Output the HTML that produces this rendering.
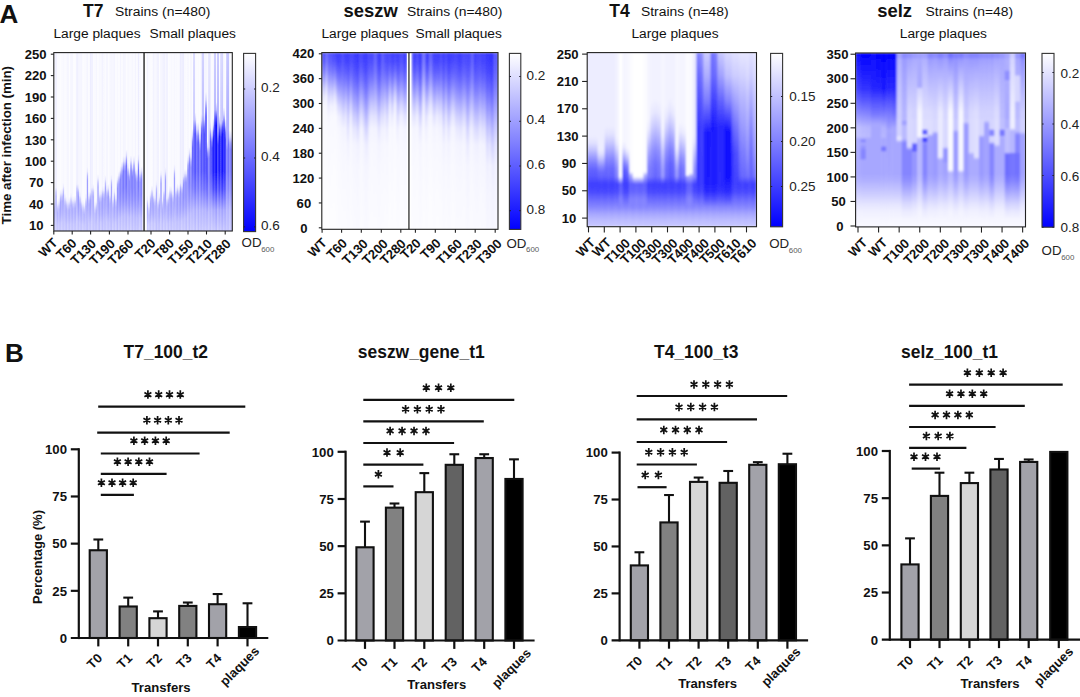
<!DOCTYPE html>
<html><head><meta charset="utf-8"><title>figure</title>
<style>html,body{margin:0;padding:0;background:#fff;}svg{display:block;font-family:"Liberation Sans",sans-serif;}</style></head>
<body>
<svg width="1080" height="697" viewBox="0 0 1080 697">
<rect width="1080" height="697" fill="#fff"/>
<defs>
<linearGradient id="cb" x1="0" y1="0" x2="0" y2="1"><stop offset="0" stop-color="#ffffff"/><stop offset="0.5" stop-color="#8282ff"/><stop offset="1" stop-color="#0000ff"/></linearGradient>
<clipPath id="cpa"><rect x="53.8" y="52.6" width="178.5" height="178.4"/></clipPath>
<filter id="bla" x="-5%" y="-5%" width="110%" height="110%"><feGaussianBlur stdDeviation="0.55"/></filter>
<linearGradient id="g1" x2="0" y2="1"><stop offset="0" stop-color="#f9f9ff"/><stop offset=".814" stop-color="#f9f9ff"/><stop offset=".838" stop-color="#ebebff"/><stop offset=".862" stop-color="#c6c6ff"/><stop offset=".887" stop-color="#b2b2ff"/><stop offset=".902" stop-color="#b2b2ff"/><stop offset=".931" stop-color="#b9b9ff"/><stop offset=".966" stop-color="#c6c6ff"/><stop offset="1" stop-color="#cbcbff"/></linearGradient>
<linearGradient id="g2" x2="0" y2="1"><stop offset="0" stop-color="#ededff"/><stop offset=".733" stop-color="#ededff"/><stop offset=".757" stop-color="#ebebff"/><stop offset=".781" stop-color="#c5c5ff"/><stop offset=".805" stop-color="#b0b0ff"/><stop offset=".852" stop-color="#b0b0ff"/><stop offset=".896" stop-color="#b8b8ff"/><stop offset=".948" stop-color="#c6c6ff"/><stop offset="1" stop-color="#ccccff"/></linearGradient>
<linearGradient id="g3" x2="0" y2="1"><stop offset="0" stop-color="#fbfbff"/><stop offset=".824" stop-color="#fbfbff"/><stop offset=".848" stop-color="#ececff"/><stop offset=".872" stop-color="#c8c8ff"/><stop offset=".896" stop-color="#b4b4ff"/><stop offset=".908" stop-color="#b4b4ff"/><stop offset=".936" stop-color="#babaff"/><stop offset=".968" stop-color="#c6c6ff"/><stop offset="1" stop-color="#cbcbff"/></linearGradient>
<linearGradient id="g4" x2="0" y2="1"><stop offset="0" stop-color="#fbfbff"/><stop offset=".812" stop-color="#fbfbff"/><stop offset=".836" stop-color="#ebebff"/><stop offset=".86" stop-color="#c6c6ff"/><stop offset=".885" stop-color="#b2b2ff"/><stop offset=".901" stop-color="#b2b2ff"/><stop offset=".931" stop-color="#b7b7ff"/><stop offset=".965" stop-color="#c2c2ff"/><stop offset="1" stop-color="#c6c6ff"/></linearGradient>
<linearGradient id="g5" x2="0" y2="1"><stop offset="0" stop-color="#fcfcff"/><stop offset=".767" stop-color="#fcfcff"/><stop offset=".791" stop-color="#e8e8ff"/><stop offset=".815" stop-color="#bebeff"/><stop offset=".839" stop-color="#a7a7ff"/><stop offset=".873" stop-color="#a7a7ff"/><stop offset=".911" stop-color="#b1b1ff"/><stop offset=".955" stop-color="#c4c4ff"/><stop offset="1" stop-color="#cbcbff"/></linearGradient>
<linearGradient id="g6" x2="0" y2="1"><stop offset="0" stop-color="#f9f9ff"/><stop offset=".76" stop-color="#f9f9ff"/><stop offset=".784" stop-color="#e8e8ff"/><stop offset=".809" stop-color="#bdbdff"/><stop offset=".833" stop-color="#a5a5ff"/><stop offset=".869" stop-color="#a5a5ff"/><stop offset=".908" stop-color="#afafff"/><stop offset=".954" stop-color="#c3c3ff"/><stop offset="1" stop-color="#cacaff"/></linearGradient>
<linearGradient id="g7" x2="0" y2="1"><stop offset="0" stop-color="#f8f8ff"/><stop offset=".729" stop-color="#f8f8ff"/><stop offset=".753" stop-color="#eaeaff"/><stop offset=".777" stop-color="#c4c4ff"/><stop offset=".802" stop-color="#afafff"/><stop offset=".849" stop-color="#afafff"/><stop offset=".894" stop-color="#b7b7ff"/><stop offset=".947" stop-color="#c5c5ff"/><stop offset="1" stop-color="#cacaff"/></linearGradient>
<linearGradient id="g8" x2="0" y2="1"><stop offset="0" stop-color="#fafaff"/><stop offset=".787" stop-color="#fafaff"/><stop offset=".811" stop-color="#e9e9ff"/><stop offset=".836" stop-color="#c1c1ff"/><stop offset=".86" stop-color="#acacff"/><stop offset=".885" stop-color="#acacff"/><stop offset=".92" stop-color="#b3b3ff"/><stop offset=".96" stop-color="#c1c1ff"/><stop offset="1" stop-color="#c6c6ff"/></linearGradient>
<linearGradient id="g9" x2="0" y2="1"><stop offset="0" stop-color="#f9f9ff"/><stop offset=".804" stop-color="#f9f9ff"/><stop offset=".829" stop-color="#eaeaff"/><stop offset=".853" stop-color="#c4c4ff"/><stop offset=".877" stop-color="#b0b0ff"/><stop offset=".896" stop-color="#b0b0ff"/><stop offset=".927" stop-color="#b6b6ff"/><stop offset=".964" stop-color="#c2c2ff"/><stop offset="1" stop-color="#c6c6ff"/></linearGradient>
<linearGradient id="g10" x2="0" y2="1"><stop offset="0" stop-color="#f3f3ff"/><stop offset=".812" stop-color="#f3f3ff"/><stop offset=".836" stop-color="#ebebff"/><stop offset=".861" stop-color="#c6c6ff"/><stop offset=".885" stop-color="#b2b2ff"/><stop offset=".901" stop-color="#b2b2ff"/><stop offset=".931" stop-color="#b8b8ff"/><stop offset=".965" stop-color="#c5c5ff"/><stop offset="1" stop-color="#c9c9ff"/></linearGradient>
<linearGradient id="g11" x2="0" y2="1"><stop offset="0" stop-color="#fcfcff"/><stop offset=".808" stop-color="#fcfcff"/><stop offset=".832" stop-color="#ebebff"/><stop offset=".856" stop-color="#c5c5ff"/><stop offset=".881" stop-color="#b1b1ff"/><stop offset=".898" stop-color="#b1b1ff"/><stop offset=".929" stop-color="#b7b7ff"/><stop offset=".964" stop-color="#c3c3ff"/><stop offset="1" stop-color="#c7c7ff"/></linearGradient>
<linearGradient id="g12" x2="0" y2="1"><stop offset="0" stop-color="#f5f5ff"/><stop offset=".784" stop-color="#f5f5ff"/><stop offset=".808" stop-color="#e9e9ff"/><stop offset=".832" stop-color="#c1c1ff"/><stop offset=".857" stop-color="#ababff"/><stop offset=".883" stop-color="#ababff"/><stop offset=".918" stop-color="#b2b2ff"/><stop offset=".959" stop-color="#c1c1ff"/><stop offset="1" stop-color="#c6c6ff"/></linearGradient>
<linearGradient id="g13" x2="0" y2="1"><stop offset="0" stop-color="#f6f6ff"/><stop offset=".803" stop-color="#f6f6ff"/><stop offset=".827" stop-color="#eaeaff"/><stop offset=".851" stop-color="#c4c4ff"/><stop offset=".876" stop-color="#afafff"/><stop offset=".895" stop-color="#afafff"/><stop offset=".927" stop-color="#b6b6ff"/><stop offset=".963" stop-color="#c3c3ff"/><stop offset="1" stop-color="#c7c7ff"/></linearGradient>
<linearGradient id="g14" x2="0" y2="1"><stop offset="0" stop-color="#fcfcff"/><stop offset=".801" stop-color="#fcfcff"/><stop offset=".826" stop-color="#eaeaff"/><stop offset=".85" stop-color="#c4c4ff"/><stop offset=".874" stop-color="#afafff"/><stop offset=".894" stop-color="#afafff"/><stop offset=".926" stop-color="#b5b5ff"/><stop offset=".963" stop-color="#c1c1ff"/><stop offset="1" stop-color="#c5c5ff"/></linearGradient>
<linearGradient id="g15" x2="0" y2="1"><stop offset="0" stop-color="#fbfbff"/><stop offset=".799" stop-color="#fbfbff"/><stop offset=".823" stop-color="#eaeaff"/><stop offset=".847" stop-color="#c3c3ff"/><stop offset=".872" stop-color="#afafff"/><stop offset=".893" stop-color="#afafff"/><stop offset=".925" stop-color="#b6b6ff"/><stop offset=".962" stop-color="#c4c4ff"/><stop offset="1" stop-color="#c9c9ff"/></linearGradient>
<linearGradient id="g16" x2="0" y2="1"><stop offset="0" stop-color="#ededff"/><stop offset=".713" stop-color="#ededff"/><stop offset=".738" stop-color="#eaeaff"/><stop offset=".762" stop-color="#c2c2ff"/><stop offset=".786" stop-color="#acacff"/><stop offset=".84" stop-color="#acacff"/><stop offset=".888" stop-color="#b5b5ff"/><stop offset=".944" stop-color="#c5c5ff"/><stop offset="1" stop-color="#cacaff"/></linearGradient>
<linearGradient id="g17" x2="0" y2="1"><stop offset="0" stop-color="#f5f5ff"/><stop offset=".735" stop-color="#f5f5ff"/><stop offset=".759" stop-color="#e6e6ff"/><stop offset=".783" stop-color="#b8b8ff"/><stop offset=".808" stop-color="#9f9fff"/><stop offset=".853" stop-color="#9f9fff"/><stop offset=".897" stop-color="#aaaaff"/><stop offset=".949" stop-color="#c0c0ff"/><stop offset="1" stop-color="#c8c8ff"/></linearGradient>
<linearGradient id="g18" x2="0" y2="1"><stop offset="0" stop-color="#f5f5ff"/><stop offset=".777" stop-color="#f5f5ff"/><stop offset=".801" stop-color="#e9e9ff"/><stop offset=".825" stop-color="#c0c0ff"/><stop offset=".85" stop-color="#a9a9ff"/><stop offset=".879" stop-color="#a9a9ff"/><stop offset=".915" stop-color="#b1b1ff"/><stop offset=".958" stop-color="#c1c1ff"/><stop offset="1" stop-color="#c6c6ff"/></linearGradient>
<linearGradient id="g19" x2="0" y2="1"><stop offset="0" stop-color="#f5f5ff"/><stop offset=".808" stop-color="#f5f5ff"/><stop offset=".832" stop-color="#ebebff"/><stop offset=".856" stop-color="#c5c5ff"/><stop offset=".88" stop-color="#b1b1ff"/><stop offset=".898" stop-color="#b1b1ff"/><stop offset=".929" stop-color="#b7b7ff"/><stop offset=".964" stop-color="#c4c4ff"/><stop offset="1" stop-color="#c8c8ff"/></linearGradient>
<linearGradient id="g20" x2="0" y2="1"><stop offset="0" stop-color="#fbfbff"/><stop offset=".824" stop-color="#fbfbff"/><stop offset=".848" stop-color="#ececff"/><stop offset=".872" stop-color="#c8c8ff"/><stop offset=".897" stop-color="#b4b4ff"/><stop offset=".908" stop-color="#b4b4ff"/><stop offset=".936" stop-color="#babaff"/><stop offset=".968" stop-color="#c6c6ff"/><stop offset="1" stop-color="#cacaff"/></linearGradient>
<linearGradient id="g21" x2="0" y2="1"><stop offset="0" stop-color="#fafaff"/><stop offset=".834" stop-color="#fafaff"/><stop offset=".858" stop-color="#ececff"/><stop offset=".882" stop-color="#cacaff"/><stop offset=".907" stop-color="#b7b7ff"/><stop offset=".914" stop-color="#b7b7ff"/><stop offset=".94" stop-color="#bdbdff"/><stop offset=".97" stop-color="#c8c8ff"/><stop offset="1" stop-color="#ccccff"/></linearGradient>
<linearGradient id="g22" x2="0" y2="1"><stop offset="0" stop-color="#f8f8ff"/><stop offset=".789" stop-color="#f8f8ff"/><stop offset=".814" stop-color="#eaeaff"/><stop offset=".838" stop-color="#c2c2ff"/><stop offset=".862" stop-color="#acacff"/><stop offset=".887" stop-color="#acacff"/><stop offset=".921" stop-color="#b2b2ff"/><stop offset=".96" stop-color="#bebeff"/><stop offset="1" stop-color="#c2c2ff"/></linearGradient>
<linearGradient id="g23" x2="0" y2="1"><stop offset="0" stop-color="#f5f5ff"/><stop offset=".64" stop-color="#f5f5ff"/><stop offset=".666" stop-color="#e6e6ff"/><stop offset=".692" stop-color="#b7b7ff"/><stop offset=".718" stop-color="#9e9eff"/><stop offset=".794" stop-color="#9e9eff"/><stop offset=".856" stop-color="#a8a8ff"/><stop offset=".928" stop-color="#bdbdff"/><stop offset="1" stop-color="#c4c4ff"/></linearGradient>
<linearGradient id="g24" x2="0" y2="1"><stop offset="0" stop-color="#fcfcff"/><stop offset=".777" stop-color="#fcfcff"/><stop offset=".802" stop-color="#e9e9ff"/><stop offset=".826" stop-color="#c0c0ff"/><stop offset=".85" stop-color="#a9a9ff"/><stop offset=".879" stop-color="#a9a9ff"/><stop offset=".916" stop-color="#b2b2ff"/><stop offset=".958" stop-color="#c2c2ff"/><stop offset="1" stop-color="#c8c8ff"/></linearGradient>
<linearGradient id="g25" x2="0" y2="1"><stop offset="0" stop-color="#ededff"/><stop offset=".757" stop-color="#ededff"/><stop offset=".781" stop-color="#e8e8ff"/><stop offset=".806" stop-color="#bcbcff"/><stop offset=".83" stop-color="#a5a5ff"/><stop offset=".867" stop-color="#a5a5ff"/><stop offset=".907" stop-color="#afafff"/><stop offset=".953" stop-color="#c3c3ff"/><stop offset="1" stop-color="#cacaff"/></linearGradient>
<linearGradient id="g26" x2="0" y2="1"><stop offset="0" stop-color="#ededff"/><stop offset=".731" stop-color="#ededff"/><stop offset=".755" stop-color="#eaeaff"/><stop offset=".779" stop-color="#c4c4ff"/><stop offset=".804" stop-color="#b0b0ff"/><stop offset=".85" stop-color="#b0b0ff"/><stop offset=".895" stop-color="#b7b7ff"/><stop offset=".948" stop-color="#c6c6ff"/><stop offset="1" stop-color="#cbcbff"/></linearGradient>
<linearGradient id="g27" x2="0" y2="1"><stop offset="0" stop-color="#fbfbff"/><stop offset=".736" stop-color="#fbfbff"/><stop offset=".76" stop-color="#ebebff"/><stop offset=".785" stop-color="#c5c5ff"/><stop offset=".809" stop-color="#b1b1ff"/><stop offset=".854" stop-color="#b1b1ff"/><stop offset=".898" stop-color="#b7b7ff"/><stop offset=".949" stop-color="#c4c4ff"/><stop offset="1" stop-color="#c8c8ff"/></linearGradient>
<linearGradient id="g28" x2="0" y2="1"><stop offset="0" stop-color="#fafaff"/><stop offset=".831" stop-color="#fafaff"/><stop offset=".856" stop-color="#ececff"/><stop offset=".88" stop-color="#c9c9ff"/><stop offset=".904" stop-color="#b6b6ff"/><stop offset=".913" stop-color="#b6b6ff"/><stop offset=".939" stop-color="#b9b9ff"/><stop offset=".969" stop-color="#c0c0ff"/><stop offset="1" stop-color="#c2c2ff"/></linearGradient>
<linearGradient id="g29" x2="0" y2="1"><stop offset="0" stop-color="#f6f6ff"/><stop offset=".814" stop-color="#f6f6ff"/><stop offset=".838" stop-color="#ebebff"/><stop offset=".863" stop-color="#c6c6ff"/><stop offset=".887" stop-color="#b2b2ff"/><stop offset=".902" stop-color="#b2b2ff"/><stop offset=".931" stop-color="#b8b8ff"/><stop offset=".966" stop-color="#c5c5ff"/><stop offset="1" stop-color="#c9c9ff"/></linearGradient>
<linearGradient id="g30" x2="0" y2="1"><stop offset="0" stop-color="#fcfcff"/><stop offset=".681" stop-color="#fcfcff"/><stop offset=".706" stop-color="#e8e8ff"/><stop offset=".73" stop-color="#bdbdff"/><stop offset=".754" stop-color="#a6a6ff"/><stop offset=".82" stop-color="#a6a6ff"/><stop offset=".874" stop-color="#afafff"/><stop offset=".937" stop-color="#c0c0ff"/><stop offset="1" stop-color="#c7c7ff"/></linearGradient>
<linearGradient id="g31" x2="0" y2="1"><stop offset="0" stop-color="#f8f8ff"/><stop offset=".771" stop-color="#f8f8ff"/><stop offset=".795" stop-color="#e8e8ff"/><stop offset=".819" stop-color="#bebeff"/><stop offset=".844" stop-color="#a8a8ff"/><stop offset=".875" stop-color="#a8a8ff"/><stop offset=".913" stop-color="#afafff"/><stop offset=".956" stop-color="#bebeff"/><stop offset="1" stop-color="#c3c3ff"/></linearGradient>
<linearGradient id="g32" x2="0" y2="1"><stop offset="0" stop-color="#f7f7ff"/><stop offset=".766" stop-color="#f7f7ff"/><stop offset=".79" stop-color="#e8e8ff"/><stop offset=".814" stop-color="#bebeff"/><stop offset=".839" stop-color="#a7a7ff"/><stop offset=".872" stop-color="#a7a7ff"/><stop offset=".91" stop-color="#b0b0ff"/><stop offset=".955" stop-color="#c3c3ff"/><stop offset="1" stop-color="#cacaff"/></linearGradient>
<linearGradient id="g33" x2="0" y2="1"><stop offset="0" stop-color="#f3f3ff"/><stop offset=".746" stop-color="#f3f3ff"/><stop offset=".77" stop-color="#e7e7ff"/><stop offset=".794" stop-color="#babaff"/><stop offset=".819" stop-color="#a2a2ff"/><stop offset=".86" stop-color="#a2a2ff"/><stop offset=".902" stop-color="#ababff"/><stop offset=".951" stop-color="#bdbdff"/><stop offset="1" stop-color="#c4c4ff"/></linearGradient>
<linearGradient id="g34" x2="0" y2="1"><stop offset="0" stop-color="#f7f7ff"/><stop offset=".748" stop-color="#f7f7ff"/><stop offset=".772" stop-color="#e7e7ff"/><stop offset=".796" stop-color="#babaff"/><stop offset=".821" stop-color="#a2a2ff"/><stop offset=".861" stop-color="#a2a2ff"/><stop offset=".903" stop-color="#ababff"/><stop offset=".951" stop-color="#bdbdff"/><stop offset="1" stop-color="#c4c4ff"/></linearGradient>
<linearGradient id="g35" x2="0" y2="1"><stop offset="0" stop-color="#fbfbff"/><stop offset=".687" stop-color="#fbfbff"/><stop offset=".711" stop-color="#e8e8ff"/><stop offset=".736" stop-color="#bebeff"/><stop offset=".76" stop-color="#a7a7ff"/><stop offset=".823" stop-color="#a7a7ff"/><stop offset=".876" stop-color="#b1b1ff"/><stop offset=".938" stop-color="#c3c3ff"/><stop offset="1" stop-color="#c9c9ff"/></linearGradient>
<linearGradient id="g36" x2="0" y2="1"><stop offset="0" stop-color="#f4f4ff"/><stop offset=".74" stop-color="#f4f4ff"/><stop offset=".764" stop-color="#e7e7ff"/><stop offset=".789" stop-color="#b9b9ff"/><stop offset=".813" stop-color="#a1a1ff"/><stop offset=".856" stop-color="#a1a1ff"/><stop offset=".899" stop-color="#ababff"/><stop offset=".95" stop-color="#c0c0ff"/><stop offset="1" stop-color="#c7c7ff"/></linearGradient>
<linearGradient id="g37" x2="0" y2="1"><stop offset="0" stop-color="#fcfcff"/><stop offset=".735" stop-color="#fcfcff"/><stop offset=".759" stop-color="#e6e6ff"/><stop offset=".783" stop-color="#b8b8ff"/><stop offset=".808" stop-color="#9f9fff"/><stop offset=".853" stop-color="#9f9fff"/><stop offset=".897" stop-color="#ababff"/><stop offset=".949" stop-color="#c2c2ff"/><stop offset="1" stop-color="#cacaff"/></linearGradient>
<linearGradient id="g38" x2="0" y2="1"><stop offset="0" stop-color="#f6f6ff"/><stop offset=".774" stop-color="#f6f6ff"/><stop offset=".799" stop-color="#e9e9ff"/><stop offset=".823" stop-color="#bfbfff"/><stop offset=".847" stop-color="#a9a9ff"/><stop offset=".878" stop-color="#a9a9ff"/><stop offset=".914" stop-color="#b0b0ff"/><stop offset=".957" stop-color="#bebeff"/><stop offset="1" stop-color="#c3c3ff"/></linearGradient>
<linearGradient id="g39" x2="0" y2="1"><stop offset="0" stop-color="#f6f6ff"/><stop offset=".683" stop-color="#f6f6ff"/><stop offset=".707" stop-color="#e8e8ff"/><stop offset=".732" stop-color="#bdbdff"/><stop offset=".756" stop-color="#a7a7ff"/><stop offset=".821" stop-color="#a7a7ff"/><stop offset=".875" stop-color="#aeaeff"/><stop offset=".937" stop-color="#bdbdff"/><stop offset="1" stop-color="#c3c3ff"/></linearGradient>
<linearGradient id="g40" x2="0" y2="1"><stop offset="0" stop-color="#f6f6ff"/><stop offset=".799" stop-color="#f6f6ff"/><stop offset=".823" stop-color="#eaeaff"/><stop offset=".848" stop-color="#c3c3ff"/><stop offset=".872" stop-color="#afafff"/><stop offset=".893" stop-color="#afafff"/><stop offset=".925" stop-color="#b6b6ff"/><stop offset=".962" stop-color="#c5c5ff"/><stop offset="1" stop-color="#cacaff"/></linearGradient>
<linearGradient id="g41" x2="0" y2="1"><stop offset="0" stop-color="#f4f4ff"/><stop offset=".756" stop-color="#f4f4ff"/><stop offset=".78" stop-color="#e7e7ff"/><stop offset=".804" stop-color="#bcbcff"/><stop offset=".828" stop-color="#a4a4ff"/><stop offset=".866" stop-color="#a4a4ff"/><stop offset=".906" stop-color="#aeaeff"/><stop offset=".953" stop-color="#c1c1ff"/><stop offset="1" stop-color="#c8c8ff"/></linearGradient>
<linearGradient id="g42" x2="0" y2="1"><stop offset="0" stop-color="#fcfcff"/><stop offset=".792" stop-color="#fcfcff"/><stop offset=".816" stop-color="#eaeaff"/><stop offset=".84" stop-color="#c2c2ff"/><stop offset=".865" stop-color="#adadff"/><stop offset=".888" stop-color="#adadff"/><stop offset=".922" stop-color="#b5b5ff"/><stop offset=".961" stop-color="#c5c5ff"/><stop offset="1" stop-color="#cbcbff"/></linearGradient>
<linearGradient id="g43" x2="0" y2="1"><stop offset="0" stop-color="#f8f8ff"/><stop offset=".689" stop-color="#f8f8ff"/><stop offset=".713" stop-color="#e3e3ff"/><stop offset=".737" stop-color="#b0b0ff"/><stop offset=".762" stop-color="#9494ff"/><stop offset=".824" stop-color="#9494ff"/><stop offset=".877" stop-color="#a1a1ff"/><stop offset=".939" stop-color="#b9b9ff"/><stop offset="1" stop-color="#c2c2ff"/></linearGradient>
<linearGradient id="g44" x2="0" y2="1"><stop offset="0" stop-color="#fcfcff"/><stop offset=".664" stop-color="#fcfcff"/><stop offset=".689" stop-color="#e2e2ff"/><stop offset=".714" stop-color="#acacff"/><stop offset=".738" stop-color="#8f8fff"/><stop offset=".809" stop-color="#8f8fff"/><stop offset=".866" stop-color="#9f9fff"/><stop offset=".933" stop-color="#bfbfff"/><stop offset="1" stop-color="#cbcbff"/></linearGradient>
<linearGradient id="g45" x2="0" y2="1"><stop offset="0" stop-color="#f5f5ff"/><stop offset=".634" stop-color="#f5f5ff"/><stop offset=".66" stop-color="#e0e0ff"/><stop offset=".686" stop-color="#a6a6ff"/><stop offset=".712" stop-color="#8787ff"/><stop offset=".79" stop-color="#8787ff"/><stop offset=".853" stop-color="#9999ff"/><stop offset=".927" stop-color="#bbbbff"/><stop offset="1" stop-color="#c8c8ff"/></linearGradient>
<linearGradient id="g46" x2="0" y2="1"><stop offset="0" stop-color="#fbfbff"/><stop offset=".609" stop-color="#fbfbff"/><stop offset=".636" stop-color="#dedeff"/><stop offset=".664" stop-color="#a2a2ff"/><stop offset=".691" stop-color="#8282ff"/><stop offset=".775" stop-color="#8282ff"/><stop offset=".842" stop-color="#9595ff"/><stop offset=".921" stop-color="#bcbcff"/><stop offset="1" stop-color="#c9c9ff"/></linearGradient>
<linearGradient id="g47" x2="0" y2="1"><stop offset="0" stop-color="#f5f5ff"/><stop offset=".579" stop-color="#f5f5ff"/><stop offset=".608" stop-color="#ddddff"/><stop offset=".637" stop-color="#9d9dff"/><stop offset=".666" stop-color="#7a7aff"/><stop offset=".756" stop-color="#7a7aff"/><stop offset=".829" stop-color="#9090ff"/><stop offset=".915" stop-color="#bbbbff"/><stop offset="1" stop-color="#cbcbff"/></linearGradient>
<linearGradient id="g48" x2="0" y2="1"><stop offset="0" stop-color="#f5f5ff"/><stop offset=".58" stop-color="#f5f5ff"/><stop offset=".609" stop-color="#ddddff"/><stop offset=".638" stop-color="#9d9dff"/><stop offset=".667" stop-color="#7b7bff"/><stop offset=".757" stop-color="#7b7bff"/><stop offset=".83" stop-color="#8f8fff"/><stop offset=".915" stop-color="#b8b8ff"/><stop offset="1" stop-color="#c6c6ff"/></linearGradient>
<linearGradient id="g49" x2="0" y2="1"><stop offset="0" stop-color="#fcfcff"/><stop offset=".544" stop-color="#fcfcff"/><stop offset=".575" stop-color="#dbdbff"/><stop offset=".606" stop-color="#9797ff"/><stop offset=".637" stop-color="#7272ff"/><stop offset=".735" stop-color="#7272ff"/><stop offset=".814" stop-color="#8989ff"/><stop offset=".907" stop-color="#b6b6ff"/><stop offset="1" stop-color="#c7c7ff"/></linearGradient>
<linearGradient id="g50" x2="0" y2="1"><stop offset="0" stop-color="#f6f6ff"/><stop offset=".616" stop-color="#f6f6ff"/><stop offset=".643" stop-color="#dfdfff"/><stop offset=".67" stop-color="#a3a3ff"/><stop offset=".697" stop-color="#8383ff"/><stop offset=".779" stop-color="#8383ff"/><stop offset=".845" stop-color="#9797ff"/><stop offset=".923" stop-color="#bebeff"/><stop offset="1" stop-color="#ccccff"/></linearGradient>
<linearGradient id="g51" x2="0" y2="1"><stop offset="0" stop-color="#fafaff"/><stop offset=".645" stop-color="#fafaff"/><stop offset=".671" stop-color="#e1e1ff"/><stop offset=".697" stop-color="#a8a8ff"/><stop offset=".722" stop-color="#8a8aff"/><stop offset=".797" stop-color="#8a8aff"/><stop offset=".858" stop-color="#9b9bff"/><stop offset=".929" stop-color="#bdbdff"/><stop offset="1" stop-color="#c9c9ff"/></linearGradient>
<linearGradient id="g52" x2="0" y2="1"><stop offset="0" stop-color="#f9f9ff"/><stop offset=".576" stop-color="#f9f9ff"/><stop offset=".605" stop-color="#dcdcff"/><stop offset=".634" stop-color="#9c9cff"/><stop offset=".664" stop-color="#7a7aff"/><stop offset=".755" stop-color="#7a7aff"/><stop offset=".828" stop-color="#9090ff"/><stop offset=".914" stop-color="#bbbbff"/><stop offset="1" stop-color="#cbcbff"/></linearGradient>
<linearGradient id="g53" x2="0" y2="1"><stop offset="0" stop-color="#f7f7ff"/><stop offset=".617" stop-color="#f7f7ff"/><stop offset=".644" stop-color="#dfdfff"/><stop offset=".671" stop-color="#a4a4ff"/><stop offset=".698" stop-color="#8484ff"/><stop offset=".78" stop-color="#8484ff"/><stop offset=".846" stop-color="#9696ff"/><stop offset=".923" stop-color="#b9b9ff"/><stop offset="1" stop-color="#c6c6ff"/></linearGradient>
<linearGradient id="g54" x2="0" y2="1"><stop offset="0" stop-color="#fafaff"/><stop offset=".578" stop-color="#fafaff"/><stop offset=".607" stop-color="#ddddff"/><stop offset=".636" stop-color="#9d9dff"/><stop offset=".665" stop-color="#7a7aff"/><stop offset=".756" stop-color="#7a7aff"/><stop offset=".829" stop-color="#8f8fff"/><stop offset=".914" stop-color="#b7b7ff"/><stop offset="1" stop-color="#c6c6ff"/></linearGradient>
<linearGradient id="g55" x2="0" y2="1"><stop offset="0" stop-color="#f4f4ff"/><stop offset=".636" stop-color="#f4f4ff"/><stop offset=".662" stop-color="#e0e0ff"/><stop offset=".688" stop-color="#a7a7ff"/><stop offset=".715" stop-color="#8888ff"/><stop offset=".792" stop-color="#8888ff"/><stop offset=".854" stop-color="#9999ff"/><stop offset=".927" stop-color="#bbbbff"/><stop offset="1" stop-color="#c7c7ff"/></linearGradient>
<linearGradient id="g56" x2="0" y2="1"><stop offset="0" stop-color="#fbfbff"/><stop offset=".652" stop-color="#fbfbff"/><stop offset=".677" stop-color="#e1e1ff"/><stop offset=".703" stop-color="#aaaaff"/><stop offset=".728" stop-color="#8c8cff"/><stop offset=".802" stop-color="#8c8cff"/><stop offset=".861" stop-color="#9b9bff"/><stop offset=".931" stop-color="#b8b8ff"/><stop offset="1" stop-color="#c2c2ff"/></linearGradient>
<linearGradient id="g57" x2="0" y2="1"><stop offset="0" stop-color="#ededff"/><stop offset=".569" stop-color="#ededff"/><stop offset=".598" stop-color="#dcdcff"/><stop offset=".628" stop-color="#9b9bff"/><stop offset=".657" stop-color="#7878ff"/><stop offset=".75" stop-color="#7878ff"/><stop offset=".825" stop-color="#8f8fff"/><stop offset=".913" stop-color="#bbbbff"/><stop offset="1" stop-color="#cbcbff"/></linearGradient>
<linearGradient id="g58" x2="0" y2="1"><stop offset="0" stop-color="#f8f8ff"/><stop offset=".652" stop-color="#f8f8ff"/><stop offset=".678" stop-color="#e1e1ff"/><stop offset=".703" stop-color="#aaaaff"/><stop offset=".728" stop-color="#8c8cff"/><stop offset=".802" stop-color="#8c8cff"/><stop offset=".861" stop-color="#9d9dff"/><stop offset=".931" stop-color="#bfbfff"/><stop offset="1" stop-color="#cbcbff"/></linearGradient>
<linearGradient id="g59" x2="0" y2="1"><stop offset="0" stop-color="#fcfcff"/><stop offset=".637" stop-color="#fcfcff"/><stop offset=".663" stop-color="#e0e0ff"/><stop offset=".689" stop-color="#a7a7ff"/><stop offset=".715" stop-color="#8888ff"/><stop offset=".792" stop-color="#8888ff"/><stop offset=".855" stop-color="#9999ff"/><stop offset=".927" stop-color="#babaff"/><stop offset="1" stop-color="#c5c5ff"/></linearGradient>
<linearGradient id="g60" x2="0" y2="1"><stop offset="0" stop-color="#f4f4ff"/><stop offset=".8" stop-color="#f4f4ff"/><stop offset=".824" stop-color="#eaeaff"/><stop offset=".848" stop-color="#c4c4ff"/><stop offset=".872" stop-color="#afafff"/><stop offset=".893" stop-color="#afafff"/><stop offset=".925" stop-color="#b6b6ff"/><stop offset=".963" stop-color="#c5c5ff"/><stop offset="1" stop-color="#cacaff"/></linearGradient>
<linearGradient id="g61" x2="0" y2="1"><stop offset="0" stop-color="#fafaff"/><stop offset=".837" stop-color="#fafaff"/><stop offset=".861" stop-color="#ececff"/><stop offset=".886" stop-color="#cacaff"/><stop offset=".91" stop-color="#b8b8ff"/><stop offset=".916" stop-color="#b8b8ff"/><stop offset=".941" stop-color="#bdbdff"/><stop offset=".971" stop-color="#c7c7ff"/><stop offset="1" stop-color="#cacaff"/></linearGradient>
<linearGradient id="g62" x2="0" y2="1"><stop offset="0" stop-color="#fbfbff"/><stop offset=".773" stop-color="#fbfbff"/><stop offset=".797" stop-color="#e9e9ff"/><stop offset=".821" stop-color="#bfbfff"/><stop offset=".845" stop-color="#a8a8ff"/><stop offset=".876" stop-color="#a8a8ff"/><stop offset=".913" stop-color="#b1b1ff"/><stop offset=".957" stop-color="#c4c4ff"/><stop offset="1" stop-color="#cacaff"/></linearGradient>
<linearGradient id="g63" x2="0" y2="1"><stop offset="0" stop-color="#fbfbff"/><stop offset=".744" stop-color="#fbfbff"/><stop offset=".768" stop-color="#e7e7ff"/><stop offset=".792" stop-color="#babaff"/><stop offset=".816" stop-color="#a1a1ff"/><stop offset=".858" stop-color="#a1a1ff"/><stop offset=".901" stop-color="#adadff"/><stop offset=".95" stop-color="#c4c4ff"/><stop offset="1" stop-color="#ccccff"/></linearGradient>
<linearGradient id="g64" x2="0" y2="1"><stop offset="0" stop-color="#f3f3ff"/><stop offset=".775" stop-color="#f3f3ff"/><stop offset=".8" stop-color="#e9e9ff"/><stop offset=".824" stop-color="#bfbfff"/><stop offset=".848" stop-color="#a9a9ff"/><stop offset=".878" stop-color="#a9a9ff"/><stop offset=".915" stop-color="#b2b2ff"/><stop offset=".957" stop-color="#c5c5ff"/><stop offset="1" stop-color="#cbcbff"/></linearGradient>
<linearGradient id="g65" x2="0" y2="1"><stop offset="0" stop-color="#f7f7ff"/><stop offset=".788" stop-color="#f7f7ff"/><stop offset=".812" stop-color="#e9e9ff"/><stop offset=".837" stop-color="#c1c1ff"/><stop offset=".861" stop-color="#acacff"/><stop offset=".886" stop-color="#acacff"/><stop offset=".92" stop-color="#b5b5ff"/><stop offset=".96" stop-color="#c6c6ff"/><stop offset="1" stop-color="#ccccff"/></linearGradient>
<linearGradient id="g66" x2="0" y2="1"><stop offset="0" stop-color="#f6f6ff"/><stop offset=".715" stop-color="#f6f6ff"/><stop offset=".739" stop-color="#eaeaff"/><stop offset=".763" stop-color="#c2c2ff"/><stop offset=".787" stop-color="#adadff"/><stop offset=".84" stop-color="#adadff"/><stop offset=".888" stop-color="#b3b3ff"/><stop offset=".944" stop-color="#bebeff"/><stop offset="1" stop-color="#c3c3ff"/></linearGradient>
<linearGradient id="g67" x2="0" y2="1"><stop offset="0" stop-color="#ededff"/><stop offset=".806" stop-color="#ededff"/><stop offset=".83" stop-color="#ebebff"/><stop offset=".854" stop-color="#c5c5ff"/><stop offset=".878" stop-color="#b0b0ff"/><stop offset=".897" stop-color="#b0b0ff"/><stop offset=".928" stop-color="#b6b6ff"/><stop offset=".964" stop-color="#c1c1ff"/><stop offset="1" stop-color="#c5c5ff"/></linearGradient>
<linearGradient id="g68" x2="0" y2="1"><stop offset="0" stop-color="#fcfcff"/><stop offset=".784" stop-color="#fcfcff"/><stop offset=".809" stop-color="#e9e9ff"/><stop offset=".833" stop-color="#c1c1ff"/><stop offset=".857" stop-color="#ababff"/><stop offset=".884" stop-color="#ababff"/><stop offset=".919" stop-color="#b3b3ff"/><stop offset=".959" stop-color="#c2c2ff"/><stop offset="1" stop-color="#c8c8ff"/></linearGradient>
<linearGradient id="g69" x2="0" y2="1"><stop offset="0" stop-color="#f5f5ff"/><stop offset=".658" stop-color="#f5f5ff"/><stop offset=".683" stop-color="#e7e7ff"/><stop offset=".708" stop-color="#babaff"/><stop offset=".733" stop-color="#a2a2ff"/><stop offset=".805" stop-color="#a2a2ff"/><stop offset=".864" stop-color="#adadff"/><stop offset=".932" stop-color="#c3c3ff"/><stop offset="1" stop-color="#cbcbff"/></linearGradient>
<linearGradient id="g70" x2="0" y2="1"><stop offset="0" stop-color="#f4f4ff"/><stop offset=".805" stop-color="#f4f4ff"/><stop offset=".829" stop-color="#ebebff"/><stop offset=".854" stop-color="#c4c4ff"/><stop offset=".878" stop-color="#b0b0ff"/><stop offset=".896" stop-color="#b0b0ff"/><stop offset=".927" stop-color="#b6b6ff"/><stop offset=".964" stop-color="#c2c2ff"/><stop offset="1" stop-color="#c6c6ff"/></linearGradient>
<linearGradient id="g71" x2="0" y2="1"><stop offset="0" stop-color="#ededff"/><stop offset=".751" stop-color="#ededff"/><stop offset=".775" stop-color="#e7e7ff"/><stop offset=".799" stop-color="#bbbbff"/><stop offset=".823" stop-color="#a3a3ff"/><stop offset=".863" stop-color="#a3a3ff"/><stop offset=".904" stop-color="#aeaeff"/><stop offset=".952" stop-color="#c3c3ff"/><stop offset="1" stop-color="#cbcbff"/></linearGradient>
<linearGradient id="g72" x2="0" y2="1"><stop offset="0" stop-color="#f7f7ff"/><stop offset=".642" stop-color="#f7f7ff"/><stop offset=".668" stop-color="#e6e6ff"/><stop offset=".694" stop-color="#b8b8ff"/><stop offset=".719" stop-color="#9f9fff"/><stop offset=".795" stop-color="#9f9fff"/><stop offset=".857" stop-color="#aaaaff"/><stop offset=".928" stop-color="#c1c1ff"/><stop offset="1" stop-color="#c9c9ff"/></linearGradient>
<linearGradient id="g73" x2="0" y2="1"><stop offset="0" stop-color="#ededff"/><stop offset=".792" stop-color="#ededff"/><stop offset=".816" stop-color="#eaeaff"/><stop offset=".84" stop-color="#c2c2ff"/><stop offset=".865" stop-color="#adadff"/><stop offset=".888" stop-color="#adadff"/><stop offset=".922" stop-color="#b5b5ff"/><stop offset=".961" stop-color="#c6c6ff"/><stop offset="1" stop-color="#ccccff"/></linearGradient>
<linearGradient id="g74" x2="0" y2="1"><stop offset="0" stop-color="#fcfcff"/><stop offset=".779" stop-color="#fcfcff"/><stop offset=".804" stop-color="#e9e9ff"/><stop offset=".828" stop-color="#c0c0ff"/><stop offset=".852" stop-color="#aaaaff"/><stop offset=".881" stop-color="#aaaaff"/><stop offset=".916" stop-color="#b2b2ff"/><stop offset=".958" stop-color="#c1c1ff"/><stop offset="1" stop-color="#c6c6ff"/></linearGradient>
<linearGradient id="g75" x2="0" y2="1"><stop offset="0" stop-color="#fafaff"/><stop offset=".745" stop-color="#fafaff"/><stop offset=".769" stop-color="#e7e7ff"/><stop offset=".793" stop-color="#babaff"/><stop offset=".818" stop-color="#a2a2ff"/><stop offset=".859" stop-color="#a2a2ff"/><stop offset=".901" stop-color="#acacff"/><stop offset=".951" stop-color="#c0c0ff"/><stop offset="1" stop-color="#c8c8ff"/></linearGradient>
<linearGradient id="g76" x2="0" y2="1"><stop offset="0" stop-color="#f8f8ff"/><stop offset=".748" stop-color="#f8f8ff"/><stop offset=".772" stop-color="#e7e7ff"/><stop offset=".796" stop-color="#babaff"/><stop offset=".821" stop-color="#a2a2ff"/><stop offset=".861" stop-color="#a2a2ff"/><stop offset=".903" stop-color="#acacff"/><stop offset=".951" stop-color="#c0c0ff"/><stop offset="1" stop-color="#c7c7ff"/></linearGradient>
<linearGradient id="g77" x2="0" y2="1"><stop offset="0" stop-color="#fafaff"/><stop offset=".768" stop-color="#fafaff"/><stop offset=".793" stop-color="#e8e8ff"/><stop offset=".817" stop-color="#bebeff"/><stop offset=".841" stop-color="#a7a7ff"/><stop offset=".874" stop-color="#a7a7ff"/><stop offset=".912" stop-color="#afafff"/><stop offset=".956" stop-color="#c0c0ff"/><stop offset="1" stop-color="#c6c6ff"/></linearGradient>
<linearGradient id="g78" x2="0" y2="1"><stop offset="0" stop-color="#f7f7ff"/><stop offset=".626" stop-color="#f7f7ff"/><stop offset=".653" stop-color="#e5e5ff"/><stop offset=".679" stop-color="#b5b5ff"/><stop offset=".706" stop-color="#9c9cff"/><stop offset=".786" stop-color="#9c9cff"/><stop offset=".85" stop-color="#a8a8ff"/><stop offset=".925" stop-color="#c2c2ff"/><stop offset="1" stop-color="#cbcbff"/></linearGradient>
<linearGradient id="g79" x2="0" y2="1"><stop offset="0" stop-color="#f8f8ff"/><stop offset=".748" stop-color="#f8f8ff"/><stop offset=".772" stop-color="#e7e7ff"/><stop offset=".796" stop-color="#babaff"/><stop offset=".821" stop-color="#a2a2ff"/><stop offset=".861" stop-color="#a2a2ff"/><stop offset=".903" stop-color="#ababff"/><stop offset=".951" stop-color="#bdbdff"/><stop offset="1" stop-color="#c3c3ff"/></linearGradient>
<linearGradient id="g80" x2="0" y2="1"><stop offset="0" stop-color="#fafaff"/><stop offset=".732" stop-color="#fafaff"/><stop offset=".756" stop-color="#e6e6ff"/><stop offset=".78" stop-color="#b8b8ff"/><stop offset=".805" stop-color="#9f9fff"/><stop offset=".851" stop-color="#9f9fff"/><stop offset=".896" stop-color="#aaaaff"/><stop offset=".948" stop-color="#c1c1ff"/><stop offset="1" stop-color="#c9c9ff"/></linearGradient>
<linearGradient id="g81" x2="0" y2="1"><stop offset="0" stop-color="#f9f9ff"/><stop offset=".743" stop-color="#f9f9ff"/><stop offset=".767" stop-color="#e7e7ff"/><stop offset=".792" stop-color="#babaff"/><stop offset=".816" stop-color="#a1a1ff"/><stop offset=".858" stop-color="#a1a1ff"/><stop offset=".901" stop-color="#aaaaff"/><stop offset=".95" stop-color="#bcbcff"/><stop offset="1" stop-color="#c2c2ff"/></linearGradient>
<linearGradient id="g82" x2="0" y2="1"><stop offset="0" stop-color="#ededff"/><stop offset=".708" stop-color="#ededff"/><stop offset=".732" stop-color="#e5e5ff"/><stop offset=".757" stop-color="#b3b3ff"/><stop offset=".781" stop-color="#9999ff"/><stop offset=".836" stop-color="#9999ff"/><stop offset=".885" stop-color="#a6a6ff"/><stop offset=".943" stop-color="#c0c0ff"/><stop offset="1" stop-color="#c9c9ff"/></linearGradient>
<linearGradient id="g83" x2="0" y2="1"><stop offset="0" stop-color="#ededff"/><stop offset=".722" stop-color="#ededff"/><stop offset=".746" stop-color="#e5e5ff"/><stop offset=".77" stop-color="#b6b6ff"/><stop offset=".794" stop-color="#9c9cff"/><stop offset=".845" stop-color="#9c9cff"/><stop offset=".891" stop-color="#a9a9ff"/><stop offset=".946" stop-color="#c1c1ff"/><stop offset="1" stop-color="#cacaff"/></linearGradient>
<linearGradient id="g84" x2="0" y2="1"><stop offset="0" stop-color="#ededff"/><stop offset=".669" stop-color="#ededff"/><stop offset=".693" stop-color="#e2e2ff"/><stop offset=".718" stop-color="#adadff"/><stop offset=".742" stop-color="#9090ff"/><stop offset=".812" stop-color="#9090ff"/><stop offset=".868" stop-color="#a0a0ff"/><stop offset=".934" stop-color="#c0c0ff"/><stop offset="1" stop-color="#cbcbff"/></linearGradient>
<linearGradient id="g85" x2="0" y2="1"><stop offset="0" stop-color="#f9f9ff"/><stop offset=".653" stop-color="#f9f9ff"/><stop offset=".678" stop-color="#e1e1ff"/><stop offset=".703" stop-color="#aaaaff"/><stop offset=".729" stop-color="#8c8cff"/><stop offset=".802" stop-color="#8c8cff"/><stop offset=".861" stop-color="#9c9cff"/><stop offset=".931" stop-color="#bbbbff"/><stop offset="1" stop-color="#c6c6ff"/></linearGradient>
<linearGradient id="g86" x2="0" y2="1"><stop offset="0" stop-color="#fbfbff"/><stop offset=".654" stop-color="#fbfbff"/><stop offset=".679" stop-color="#e4e4ff"/><stop offset=".704" stop-color="#b2b2ff"/><stop offset=".73" stop-color="#9898ff"/><stop offset=".803" stop-color="#9898ff"/><stop offset=".862" stop-color="#a3a3ff"/><stop offset=".931" stop-color="#bbbbff"/><stop offset="1" stop-color="#c3c3ff"/></linearGradient>
<linearGradient id="g87" x2="0" y2="1"><stop offset="0" stop-color="#f6f6ff"/><stop offset=".573" stop-color="#f6f6ff"/><stop offset=".602" stop-color="#e0e0ff"/><stop offset=".632" stop-color="#a6a6ff"/><stop offset=".661" stop-color="#8787ff"/><stop offset=".753" stop-color="#8787ff"/><stop offset=".827" stop-color="#9999ff"/><stop offset=".913" stop-color="#bebeff"/><stop offset="1" stop-color="#ccccff"/></linearGradient>
<linearGradient id="g88" x2="0" y2="1"><stop offset="0" stop-color="#fcfcff"/><stop offset=".531" stop-color="#fcfcff"/><stop offset=".563" stop-color="#ddddff"/><stop offset=".594" stop-color="#9f9fff"/><stop offset=".625" stop-color="#7e7eff"/><stop offset=".727" stop-color="#7e7eff"/><stop offset=".809" stop-color="#9191ff"/><stop offset=".904" stop-color="#b6b6ff"/><stop offset="1" stop-color="#c4c4ff"/></linearGradient>
<linearGradient id="g89" x2="0" y2="1"><stop offset="0" stop-color="#f5f5ff"/><stop offset=".553" stop-color="#f5f5ff"/><stop offset=".584" stop-color="#dfdfff"/><stop offset=".614" stop-color="#a3a3ff"/><stop offset=".644" stop-color="#8282ff"/><stop offset=".741" stop-color="#8282ff"/><stop offset=".818" stop-color="#9595ff"/><stop offset=".909" stop-color="#b9b9ff"/><stop offset="1" stop-color="#c6c6ff"/></linearGradient>
<linearGradient id="g90" x2="0" y2="1"><stop offset="0" stop-color="#fcfcff"/><stop offset=".426" stop-color="#fcfcff"/><stop offset=".462" stop-color="#d8d8ff"/><stop offset=".499" stop-color="#8e8eff"/><stop offset=".536" stop-color="#6767ff"/><stop offset=".664" stop-color="#6767ff"/><stop offset=".765" stop-color="#8282ff"/><stop offset=".882" stop-color="#b8b8ff"/><stop offset="1" stop-color="#ccccff"/></linearGradient>
<linearGradient id="g91" x2="0" y2="1"><stop offset="0" stop-color="#d1d1ff"/><stop offset=".166" stop-color="#c6c6ff"/><stop offset=".266" stop-color="#bfbfff"/><stop offset=".333" stop-color="#bbbbff"/><stop offset=".374" stop-color="#b8b8ff"/><stop offset=".416" stop-color="#8080ff"/><stop offset=".457" stop-color="#5353ff"/><stop offset=".664" stop-color="#5353ff"/><stop offset=".765" stop-color="#7272ff"/><stop offset=".882" stop-color="#b0b0ff"/><stop offset="1" stop-color="#c6c6ff"/></linearGradient>
<linearGradient id="g92" x2="0" y2="1"><stop offset="0" stop-color="#fafaff"/><stop offset=".335" stop-color="#fafaff"/><stop offset=".376" stop-color="#d3d3ff"/><stop offset=".417" stop-color="#8080ff"/><stop offset=".458" stop-color="#5454ff"/><stop offset=".664" stop-color="#5454ff"/><stop offset=".765" stop-color="#7272ff"/><stop offset=".882" stop-color="#afafff"/><stop offset="1" stop-color="#c4c4ff"/></linearGradient>
<linearGradient id="g93" x2="0" y2="1"><stop offset="0" stop-color="#fbfbff"/><stop offset=".392" stop-color="#fbfbff"/><stop offset=".431" stop-color="#d6d6ff"/><stop offset=".469" stop-color="#8989ff"/><stop offset=".507" stop-color="#6060ff"/><stop offset=".664" stop-color="#6060ff"/><stop offset=".765" stop-color="#7d7dff"/><stop offset=".882" stop-color="#b7b7ff"/><stop offset="1" stop-color="#cbcbff"/></linearGradient>
<linearGradient id="g94" x2="0" y2="1"><stop offset="0" stop-color="#fafaff"/><stop offset=".389" stop-color="#fafaff"/><stop offset=".427" stop-color="#d6d6ff"/><stop offset=".466" stop-color="#8989ff"/><stop offset=".504" stop-color="#5f5fff"/><stop offset=".664" stop-color="#5f5fff"/><stop offset=".765" stop-color="#7a7aff"/><stop offset=".882" stop-color="#afafff"/><stop offset="1" stop-color="#c2c2ff"/></linearGradient>
<linearGradient id="g95" x2="0" y2="1"><stop offset="0" stop-color="#fcfcff"/><stop offset=".445" stop-color="#fcfcff"/><stop offset=".481" stop-color="#d9d9ff"/><stop offset=".516" stop-color="#9292ff"/><stop offset=".552" stop-color="#6b6bff"/><stop offset=".673" stop-color="#6b6bff"/><stop offset=".771" stop-color="#8484ff"/><stop offset=".886" stop-color="#b4b4ff"/><stop offset="1" stop-color="#c5c5ff"/></linearGradient>
<linearGradient id="g96" x2="0" y2="1"><stop offset="0" stop-color="#ededff"/><stop offset=".342" stop-color="#ededff"/><stop offset=".382" stop-color="#d3d3ff"/><stop offset=".423" stop-color="#8181ff"/><stop offset=".464" stop-color="#5555ff"/><stop offset=".664" stop-color="#5555ff"/><stop offset=".765" stop-color="#7575ff"/><stop offset=".882" stop-color="#b3b3ff"/><stop offset="1" stop-color="#c9c9ff"/></linearGradient>
<linearGradient id="g97" x2="0" y2="1"><stop offset="0" stop-color="#c5c5ff"/><stop offset=".154" stop-color="#b7b7ff"/><stop offset=".241" stop-color="#afafff"/><stop offset=".309" stop-color="#a9a9ff"/><stop offset=".351" stop-color="#a6a6ff"/><stop offset=".394" stop-color="#7c7cff"/><stop offset=".436" stop-color="#4e4eff"/><stop offset=".664" stop-color="#4e4eff"/><stop offset=".765" stop-color="#6e6eff"/><stop offset=".882" stop-color="#aeaeff"/><stop offset="1" stop-color="#c5c5ff"/></linearGradient>
<linearGradient id="g98" x2="0" y2="1"><stop offset="0" stop-color="#f5f5ff"/><stop offset=".333" stop-color="#f5f5ff"/><stop offset=".375" stop-color="#d3d3ff"/><stop offset=".416" stop-color="#8080ff"/><stop offset=".457" stop-color="#5353ff"/><stop offset=".664" stop-color="#5353ff"/><stop offset=".765" stop-color="#7474ff"/><stop offset=".882" stop-color="#b4b4ff"/><stop offset="1" stop-color="#cbcbff"/></linearGradient>
<linearGradient id="g99" x2="0" y2="1"><stop offset="0" stop-color="#f4f4ff"/><stop offset=".22" stop-color="#f4f4ff"/><stop offset=".267" stop-color="#ccccff"/><stop offset=".314" stop-color="#6e6eff"/><stop offset=".361" stop-color="#3b3bff"/><stop offset=".664" stop-color="#3b3bff"/><stop offset=".765" stop-color="#6060ff"/><stop offset=".882" stop-color="#a9a9ff"/><stop offset="1" stop-color="#c4c4ff"/></linearGradient>
<linearGradient id="g100" x2="0" y2="1"><stop offset="0" stop-color="#f9f9ff"/><stop offset=".498" stop-color="#f9f9ff"/><stop offset=".531" stop-color="#d4d4ff"/><stop offset=".564" stop-color="#8686ff"/><stop offset=".597" stop-color="#5b5bff"/><stop offset=".706" stop-color="#5b5bff"/><stop offset=".794" stop-color="#7979ff"/><stop offset=".897" stop-color="#b4b4ff"/><stop offset="1" stop-color="#cacaff"/></linearGradient>
<linearGradient id="g101" x2="0" y2="1"><stop offset="0" stop-color="#e0e0ff"/><stop offset=".246" stop-color="#d8d8ff"/><stop offset=".425" stop-color="#d2d2ff"/><stop offset=".492" stop-color="#cfcfff"/><stop offset=".526" stop-color="#ceceff"/><stop offset=".559" stop-color="#9999ff"/><stop offset=".592" stop-color="#7575ff"/><stop offset=".703" stop-color="#7575ff"/><stop offset=".792" stop-color="#8b8bff"/><stop offset=".896" stop-color="#b7b7ff"/><stop offset="1" stop-color="#c7c7ff"/></linearGradient>
<linearGradient id="g102" x2="0" y2="1"><stop offset="0" stop-color="#ededff"/><stop offset=".384" stop-color="#ededff"/><stop offset=".423" stop-color="#d5d5ff"/><stop offset=".462" stop-color="#8888ff"/><stop offset=".5" stop-color="#5e5eff"/><stop offset=".664" stop-color="#5e5eff"/><stop offset=".765" stop-color="#7b7bff"/><stop offset=".882" stop-color="#b3b3ff"/><stop offset="1" stop-color="#c7c7ff"/></linearGradient>
<linearGradient id="g103" x2="0" y2="1"><stop offset="0" stop-color="#fbfbff"/><stop offset=".429" stop-color="#fbfbff"/><stop offset=".466" stop-color="#c9c9ff"/><stop offset=".502" stop-color="#6464ff"/><stop offset=".539" stop-color="#2e2eff"/><stop offset=".664" stop-color="#2e2eff"/><stop offset=".765" stop-color="#5959ff"/><stop offset=".882" stop-color="#acacff"/><stop offset="1" stop-color="#cbcbff"/></linearGradient>
<linearGradient id="g104" x2="0" y2="1"><stop offset="0" stop-color="#f7f7ff"/><stop offset=".367" stop-color="#f7f7ff"/><stop offset=".406" stop-color="#c5c5ff"/><stop offset=".446" stop-color="#5959ff"/><stop offset=".486" stop-color="#2020ff"/><stop offset=".664" stop-color="#2020ff"/><stop offset=".765" stop-color="#4e4eff"/><stop offset=".882" stop-color="#ababff"/><stop offset="1" stop-color="#ccccff"/></linearGradient>
<linearGradient id="g105" x2="0" y2="1"><stop offset="0" stop-color="#bfbfff"/><stop offset=".138" stop-color="#b0b0ff"/><stop offset=".209" stop-color="#a9a9ff"/><stop offset=".276" stop-color="#a2a2ff"/><stop offset=".32" stop-color="#9d9dff"/><stop offset=".364" stop-color="#4c4cff"/><stop offset=".408" stop-color="#0d0dff"/><stop offset=".664" stop-color="#0d0dff"/><stop offset=".765" stop-color="#3e3eff"/><stop offset=".882" stop-color="#a0a0ff"/><stop offset="1" stop-color="#c3c3ff"/></linearGradient>
<linearGradient id="g106" x2="0" y2="1"><stop offset="0" stop-color="#f9f9ff"/><stop offset=".278" stop-color="#f9f9ff"/><stop offset=".322" stop-color="#c0c0ff"/><stop offset=".366" stop-color="#4c4cff"/><stop offset=".41" stop-color="#0d0dff"/><stop offset=".664" stop-color="#0d0dff"/><stop offset=".765" stop-color="#3e3eff"/><stop offset=".882" stop-color="#9f9fff"/><stop offset="1" stop-color="#c2c2ff"/></linearGradient>
<linearGradient id="g107" x2="0" y2="1"><stop offset="0" stop-color="#babaff"/><stop offset=".201" stop-color="#a8a8ff"/><stop offset=".335" stop-color="#9c9cff"/><stop offset=".402" stop-color="#9696ff"/><stop offset=".44" stop-color="#9393ff"/><stop offset=".478" stop-color="#6060ff"/><stop offset=".516" stop-color="#2828ff"/><stop offset=".664" stop-color="#2828ff"/><stop offset=".765" stop-color="#5454ff"/><stop offset=".882" stop-color="#acacff"/><stop offset="1" stop-color="#cbcbff"/></linearGradient>
<linearGradient id="g108" x2="0" y2="1"><stop offset="0" stop-color="#fbfbff"/><stop offset=".35" stop-color="#fbfbff"/><stop offset=".39" stop-color="#c4c4ff"/><stop offset=".431" stop-color="#5757ff"/><stop offset=".471" stop-color="#1c1cff"/><stop offset=".664" stop-color="#1c1cff"/><stop offset=".765" stop-color="#4b4bff"/><stop offset=".882" stop-color="#a8a8ff"/><stop offset="1" stop-color="#c9c9ff"/></linearGradient>
<linearGradient id="g109" x2="0" y2="1"><stop offset="0" stop-color="#d9d9ff"/><stop offset=".178" stop-color="#cfcfff"/><stop offset=".289" stop-color="#c9c9ff"/><stop offset=".356" stop-color="#c6c6ff"/><stop offset=".396" stop-color="#c4c4ff"/><stop offset=".437" stop-color="#5858ff"/><stop offset=".477" stop-color="#1d1dff"/><stop offset=".664" stop-color="#1d1dff"/><stop offset=".765" stop-color="#4a4aff"/><stop offset=".882" stop-color="#a3a3ff"/><stop offset="1" stop-color="#c3c3ff"/></linearGradient>
<linearGradient id="g110" x2="0" y2="1"><stop offset="0" stop-color="#d9d9ff"/><stop offset=".167" stop-color="#cfcfff"/><stop offset=".267" stop-color="#cacaff"/><stop offset=".334" stop-color="#c6c6ff"/><stop offset=".375" stop-color="#c3c3ff"/><stop offset=".417" stop-color="#5454ff"/><stop offset=".458" stop-color="#1818ff"/><stop offset=".664" stop-color="#1818ff"/><stop offset=".765" stop-color="#4646ff"/><stop offset=".882" stop-color="#a2a2ff"/><stop offset="1" stop-color="#c2c2ff"/></linearGradient>
<linearGradient id="g111" x2="0" y2="1"><stop offset="0" stop-color="#f8f8ff"/><stop offset=".307" stop-color="#f8f8ff"/><stop offset=".35" stop-color="#c1c1ff"/><stop offset=".392" stop-color="#4f4fff"/><stop offset=".435" stop-color="#1111ff"/><stop offset=".664" stop-color="#1111ff"/><stop offset=".765" stop-color="#4242ff"/><stop offset=".882" stop-color="#a2a2ff"/><stop offset="1" stop-color="#c4c4ff"/></linearGradient>
<linearGradient id="g112" x2="0" y2="1"><stop offset="0" stop-color="#fcfcff"/><stop offset=".369" stop-color="#fcfcff"/><stop offset=".409" stop-color="#d0d0ff"/><stop offset=".448" stop-color="#7878ff"/><stop offset=".488" stop-color="#4949ff"/><stop offset=".664" stop-color="#4949ff"/><stop offset=".765" stop-color="#6a6aff"/><stop offset=".882" stop-color="#ababff"/><stop offset="1" stop-color="#c3c3ff"/></linearGradient>
<linearGradient id="g113" x2="0" y2="1"><stop offset="0" stop-color="#c2c2ff"/><stop offset=".219" stop-color="#b1b1ff"/><stop offset=".371" stop-color="#a6a6ff"/><stop offset=".438" stop-color="#a1a1ff"/><stop offset=".474" stop-color="#9e9eff"/><stop offset=".51" stop-color="#9c9cff"/><stop offset=".546" stop-color="#7a7aff"/><stop offset=".669" stop-color="#7a7aff"/><stop offset=".768" stop-color="#8e8eff"/><stop offset=".884" stop-color="#b4b4ff"/><stop offset="1" stop-color="#c2c2ff"/></linearGradient>
<linearGradient id="g114" x2="0" y2="1"><stop offset="0" stop-color="#c8c8ff"/><stop offset=".2" stop-color="#babaff"/><stop offset=".333" stop-color="#b0b0ff"/><stop offset=".4" stop-color="#ababff"/><stop offset=".438" stop-color="#a9a9ff"/><stop offset=".476" stop-color="#9797ff"/><stop offset=".514" stop-color="#7373ff"/><stop offset=".664" stop-color="#7373ff"/><stop offset=".765" stop-color="#8a8aff"/><stop offset=".882" stop-color="#b6b6ff"/><stop offset="1" stop-color="#c6c6ff"/></linearGradient>
<linearGradient id="g115" x2="0" y2="1"><stop offset="0" stop-color="#fcfcff"/><stop offset=".433" stop-color="#fcfcff"/><stop offset=".47" stop-color="#dcdcff"/><stop offset=".506" stop-color="#9c9cff"/><stop offset=".542" stop-color="#7979ff"/><stop offset=".666" stop-color="#7979ff"/><stop offset=".766" stop-color="#8e8eff"/><stop offset=".883" stop-color="#b8b8ff"/><stop offset="1" stop-color="#c7c7ff"/></linearGradient>
<linearGradient id="g116" x2="0" y2="1"><stop offset="0" stop-color="#fcfcff"/><stop offset=".439" stop-color="#fcfcff"/><stop offset=".475" stop-color="#ddddff"/><stop offset=".511" stop-color="#9d9dff"/><stop offset=".547" stop-color="#7b7bff"/><stop offset=".67" stop-color="#7b7bff"/><stop offset=".769" stop-color="#8f8fff"/><stop offset=".884" stop-color="#b9b9ff"/><stop offset="1" stop-color="#c7c7ff"/></linearGradient>
<clipPath id="cpb"><rect x="321.8" y="52.6" width="176.2" height="176.7"/></clipPath>
<filter id="blb" x="-5%" y="-5%" width="110%" height="110%"><feGaussianBlur stdDeviation="0.8"/></filter>
<linearGradient id="g117" x2="0" y2="1"><stop offset="0" stop-color="#3434ff"/><stop offset=".05" stop-color="#4646ff"/><stop offset=".1" stop-color="#6e6eff"/><stop offset=".15" stop-color="#a0a0ff"/><stop offset=".2" stop-color="#d0d0ff"/><stop offset=".25" stop-color="#f1f1ff"/><stop offset=".3" stop-color="#f9f9ff"/><stop offset=".36" stop-color="#fafaff"/><stop offset=".43" stop-color="#fafaff"/><stop offset=".52" stop-color="#fbfbff"/><stop offset=".64" stop-color="#fcfcff"/><stop offset=".8" stop-color="#fdfdff"/><stop offset="1" stop-color="#fdfdff"/></linearGradient>
<linearGradient id="g118" x2="0" y2="1"><stop offset="0" stop-color="#3a3aff"/><stop offset=".05" stop-color="#4747ff"/><stop offset=".1" stop-color="#6565ff"/><stop offset=".15" stop-color="#8d8dff"/><stop offset=".2" stop-color="#b7b7ff"/><stop offset=".25" stop-color="#dbdbff"/><stop offset=".3" stop-color="#f2f2ff"/><stop offset=".36" stop-color="#f8f8ff"/><stop offset=".43" stop-color="#f9f9ff"/><stop offset=".52" stop-color="#fafaff"/><stop offset=".64" stop-color="#fbfbff"/><stop offset=".8" stop-color="#fcfcff"/><stop offset="1" stop-color="#fdfdff"/></linearGradient>
<linearGradient id="g119" x2="0" y2="1"><stop offset="0" stop-color="#4949ff"/><stop offset=".05" stop-color="#5959ff"/><stop offset=".1" stop-color="#7c7cff"/><stop offset=".15" stop-color="#a7a7ff"/><stop offset=".2" stop-color="#d2d2ff"/><stop offset=".25" stop-color="#f0f0ff"/><stop offset=".3" stop-color="#f8f8ff"/><stop offset=".36" stop-color="#f9f9ff"/><stop offset=".43" stop-color="#fafaff"/><stop offset=".52" stop-color="#fbfbff"/><stop offset=".64" stop-color="#fcfcff"/><stop offset=".8" stop-color="#fdfdff"/><stop offset="1" stop-color="#fdfdff"/></linearGradient>
<linearGradient id="g120" x2="0" y2="1"><stop offset="0" stop-color="#7070ff"/><stop offset=".05" stop-color="#7f7fff"/><stop offset=".1" stop-color="#9f9fff"/><stop offset=".15" stop-color="#c6c6ff"/><stop offset=".2" stop-color="#e7e7ff"/><stop offset=".25" stop-color="#f8f8ff"/><stop offset=".3" stop-color="#f9f9ff"/><stop offset=".36" stop-color="#fafaff"/><stop offset=".43" stop-color="#fbfbff"/><stop offset=".52" stop-color="#fcfcff"/><stop offset=".64" stop-color="#fcfcff"/><stop offset=".8" stop-color="#fdfdff"/><stop offset="1" stop-color="#fdfdff"/></linearGradient>
<linearGradient id="g121" x2="0" y2="1"><stop offset="0" stop-color="#3434ff"/><stop offset=".05" stop-color="#3f3fff"/><stop offset=".1" stop-color="#5555ff"/><stop offset=".15" stop-color="#7474ff"/><stop offset=".2" stop-color="#9696ff"/><stop offset=".25" stop-color="#b9b9ff"/><stop offset=".3" stop-color="#d7d7ff"/><stop offset=".36" stop-color="#f0f0ff"/><stop offset=".43" stop-color="#f7f7ff"/><stop offset=".52" stop-color="#f8f8ff"/><stop offset=".64" stop-color="#f9f9ff"/><stop offset=".8" stop-color="#fbfbff"/><stop offset="1" stop-color="#fcfcff"/></linearGradient>
<linearGradient id="g122" x2="0" y2="1"><stop offset="0" stop-color="#4949ff"/><stop offset=".05" stop-color="#5656ff"/><stop offset=".1" stop-color="#7474ff"/><stop offset=".15" stop-color="#9a9aff"/><stop offset=".2" stop-color="#c1c1ff"/><stop offset=".25" stop-color="#e2e2ff"/><stop offset=".3" stop-color="#f5f5ff"/><stop offset=".36" stop-color="#f8f8ff"/><stop offset=".43" stop-color="#f9f9ff"/><stop offset=".52" stop-color="#fafaff"/><stop offset=".64" stop-color="#fbfbff"/><stop offset=".8" stop-color="#fcfcff"/><stop offset="1" stop-color="#fdfdff"/></linearGradient>
<linearGradient id="g123" x2="0" y2="1"><stop offset="0" stop-color="#4848ff"/><stop offset=".05" stop-color="#5454ff"/><stop offset=".1" stop-color="#6f6fff"/><stop offset=".15" stop-color="#9292ff"/><stop offset=".2" stop-color="#b8b8ff"/><stop offset=".25" stop-color="#d9d9ff"/><stop offset=".3" stop-color="#f0f0ff"/><stop offset=".36" stop-color="#f8f8ff"/><stop offset=".43" stop-color="#f9f9ff"/><stop offset=".52" stop-color="#fafaff"/><stop offset=".64" stop-color="#fbfbff"/><stop offset=".8" stop-color="#fcfcff"/><stop offset="1" stop-color="#fdfdff"/></linearGradient>
<linearGradient id="g124" x2="0" y2="1"><stop offset="0" stop-color="#3232ff"/><stop offset=".05" stop-color="#3f3fff"/><stop offset=".1" stop-color="#5b5bff"/><stop offset=".15" stop-color="#8080ff"/><stop offset=".2" stop-color="#a9a9ff"/><stop offset=".25" stop-color="#ceceff"/><stop offset=".3" stop-color="#eaeaff"/><stop offset=".36" stop-color="#f7f7ff"/><stop offset=".43" stop-color="#f8f8ff"/><stop offset=".52" stop-color="#f9f9ff"/><stop offset=".64" stop-color="#fbfbff"/><stop offset=".8" stop-color="#fcfcff"/><stop offset="1" stop-color="#fdfdff"/></linearGradient>
<linearGradient id="g125" x2="0" y2="1"><stop offset="0" stop-color="#3f3fff"/><stop offset=".05" stop-color="#4f4fff"/><stop offset=".1" stop-color="#7474ff"/><stop offset=".15" stop-color="#a1a1ff"/><stop offset=".2" stop-color="#cdcdff"/><stop offset=".25" stop-color="#eeeeff"/><stop offset=".3" stop-color="#f8f8ff"/><stop offset=".36" stop-color="#f9f9ff"/><stop offset=".43" stop-color="#fafaff"/><stop offset=".52" stop-color="#fbfbff"/><stop offset=".64" stop-color="#fcfcff"/><stop offset=".8" stop-color="#fdfdff"/><stop offset="1" stop-color="#fdfdff"/></linearGradient>
<linearGradient id="g126" x2="0" y2="1"><stop offset="0" stop-color="#2f2fff"/><stop offset=".05" stop-color="#3d3dff"/><stop offset=".1" stop-color="#5c5cff"/><stop offset=".15" stop-color="#8484ff"/><stop offset=".2" stop-color="#afafff"/><stop offset=".25" stop-color="#d6d6ff"/><stop offset=".3" stop-color="#f0f0ff"/><stop offset=".36" stop-color="#f8f8ff"/><stop offset=".43" stop-color="#f9f9ff"/><stop offset=".52" stop-color="#fafaff"/><stop offset=".64" stop-color="#fbfbff"/><stop offset=".8" stop-color="#fcfcff"/><stop offset="1" stop-color="#fdfdff"/></linearGradient>
<linearGradient id="g127" x2="0" y2="1"><stop offset="0" stop-color="#2727ff"/><stop offset=".05" stop-color="#3333ff"/><stop offset=".1" stop-color="#4d4dff"/><stop offset=".15" stop-color="#7070ff"/><stop offset=".2" stop-color="#9797ff"/><stop offset=".25" stop-color="#bdbdff"/><stop offset=".3" stop-color="#ddddff"/><stop offset=".36" stop-color="#f4f4ff"/><stop offset=".43" stop-color="#f7f7ff"/><stop offset=".52" stop-color="#f9f9ff"/><stop offset=".64" stop-color="#fafaff"/><stop offset=".8" stop-color="#fbfbff"/><stop offset="1" stop-color="#fcfcff"/></linearGradient>
<linearGradient id="g128" x2="0" y2="1"><stop offset="0" stop-color="#3030ff"/><stop offset=".05" stop-color="#3939ff"/><stop offset=".1" stop-color="#4e4eff"/><stop offset=".15" stop-color="#6a6aff"/><stop offset=".2" stop-color="#8a8aff"/><stop offset=".25" stop-color="#ababff"/><stop offset=".3" stop-color="#cacaff"/><stop offset=".36" stop-color="#e6e6ff"/><stop offset=".43" stop-color="#f5f5ff"/><stop offset=".52" stop-color="#f7f7ff"/><stop offset=".64" stop-color="#f9f9ff"/><stop offset=".8" stop-color="#fafaff"/><stop offset="1" stop-color="#fbfbff"/></linearGradient>
<linearGradient id="g129" x2="0" y2="1"><stop offset="0" stop-color="#2727ff"/><stop offset=".05" stop-color="#3232ff"/><stop offset=".1" stop-color="#4b4bff"/><stop offset=".15" stop-color="#6e6eff"/><stop offset=".2" stop-color="#9494ff"/><stop offset=".25" stop-color="#b9b9ff"/><stop offset=".3" stop-color="#dadaff"/><stop offset=".36" stop-color="#f2f2ff"/><stop offset=".43" stop-color="#f7f7ff"/><stop offset=".52" stop-color="#f8f8ff"/><stop offset=".64" stop-color="#fafaff"/><stop offset=".8" stop-color="#fbfbff"/><stop offset="1" stop-color="#fcfcff"/></linearGradient>
<linearGradient id="g130" x2="0" y2="1"><stop offset="0" stop-color="#3c3cff"/><stop offset=".05" stop-color="#4444ff"/><stop offset=".1" stop-color="#5454ff"/><stop offset=".15" stop-color="#6b6bff"/><stop offset=".2" stop-color="#8585ff"/><stop offset=".25" stop-color="#a2a2ff"/><stop offset=".3" stop-color="#bdbdff"/><stop offset=".36" stop-color="#dadaff"/><stop offset=".43" stop-color="#f0f0ff"/><stop offset=".52" stop-color="#f6f6ff"/><stop offset=".64" stop-color="#f7f7ff"/><stop offset=".8" stop-color="#f9f9ff"/><stop offset="1" stop-color="#fbfbff"/></linearGradient>
<linearGradient id="g131" x2="0" y2="1"><stop offset="0" stop-color="#4040ff"/><stop offset=".05" stop-color="#4949ff"/><stop offset=".1" stop-color="#5a5aff"/><stop offset=".15" stop-color="#7272ff"/><stop offset=".2" stop-color="#8d8dff"/><stop offset=".25" stop-color="#aaaaff"/><stop offset=".3" stop-color="#c6c6ff"/><stop offset=".36" stop-color="#e1e1ff"/><stop offset=".43" stop-color="#f3f3ff"/><stop offset=".52" stop-color="#f6f6ff"/><stop offset=".64" stop-color="#f8f8ff"/><stop offset=".8" stop-color="#fafaff"/><stop offset="1" stop-color="#fbfbff"/></linearGradient>
<linearGradient id="g132" x2="0" y2="1"><stop offset="0" stop-color="#2222ff"/><stop offset=".05" stop-color="#2b2bff"/><stop offset=".1" stop-color="#3e3eff"/><stop offset=".15" stop-color="#5757ff"/><stop offset=".2" stop-color="#7575ff"/><stop offset=".25" stop-color="#9595ff"/><stop offset=".3" stop-color="#b5b5ff"/><stop offset=".36" stop-color="#d5d5ff"/><stop offset=".43" stop-color="#efefff"/><stop offset=".52" stop-color="#f5f5ff"/><stop offset=".64" stop-color="#f7f7ff"/><stop offset=".8" stop-color="#f9f9ff"/><stop offset="1" stop-color="#fbfbff"/></linearGradient>
<linearGradient id="g133" x2="0" y2="1"><stop offset="0" stop-color="#3333ff"/><stop offset=".05" stop-color="#3f3fff"/><stop offset=".1" stop-color="#5858ff"/><stop offset=".15" stop-color="#7b7bff"/><stop offset=".2" stop-color="#a1a1ff"/><stop offset=".25" stop-color="#c5c5ff"/><stop offset=".3" stop-color="#e3e3ff"/><stop offset=".36" stop-color="#f6f6ff"/><stop offset=".43" stop-color="#f8f8ff"/><stop offset=".52" stop-color="#f9f9ff"/><stop offset=".64" stop-color="#fafaff"/><stop offset=".8" stop-color="#fbfbff"/><stop offset="1" stop-color="#fcfcff"/></linearGradient>
<linearGradient id="g134" x2="0" y2="1"><stop offset="0" stop-color="#1d1dff"/><stop offset=".05" stop-color="#2323ff"/><stop offset=".1" stop-color="#3131ff"/><stop offset=".15" stop-color="#4444ff"/><stop offset=".2" stop-color="#5a5aff"/><stop offset=".25" stop-color="#7474ff"/><stop offset=".3" stop-color="#8e8eff"/><stop offset=".36" stop-color="#adadff"/><stop offset=".43" stop-color="#cdcdff"/><stop offset=".52" stop-color="#ebebff"/><stop offset=".64" stop-color="#f4f4ff"/><stop offset=".8" stop-color="#f6f6ff"/><stop offset="1" stop-color="#f8f8ff"/></linearGradient>
<linearGradient id="g135" x2="0" y2="1"><stop offset="0" stop-color="#3535ff"/><stop offset=".05" stop-color="#3e3eff"/><stop offset=".1" stop-color="#5252ff"/><stop offset=".15" stop-color="#6d6dff"/><stop offset=".2" stop-color="#8c8cff"/><stop offset=".25" stop-color="#acacff"/><stop offset=".3" stop-color="#cacaff"/><stop offset=".36" stop-color="#e6e6ff"/><stop offset=".43" stop-color="#f5f5ff"/><stop offset=".52" stop-color="#f7f7ff"/><stop offset=".64" stop-color="#f9f9ff"/><stop offset=".8" stop-color="#fafaff"/><stop offset="1" stop-color="#fbfbff"/></linearGradient>
<linearGradient id="g136" x2="0" y2="1"><stop offset="0" stop-color="#3232ff"/><stop offset=".05" stop-color="#3c3cff"/><stop offset=".1" stop-color="#5353ff"/><stop offset=".15" stop-color="#7171ff"/><stop offset=".2" stop-color="#9494ff"/><stop offset=".25" stop-color="#b6b6ff"/><stop offset=".3" stop-color="#d5d5ff"/><stop offset=".36" stop-color="#eeeeff"/><stop offset=".43" stop-color="#f6f6ff"/><stop offset=".52" stop-color="#f8f8ff"/><stop offset=".64" stop-color="#f9f9ff"/><stop offset=".8" stop-color="#fbfbff"/><stop offset="1" stop-color="#fcfcff"/></linearGradient>
<linearGradient id="g137" x2="0" y2="1"><stop offset="0" stop-color="#3a3aff"/><stop offset=".05" stop-color="#4141ff"/><stop offset=".1" stop-color="#5050ff"/><stop offset=".15" stop-color="#6464ff"/><stop offset=".2" stop-color="#7c7cff"/><stop offset=".25" stop-color="#9696ff"/><stop offset=".3" stop-color="#b0b0ff"/><stop offset=".36" stop-color="#cdcdff"/><stop offset=".43" stop-color="#e7e7ff"/><stop offset=".52" stop-color="#f4f4ff"/><stop offset=".64" stop-color="#f6f6ff"/><stop offset=".8" stop-color="#f8f8ff"/><stop offset="1" stop-color="#fafaff"/></linearGradient>
<linearGradient id="g138" x2="0" y2="1"><stop offset="0" stop-color="#2a2aff"/><stop offset=".05" stop-color="#3131ff"/><stop offset=".1" stop-color="#4040ff"/><stop offset=".15" stop-color="#5555ff"/><stop offset=".2" stop-color="#6e6eff"/><stop offset=".25" stop-color="#8989ff"/><stop offset=".3" stop-color="#a4a4ff"/><stop offset=".36" stop-color="#c3c3ff"/><stop offset=".43" stop-color="#e0e0ff"/><stop offset=".52" stop-color="#f3f3ff"/><stop offset=".64" stop-color="#f6f6ff"/><stop offset=".8" stop-color="#f8f8ff"/><stop offset="1" stop-color="#fafaff"/></linearGradient>
<linearGradient id="g139" x2="0" y2="1"><stop offset="0" stop-color="#2929ff"/><stop offset=".05" stop-color="#3131ff"/><stop offset=".1" stop-color="#4141ff"/><stop offset=".15" stop-color="#5757ff"/><stop offset=".2" stop-color="#7171ff"/><stop offset=".25" stop-color="#8e8eff"/><stop offset=".3" stop-color="#aaaaff"/><stop offset=".36" stop-color="#cacaff"/><stop offset=".43" stop-color="#e6e6ff"/><stop offset=".52" stop-color="#f4f4ff"/><stop offset=".64" stop-color="#f6f6ff"/><stop offset=".8" stop-color="#f8f8ff"/><stop offset="1" stop-color="#fafaff"/></linearGradient>
<linearGradient id="g140" x2="0" y2="1"><stop offset="0" stop-color="#2424ff"/><stop offset=".05" stop-color="#2b2bff"/><stop offset=".1" stop-color="#3a3aff"/><stop offset=".15" stop-color="#4e4eff"/><stop offset=".2" stop-color="#6767ff"/><stop offset=".25" stop-color="#8282ff"/><stop offset=".3" stop-color="#9d9dff"/><stop offset=".36" stop-color="#bdbdff"/><stop offset=".43" stop-color="#dbdbff"/><stop offset=".52" stop-color="#f2f2ff"/><stop offset=".64" stop-color="#f5f5ff"/><stop offset=".8" stop-color="#f7f7ff"/><stop offset="1" stop-color="#f9f9ff"/></linearGradient>
<linearGradient id="g141" x2="0" y2="1"><stop offset="0" stop-color="#1d1dff"/><stop offset=".05" stop-color="#2323ff"/><stop offset=".1" stop-color="#3131ff"/><stop offset=".15" stop-color="#4444ff"/><stop offset=".2" stop-color="#5b5bff"/><stop offset=".25" stop-color="#7474ff"/><stop offset=".3" stop-color="#8f8fff"/><stop offset=".36" stop-color="#aeaeff"/><stop offset=".43" stop-color="#ceceff"/><stop offset=".52" stop-color="#ebebff"/><stop offset=".64" stop-color="#f4f4ff"/><stop offset=".8" stop-color="#f6f6ff"/><stop offset="1" stop-color="#f8f8ff"/></linearGradient>
<linearGradient id="g142" x2="0" y2="1"><stop offset="0" stop-color="#3f3fff"/><stop offset=".05" stop-color="#4747ff"/><stop offset=".1" stop-color="#5858ff"/><stop offset=".15" stop-color="#6f6fff"/><stop offset=".2" stop-color="#8a8aff"/><stop offset=".25" stop-color="#a7a7ff"/><stop offset=".3" stop-color="#c2c2ff"/><stop offset=".36" stop-color="#dedeff"/><stop offset=".43" stop-color="#f2f2ff"/><stop offset=".52" stop-color="#f6f6ff"/><stop offset=".64" stop-color="#f8f8ff"/><stop offset=".8" stop-color="#f9f9ff"/><stop offset="1" stop-color="#fbfbff"/></linearGradient>
<linearGradient id="g143" x2="0" y2="1"><stop offset="0" stop-color="#3636ff"/><stop offset=".05" stop-color="#3e3eff"/><stop offset=".1" stop-color="#4f4fff"/><stop offset=".15" stop-color="#6767ff"/><stop offset=".2" stop-color="#8383ff"/><stop offset=".25" stop-color="#a1a1ff"/><stop offset=".3" stop-color="#bdbdff"/><stop offset=".36" stop-color="#dadaff"/><stop offset=".43" stop-color="#f1f1ff"/><stop offset=".52" stop-color="#f6f6ff"/><stop offset=".64" stop-color="#f8f8ff"/><stop offset=".8" stop-color="#f9f9ff"/><stop offset="1" stop-color="#fbfbff"/></linearGradient>
<linearGradient id="g144" x2="0" y2="1"><stop offset="0" stop-color="#3232ff"/><stop offset=".05" stop-color="#3a3aff"/><stop offset=".1" stop-color="#4b4bff"/><stop offset=".15" stop-color="#6363ff"/><stop offset=".2" stop-color="#7e7eff"/><stop offset=".25" stop-color="#9c9cff"/><stop offset=".3" stop-color="#b8b8ff"/><stop offset=".36" stop-color="#d6d6ff"/><stop offset=".43" stop-color="#eeeeff"/><stop offset=".52" stop-color="#f5f5ff"/><stop offset=".64" stop-color="#f7f7ff"/><stop offset=".8" stop-color="#f9f9ff"/><stop offset="1" stop-color="#fbfbff"/></linearGradient>
<linearGradient id="g145" x2="0" y2="1"><stop offset="0" stop-color="#2828ff"/><stop offset=".05" stop-color="#2e2eff"/><stop offset=".1" stop-color="#3c3cff"/><stop offset=".15" stop-color="#4f4fff"/><stop offset=".2" stop-color="#6666ff"/><stop offset=".25" stop-color="#7f7fff"/><stop offset=".3" stop-color="#9a9aff"/><stop offset=".36" stop-color="#b8b8ff"/><stop offset=".43" stop-color="#d6d6ff"/><stop offset=".52" stop-color="#efefff"/><stop offset=".64" stop-color="#f4f4ff"/><stop offset=".8" stop-color="#f7f7ff"/><stop offset="1" stop-color="#f9f9ff"/></linearGradient>
<linearGradient id="g146" x2="0" y2="1"><stop offset="0" stop-color="#2828ff"/><stop offset=".05" stop-color="#2f2fff"/><stop offset=".1" stop-color="#3b3bff"/><stop offset=".15" stop-color="#4d4dff"/><stop offset=".2" stop-color="#6262ff"/><stop offset=".25" stop-color="#7a7aff"/><stop offset=".3" stop-color="#9393ff"/><stop offset=".36" stop-color="#b0b0ff"/><stop offset=".43" stop-color="#ceceff"/><stop offset=".52" stop-color="#eaeaff"/><stop offset=".64" stop-color="#f4f4ff"/><stop offset=".8" stop-color="#f6f6ff"/><stop offset="1" stop-color="#f8f8ff"/></linearGradient>
<linearGradient id="g147" x2="0" y2="1"><stop offset="0" stop-color="#2b2bff"/><stop offset=".05" stop-color="#3131ff"/><stop offset=".1" stop-color="#3e3eff"/><stop offset=".15" stop-color="#4f4fff"/><stop offset=".2" stop-color="#6363ff"/><stop offset=".25" stop-color="#7a7aff"/><stop offset=".3" stop-color="#9292ff"/><stop offset=".36" stop-color="#aeaeff"/><stop offset=".43" stop-color="#ccccff"/><stop offset=".52" stop-color="#e8e8ff"/><stop offset=".64" stop-color="#f3f3ff"/><stop offset=".8" stop-color="#f6f6ff"/><stop offset="1" stop-color="#f8f8ff"/></linearGradient>
<linearGradient id="g148" x2="0" y2="1"><stop offset="0" stop-color="#4040ff"/><stop offset=".05" stop-color="#4848ff"/><stop offset=".1" stop-color="#5757ff"/><stop offset=".15" stop-color="#6d6dff"/><stop offset=".2" stop-color="#8787ff"/><stop offset=".25" stop-color="#a2a2ff"/><stop offset=".3" stop-color="#bdbdff"/><stop offset=".36" stop-color="#d9d9ff"/><stop offset=".43" stop-color="#efefff"/><stop offset=".52" stop-color="#f5f5ff"/><stop offset=".64" stop-color="#f7f7ff"/><stop offset=".8" stop-color="#f9f9ff"/><stop offset="1" stop-color="#fbfbff"/></linearGradient>
<linearGradient id="g149" x2="0" y2="1"><stop offset="0" stop-color="#2d2dff"/><stop offset=".05" stop-color="#3535ff"/><stop offset=".1" stop-color="#4848ff"/><stop offset=".15" stop-color="#6161ff"/><stop offset=".2" stop-color="#7f7fff"/><stop offset=".25" stop-color="#9e9eff"/><stop offset=".3" stop-color="#bcbcff"/><stop offset=".36" stop-color="#dbdbff"/><stop offset=".43" stop-color="#f1f1ff"/><stop offset=".52" stop-color="#f6f6ff"/><stop offset=".64" stop-color="#f8f8ff"/><stop offset=".8" stop-color="#f9f9ff"/><stop offset="1" stop-color="#fbfbff"/></linearGradient>
<linearGradient id="g150" x2="0" y2="1"><stop offset="0" stop-color="#3f3fff"/><stop offset=".05" stop-color="#4848ff"/><stop offset=".1" stop-color="#5a5aff"/><stop offset=".15" stop-color="#7474ff"/><stop offset=".2" stop-color="#9292ff"/><stop offset=".25" stop-color="#b0b0ff"/><stop offset=".3" stop-color="#cdcdff"/><stop offset=".36" stop-color="#e7e7ff"/><stop offset=".43" stop-color="#f5f5ff"/><stop offset=".52" stop-color="#f7f7ff"/><stop offset=".64" stop-color="#f9f9ff"/><stop offset=".8" stop-color="#fafaff"/><stop offset="1" stop-color="#fbfbff"/></linearGradient>
<linearGradient id="g151" x2="0" y2="1"><stop offset="0" stop-color="#2c2cff"/><stop offset=".05" stop-color="#3434ff"/><stop offset=".1" stop-color="#4646ff"/><stop offset=".15" stop-color="#5f5fff"/><stop offset=".2" stop-color="#7c7cff"/><stop offset=".25" stop-color="#9b9bff"/><stop offset=".3" stop-color="#b9b9ff"/><stop offset=".36" stop-color="#d8d8ff"/><stop offset=".43" stop-color="#f0f0ff"/><stop offset=".52" stop-color="#f6f6ff"/><stop offset=".64" stop-color="#f7f7ff"/><stop offset=".8" stop-color="#f9f9ff"/><stop offset="1" stop-color="#fbfbff"/></linearGradient>
<linearGradient id="g152" x2="0" y2="1"><stop offset="0" stop-color="#6565ff"/><stop offset=".05" stop-color="#6c6cff"/><stop offset=".1" stop-color="#7979ff"/><stop offset=".15" stop-color="#8c8cff"/><stop offset=".2" stop-color="#a1a1ff"/><stop offset=".25" stop-color="#b7b7ff"/><stop offset=".3" stop-color="#ccccff"/><stop offset=".36" stop-color="#e2e2ff"/><stop offset=".43" stop-color="#f2f2ff"/><stop offset=".52" stop-color="#f6f6ff"/><stop offset=".64" stop-color="#f8f8ff"/><stop offset=".8" stop-color="#f9f9ff"/><stop offset="1" stop-color="#fbfbff"/></linearGradient>
<linearGradient id="g153" x2="0" y2="1"><stop offset="0" stop-color="#4040ff"/><stop offset=".05" stop-color="#4949ff"/><stop offset=".1" stop-color="#5959ff"/><stop offset=".15" stop-color="#7171ff"/><stop offset=".2" stop-color="#8c8cff"/><stop offset=".25" stop-color="#a9a9ff"/><stop offset=".3" stop-color="#c4c4ff"/><stop offset=".36" stop-color="#dfdfff"/><stop offset=".43" stop-color="#f3f3ff"/><stop offset=".52" stop-color="#f6f6ff"/><stop offset=".64" stop-color="#f8f8ff"/><stop offset=".8" stop-color="#fafaff"/><stop offset="1" stop-color="#fbfbff"/></linearGradient>
<linearGradient id="g154" x2="0" y2="1"><stop offset="0" stop-color="#3131ff"/><stop offset=".05" stop-color="#3838ff"/><stop offset=".1" stop-color="#4848ff"/><stop offset=".15" stop-color="#5d5dff"/><stop offset=".2" stop-color="#7777ff"/><stop offset=".25" stop-color="#9292ff"/><stop offset=".3" stop-color="#aeaeff"/><stop offset=".36" stop-color="#ccccff"/><stop offset=".43" stop-color="#e7e7ff"/><stop offset=".52" stop-color="#f4f4ff"/><stop offset=".64" stop-color="#f6f6ff"/><stop offset=".8" stop-color="#f8f8ff"/><stop offset="1" stop-color="#fafaff"/></linearGradient>
<linearGradient id="g155" x2="0" y2="1"><stop offset="0" stop-color="#2c2cff"/><stop offset=".05" stop-color="#3333ff"/><stop offset=".1" stop-color="#4141ff"/><stop offset=".15" stop-color="#5454ff"/><stop offset=".2" stop-color="#6b6bff"/><stop offset=".25" stop-color="#8484ff"/><stop offset=".3" stop-color="#9e9eff"/><stop offset=".36" stop-color="#bcbcff"/><stop offset=".43" stop-color="#d9d9ff"/><stop offset=".52" stop-color="#f0f0ff"/><stop offset=".64" stop-color="#f5f5ff"/><stop offset=".8" stop-color="#f7f7ff"/><stop offset="1" stop-color="#f9f9ff"/></linearGradient>
<linearGradient id="g156" x2="0" y2="1"><stop offset="0" stop-color="#2424ff"/><stop offset=".05" stop-color="#2d2dff"/><stop offset=".1" stop-color="#4141ff"/><stop offset=".15" stop-color="#5e5eff"/><stop offset=".2" stop-color="#7e7eff"/><stop offset=".25" stop-color="#a0a0ff"/><stop offset=".3" stop-color="#c0c0ff"/><stop offset=".36" stop-color="#e0e0ff"/><stop offset=".43" stop-color="#f4f4ff"/><stop offset=".52" stop-color="#f6f6ff"/><stop offset=".64" stop-color="#f8f8ff"/><stop offset=".8" stop-color="#fafaff"/><stop offset="1" stop-color="#fbfbff"/></linearGradient>
<linearGradient id="g157" x2="0" y2="1"><stop offset="0" stop-color="#6363ff"/><stop offset=".05" stop-color="#6a6aff"/><stop offset=".1" stop-color="#7676ff"/><stop offset=".15" stop-color="#8686ff"/><stop offset=".2" stop-color="#9a9aff"/><stop offset=".25" stop-color="#aeaeff"/><stop offset=".3" stop-color="#c3c3ff"/><stop offset=".36" stop-color="#d9d9ff"/><stop offset=".43" stop-color="#ececff"/><stop offset=".52" stop-color="#f5f5ff"/><stop offset=".64" stop-color="#f7f7ff"/><stop offset=".8" stop-color="#f9f9ff"/><stop offset="1" stop-color="#fafaff"/></linearGradient>
<linearGradient id="g158" x2="0" y2="1"><stop offset="0" stop-color="#3131ff"/><stop offset=".05" stop-color="#3939ff"/><stop offset=".1" stop-color="#4a4aff"/><stop offset=".15" stop-color="#6262ff"/><stop offset=".2" stop-color="#7f7fff"/><stop offset=".25" stop-color="#9d9dff"/><stop offset=".3" stop-color="#babaff"/><stop offset=".36" stop-color="#d8d8ff"/><stop offset=".43" stop-color="#efefff"/><stop offset=".52" stop-color="#f6f6ff"/><stop offset=".64" stop-color="#f7f7ff"/><stop offset=".8" stop-color="#f9f9ff"/><stop offset="1" stop-color="#fbfbff"/></linearGradient>
<linearGradient id="g159" x2="0" y2="1"><stop offset="0" stop-color="#4444ff"/><stop offset=".05" stop-color="#4e4eff"/><stop offset=".1" stop-color="#6565ff"/><stop offset=".15" stop-color="#8383ff"/><stop offset=".2" stop-color="#a4a4ff"/><stop offset=".25" stop-color="#c5c5ff"/><stop offset=".3" stop-color="#e0e0ff"/><stop offset=".36" stop-color="#f4f4ff"/><stop offset=".43" stop-color="#f7f7ff"/><stop offset=".52" stop-color="#f9f9ff"/><stop offset=".64" stop-color="#fafaff"/><stop offset=".8" stop-color="#fbfbff"/><stop offset="1" stop-color="#fcfcff"/></linearGradient>
<linearGradient id="g160" x2="0" y2="1"><stop offset="0" stop-color="#2727ff"/><stop offset=".05" stop-color="#2e2eff"/><stop offset=".1" stop-color="#3d3dff"/><stop offset=".15" stop-color="#5252ff"/><stop offset=".2" stop-color="#6b6bff"/><stop offset=".25" stop-color="#8686ff"/><stop offset=".3" stop-color="#a2a2ff"/><stop offset=".36" stop-color="#c1c1ff"/><stop offset=".43" stop-color="#dfdfff"/><stop offset=".52" stop-color="#f3f3ff"/><stop offset=".64" stop-color="#f5f5ff"/><stop offset=".8" stop-color="#f8f8ff"/><stop offset="1" stop-color="#fafaff"/></linearGradient>
<linearGradient id="g161" x2="0" y2="1"><stop offset="0" stop-color="#3b3bff"/><stop offset=".05" stop-color="#4444ff"/><stop offset=".1" stop-color="#5757ff"/><stop offset=".15" stop-color="#7272ff"/><stop offset=".2" stop-color="#9191ff"/><stop offset=".25" stop-color="#b0b0ff"/><stop offset=".3" stop-color="#cdcdff"/><stop offset=".36" stop-color="#e8e8ff"/><stop offset=".43" stop-color="#f6f6ff"/><stop offset=".52" stop-color="#f7f7ff"/><stop offset=".64" stop-color="#f9f9ff"/><stop offset=".8" stop-color="#fafaff"/><stop offset="1" stop-color="#fcfcff"/></linearGradient>
<linearGradient id="g162" x2="0" y2="1"><stop offset="0" stop-color="#3333ff"/><stop offset=".05" stop-color="#4141ff"/><stop offset=".1" stop-color="#6060ff"/><stop offset=".15" stop-color="#8a8aff"/><stop offset=".2" stop-color="#b5b5ff"/><stop offset=".25" stop-color="#dbdbff"/><stop offset=".3" stop-color="#f3f3ff"/><stop offset=".36" stop-color="#f8f8ff"/><stop offset=".43" stop-color="#f9f9ff"/><stop offset=".52" stop-color="#fafaff"/><stop offset=".64" stop-color="#fbfbff"/><stop offset=".8" stop-color="#fcfcff"/><stop offset="1" stop-color="#fdfdff"/></linearGradient>
<linearGradient id="g163" x2="0" y2="1"><stop offset="0" stop-color="#3333ff"/><stop offset=".05" stop-color="#3c3cff"/><stop offset=".1" stop-color="#5050ff"/><stop offset=".15" stop-color="#6b6bff"/><stop offset=".2" stop-color="#8a8aff"/><stop offset=".25" stop-color="#aaaaff"/><stop offset=".3" stop-color="#c8c8ff"/><stop offset=".36" stop-color="#e4e4ff"/><stop offset=".43" stop-color="#f5f5ff"/><stop offset=".52" stop-color="#f7f7ff"/><stop offset=".64" stop-color="#f8f8ff"/><stop offset=".8" stop-color="#fafaff"/><stop offset="1" stop-color="#fbfbff"/></linearGradient>
<linearGradient id="g164" x2="0" y2="1"><stop offset="0" stop-color="#2525ff"/><stop offset=".05" stop-color="#2f2fff"/><stop offset=".1" stop-color="#4545ff"/><stop offset=".15" stop-color="#6363ff"/><stop offset=".2" stop-color="#8686ff"/><stop offset=".25" stop-color="#a9a9ff"/><stop offset=".3" stop-color="#c9c9ff"/><stop offset=".36" stop-color="#e7e7ff"/><stop offset=".43" stop-color="#f6f6ff"/><stop offset=".52" stop-color="#f7f7ff"/><stop offset=".64" stop-color="#f9f9ff"/><stop offset=".8" stop-color="#fafaff"/><stop offset="1" stop-color="#fcfcff"/></linearGradient>
<linearGradient id="g165" x2="0" y2="1"><stop offset="0" stop-color="#3232ff"/><stop offset=".05" stop-color="#4040ff"/><stop offset=".1" stop-color="#5f5fff"/><stop offset=".15" stop-color="#8888ff"/><stop offset=".2" stop-color="#b3b3ff"/><stop offset=".25" stop-color="#d9d9ff"/><stop offset=".3" stop-color="#f1f1ff"/><stop offset=".36" stop-color="#f8f8ff"/><stop offset=".43" stop-color="#f9f9ff"/><stop offset=".52" stop-color="#fafaff"/><stop offset=".64" stop-color="#fbfbff"/><stop offset=".8" stop-color="#fcfcff"/><stop offset="1" stop-color="#fdfdff"/></linearGradient>
<linearGradient id="g166" x2="0" y2="1"><stop offset="0" stop-color="#3636ff"/><stop offset=".05" stop-color="#4444ff"/><stop offset=".1" stop-color="#6363ff"/><stop offset=".15" stop-color="#8c8cff"/><stop offset=".2" stop-color="#b7b7ff"/><stop offset=".25" stop-color="#dcdcff"/><stop offset=".3" stop-color="#f3f3ff"/><stop offset=".36" stop-color="#f8f8ff"/><stop offset=".43" stop-color="#f9f9ff"/><stop offset=".52" stop-color="#fafaff"/><stop offset=".64" stop-color="#fbfbff"/><stop offset=".8" stop-color="#fcfcff"/><stop offset="1" stop-color="#fdfdff"/></linearGradient>
<linearGradient id="g167" x2="0" y2="1"><stop offset="0" stop-color="#2020ff"/><stop offset=".05" stop-color="#2828ff"/><stop offset=".1" stop-color="#3838ff"/><stop offset=".15" stop-color="#4f4fff"/><stop offset=".2" stop-color="#6a6aff"/><stop offset=".25" stop-color="#8787ff"/><stop offset=".3" stop-color="#a5a5ff"/><stop offset=".36" stop-color="#c5c5ff"/><stop offset=".43" stop-color="#e3e3ff"/><stop offset=".52" stop-color="#f4f4ff"/><stop offset=".64" stop-color="#f6f6ff"/><stop offset=".8" stop-color="#f8f8ff"/><stop offset="1" stop-color="#fafaff"/></linearGradient>
<linearGradient id="g168" x2="0" y2="1"><stop offset="0" stop-color="#3434ff"/><stop offset=".05" stop-color="#3e3eff"/><stop offset=".1" stop-color="#5252ff"/><stop offset=".15" stop-color="#6e6eff"/><stop offset=".2" stop-color="#8e8eff"/><stop offset=".25" stop-color="#afafff"/><stop offset=".3" stop-color="#cdcdff"/><stop offset=".36" stop-color="#e8e8ff"/><stop offset=".43" stop-color="#f6f6ff"/><stop offset=".52" stop-color="#f7f7ff"/><stop offset=".64" stop-color="#f9f9ff"/><stop offset=".8" stop-color="#fafaff"/><stop offset="1" stop-color="#fcfcff"/></linearGradient>
<linearGradient id="g169" x2="0" y2="1"><stop offset="0" stop-color="#3434ff"/><stop offset=".05" stop-color="#3d3dff"/><stop offset=".1" stop-color="#5252ff"/><stop offset=".15" stop-color="#6e6eff"/><stop offset=".2" stop-color="#8e8eff"/><stop offset=".25" stop-color="#afafff"/><stop offset=".3" stop-color="#cdcdff"/><stop offset=".36" stop-color="#e8e8ff"/><stop offset=".43" stop-color="#f6f6ff"/><stop offset=".52" stop-color="#f7f7ff"/><stop offset=".64" stop-color="#f9f9ff"/><stop offset=".8" stop-color="#fafaff"/><stop offset="1" stop-color="#fcfcff"/></linearGradient>
<linearGradient id="g170" x2="0" y2="1"><stop offset="0" stop-color="#4545ff"/><stop offset=".05" stop-color="#4f4fff"/><stop offset=".1" stop-color="#6464ff"/><stop offset=".15" stop-color="#8080ff"/><stop offset=".2" stop-color="#a0a0ff"/><stop offset=".25" stop-color="#c0c0ff"/><stop offset=".3" stop-color="#dbdbff"/><stop offset=".36" stop-color="#f1f1ff"/><stop offset=".43" stop-color="#f7f7ff"/><stop offset=".52" stop-color="#f8f8ff"/><stop offset=".64" stop-color="#fafaff"/><stop offset=".8" stop-color="#fbfbff"/><stop offset="1" stop-color="#fcfcff"/></linearGradient>
<linearGradient id="g171" x2="0" y2="1"><stop offset="0" stop-color="#2b2bff"/><stop offset=".05" stop-color="#3434ff"/><stop offset=".1" stop-color="#4848ff"/><stop offset=".15" stop-color="#6363ff"/><stop offset=".2" stop-color="#8282ff"/><stop offset=".25" stop-color="#a3a3ff"/><stop offset=".3" stop-color="#c2c2ff"/><stop offset=".36" stop-color="#e0e0ff"/><stop offset=".43" stop-color="#f4f4ff"/><stop offset=".52" stop-color="#f6f6ff"/><stop offset=".64" stop-color="#f8f8ff"/><stop offset=".8" stop-color="#fafaff"/><stop offset="1" stop-color="#fbfbff"/></linearGradient>
<linearGradient id="g172" x2="0" y2="1"><stop offset="0" stop-color="#2b2bff"/><stop offset=".05" stop-color="#3434ff"/><stop offset=".1" stop-color="#4646ff"/><stop offset=".15" stop-color="#6060ff"/><stop offset=".2" stop-color="#7e7eff"/><stop offset=".25" stop-color="#9d9dff"/><stop offset=".3" stop-color="#bcbcff"/><stop offset=".36" stop-color="#dbdbff"/><stop offset=".43" stop-color="#f1f1ff"/><stop offset=".52" stop-color="#f6f6ff"/><stop offset=".64" stop-color="#f8f8ff"/><stop offset=".8" stop-color="#f9f9ff"/><stop offset="1" stop-color="#fbfbff"/></linearGradient>
<linearGradient id="g173" x2="0" y2="1"><stop offset="0" stop-color="#2e2eff"/><stop offset=".05" stop-color="#3636ff"/><stop offset=".1" stop-color="#4949ff"/><stop offset=".15" stop-color="#6363ff"/><stop offset=".2" stop-color="#8282ff"/><stop offset=".25" stop-color="#a2a2ff"/><stop offset=".3" stop-color="#c0c0ff"/><stop offset=".36" stop-color="#dedeff"/><stop offset=".43" stop-color="#f3f3ff"/><stop offset=".52" stop-color="#f6f6ff"/><stop offset=".64" stop-color="#f8f8ff"/><stop offset=".8" stop-color="#fafaff"/><stop offset="1" stop-color="#fbfbff"/></linearGradient>
<linearGradient id="g174" x2="0" y2="1"><stop offset="0" stop-color="#3838ff"/><stop offset=".05" stop-color="#4141ff"/><stop offset=".1" stop-color="#5252ff"/><stop offset=".15" stop-color="#6b6bff"/><stop offset=".2" stop-color="#8787ff"/><stop offset=".25" stop-color="#a5a5ff"/><stop offset=".3" stop-color="#c2c2ff"/><stop offset=".36" stop-color="#dfdfff"/><stop offset=".43" stop-color="#f3f3ff"/><stop offset=".52" stop-color="#f6f6ff"/><stop offset=".64" stop-color="#f8f8ff"/><stop offset=".8" stop-color="#fafaff"/><stop offset="1" stop-color="#fbfbff"/></linearGradient>
<linearGradient id="g175" x2="0" y2="1"><stop offset="0" stop-color="#2d2dff"/><stop offset=".05" stop-color="#3636ff"/><stop offset=".1" stop-color="#4949ff"/><stop offset=".15" stop-color="#6464ff"/><stop offset=".2" stop-color="#8383ff"/><stop offset=".25" stop-color="#a4a4ff"/><stop offset=".3" stop-color="#c2c2ff"/><stop offset=".36" stop-color="#e0e0ff"/><stop offset=".43" stop-color="#f4f4ff"/><stop offset=".52" stop-color="#f6f6ff"/><stop offset=".64" stop-color="#f8f8ff"/><stop offset=".8" stop-color="#fafaff"/><stop offset="1" stop-color="#fbfbff"/></linearGradient>
<linearGradient id="g176" x2="0" y2="1"><stop offset="0" stop-color="#2a2aff"/><stop offset=".05" stop-color="#3333ff"/><stop offset=".1" stop-color="#4646ff"/><stop offset=".15" stop-color="#6161ff"/><stop offset=".2" stop-color="#8080ff"/><stop offset=".25" stop-color="#a0a0ff"/><stop offset=".3" stop-color="#bfbfff"/><stop offset=".36" stop-color="#dedeff"/><stop offset=".43" stop-color="#f3f3ff"/><stop offset=".52" stop-color="#f6f6ff"/><stop offset=".64" stop-color="#f8f8ff"/><stop offset=".8" stop-color="#fafaff"/><stop offset="1" stop-color="#fbfbff"/></linearGradient>
<linearGradient id="g177" x2="0" y2="1"><stop offset="0" stop-color="#4040ff"/><stop offset=".05" stop-color="#4a4aff"/><stop offset=".1" stop-color="#6060ff"/><stop offset=".15" stop-color="#7e7eff"/><stop offset=".2" stop-color="#a0a0ff"/><stop offset=".25" stop-color="#c0c0ff"/><stop offset=".3" stop-color="#ddddff"/><stop offset=".36" stop-color="#f2f2ff"/><stop offset=".43" stop-color="#f7f7ff"/><stop offset=".52" stop-color="#f8f8ff"/><stop offset=".64" stop-color="#fafaff"/><stop offset=".8" stop-color="#fbfbff"/><stop offset="1" stop-color="#fcfcff"/></linearGradient>
<linearGradient id="g178" x2="0" y2="1"><stop offset="0" stop-color="#3737ff"/><stop offset=".05" stop-color="#4040ff"/><stop offset=".1" stop-color="#5454ff"/><stop offset=".15" stop-color="#6f6fff"/><stop offset=".2" stop-color="#8e8eff"/><stop offset=".25" stop-color="#aeaeff"/><stop offset=".3" stop-color="#ccccff"/><stop offset=".36" stop-color="#e7e7ff"/><stop offset=".43" stop-color="#f5f5ff"/><stop offset=".52" stop-color="#f7f7ff"/><stop offset=".64" stop-color="#f9f9ff"/><stop offset=".8" stop-color="#fafaff"/><stop offset="1" stop-color="#fbfbff"/></linearGradient>
<linearGradient id="g179" x2="0" y2="1"><stop offset="0" stop-color="#1f1fff"/><stop offset=".05" stop-color="#2727ff"/><stop offset=".1" stop-color="#3636ff"/><stop offset=".15" stop-color="#4c4cff"/><stop offset=".2" stop-color="#6666ff"/><stop offset=".25" stop-color="#8282ff"/><stop offset=".3" stop-color="#9f9fff"/><stop offset=".36" stop-color="#c0c0ff"/><stop offset=".43" stop-color="#dedeff"/><stop offset=".52" stop-color="#f3f3ff"/><stop offset=".64" stop-color="#f5f5ff"/><stop offset=".8" stop-color="#f8f8ff"/><stop offset="1" stop-color="#fafaff"/></linearGradient>
<linearGradient id="g180" x2="0" y2="1"><stop offset="0" stop-color="#2222ff"/><stop offset=".05" stop-color="#2b2bff"/><stop offset=".1" stop-color="#3d3dff"/><stop offset=".15" stop-color="#5656ff"/><stop offset=".2" stop-color="#7474ff"/><stop offset=".25" stop-color="#9494ff"/><stop offset=".3" stop-color="#b3b3ff"/><stop offset=".36" stop-color="#d3d3ff"/><stop offset=".43" stop-color="#eeeeff"/><stop offset=".52" stop-color="#f5f5ff"/><stop offset=".64" stop-color="#f7f7ff"/><stop offset=".8" stop-color="#f9f9ff"/><stop offset="1" stop-color="#fbfbff"/></linearGradient>
<linearGradient id="g181" x2="0" y2="1"><stop offset="0" stop-color="#6a6aff"/><stop offset=".05" stop-color="#7373ff"/><stop offset=".1" stop-color="#8686ff"/><stop offset=".15" stop-color="#9f9fff"/><stop offset=".2" stop-color="#bbbbff"/><stop offset=".25" stop-color="#d5d5ff"/><stop offset=".3" stop-color="#e9e9ff"/><stop offset=".36" stop-color="#f6f6ff"/><stop offset=".43" stop-color="#f8f8ff"/><stop offset=".52" stop-color="#f9f9ff"/><stop offset=".64" stop-color="#fafaff"/><stop offset=".8" stop-color="#fbfbff"/><stop offset="1" stop-color="#fcfcff"/></linearGradient>
<linearGradient id="g182" x2="0" y2="1"><stop offset="0" stop-color="#6c6cff"/><stop offset=".05" stop-color="#7676ff"/><stop offset=".1" stop-color="#8c8cff"/><stop offset=".15" stop-color="#a8a8ff"/><stop offset=".2" stop-color="#c5c5ff"/><stop offset=".25" stop-color="#e0e0ff"/><stop offset=".3" stop-color="#f2f2ff"/><stop offset=".36" stop-color="#f8f8ff"/><stop offset=".43" stop-color="#f9f9ff"/><stop offset=".52" stop-color="#fafaff"/><stop offset=".64" stop-color="#fbfbff"/><stop offset=".8" stop-color="#fcfcff"/><stop offset="1" stop-color="#fdfdff"/></linearGradient>
<linearGradient id="g183" x2="0" y2="1"><stop offset="0" stop-color="#2121ff"/><stop offset=".05" stop-color="#2929ff"/><stop offset=".1" stop-color="#3a3aff"/><stop offset=".15" stop-color="#5252ff"/><stop offset=".2" stop-color="#6e6eff"/><stop offset=".25" stop-color="#8c8cff"/><stop offset=".3" stop-color="#aaaaff"/><stop offset=".36" stop-color="#cbcbff"/><stop offset=".43" stop-color="#e7e7ff"/><stop offset=".52" stop-color="#f4f4ff"/><stop offset=".64" stop-color="#f6f6ff"/><stop offset=".8" stop-color="#f8f8ff"/><stop offset="1" stop-color="#fafaff"/></linearGradient>
<linearGradient id="g184" x2="0" y2="1"><stop offset="0" stop-color="#3535ff"/><stop offset=".05" stop-color="#3e3eff"/><stop offset=".1" stop-color="#5454ff"/><stop offset=".15" stop-color="#7272ff"/><stop offset=".2" stop-color="#9494ff"/><stop offset=".25" stop-color="#b6b6ff"/><stop offset=".3" stop-color="#d4d4ff"/><stop offset=".36" stop-color="#eeeeff"/><stop offset=".43" stop-color="#f6f6ff"/><stop offset=".52" stop-color="#f8f8ff"/><stop offset=".64" stop-color="#f9f9ff"/><stop offset=".8" stop-color="#fbfbff"/><stop offset="1" stop-color="#fcfcff"/></linearGradient>
<linearGradient id="g185" x2="0" y2="1"><stop offset="0" stop-color="#2c2cff"/><stop offset=".05" stop-color="#3636ff"/><stop offset=".1" stop-color="#4d4dff"/><stop offset=".15" stop-color="#6c6cff"/><stop offset=".2" stop-color="#8f8fff"/><stop offset=".25" stop-color="#b2b2ff"/><stop offset=".3" stop-color="#d1d1ff"/><stop offset=".36" stop-color="#ededff"/><stop offset=".43" stop-color="#f6f6ff"/><stop offset=".52" stop-color="#f8f8ff"/><stop offset=".64" stop-color="#f9f9ff"/><stop offset=".8" stop-color="#fbfbff"/><stop offset="1" stop-color="#fcfcff"/></linearGradient>
<linearGradient id="g186" x2="0" y2="1"><stop offset="0" stop-color="#6b6bff"/><stop offset=".05" stop-color="#7575ff"/><stop offset=".1" stop-color="#8989ff"/><stop offset=".15" stop-color="#a3a3ff"/><stop offset=".2" stop-color="#c0c0ff"/><stop offset=".25" stop-color="#dadaff"/><stop offset=".3" stop-color="#eeeeff"/><stop offset=".36" stop-color="#f7f7ff"/><stop offset=".43" stop-color="#f8f8ff"/><stop offset=".52" stop-color="#f9f9ff"/><stop offset=".64" stop-color="#fbfbff"/><stop offset=".8" stop-color="#fcfcff"/><stop offset="1" stop-color="#fdfdff"/></linearGradient>
<linearGradient id="g187" x2="0" y2="1"><stop offset="0" stop-color="#4141ff"/><stop offset=".05" stop-color="#4b4bff"/><stop offset=".1" stop-color="#6161ff"/><stop offset=".15" stop-color="#7f7fff"/><stop offset=".2" stop-color="#a0a0ff"/><stop offset=".25" stop-color="#c1c1ff"/><stop offset=".3" stop-color="#ddddff"/><stop offset=".36" stop-color="#f2f2ff"/><stop offset=".43" stop-color="#f7f7ff"/><stop offset=".52" stop-color="#f8f8ff"/><stop offset=".64" stop-color="#fafaff"/><stop offset=".8" stop-color="#fbfbff"/><stop offset="1" stop-color="#fcfcff"/></linearGradient>
<linearGradient id="g188" x2="0" y2="1"><stop offset="0" stop-color="#3030ff"/><stop offset=".05" stop-color="#3838ff"/><stop offset=".1" stop-color="#4a4aff"/><stop offset=".15" stop-color="#6363ff"/><stop offset=".2" stop-color="#8080ff"/><stop offset=".25" stop-color="#9e9eff"/><stop offset=".3" stop-color="#bcbcff"/><stop offset=".36" stop-color="#dadaff"/><stop offset=".43" stop-color="#f1f1ff"/><stop offset=".52" stop-color="#f6f6ff"/><stop offset=".64" stop-color="#f8f8ff"/><stop offset=".8" stop-color="#f9f9ff"/><stop offset="1" stop-color="#fbfbff"/></linearGradient>
<linearGradient id="g189" x2="0" y2="1"><stop offset="0" stop-color="#2e2eff"/><stop offset=".05" stop-color="#3636ff"/><stop offset=".1" stop-color="#4949ff"/><stop offset=".15" stop-color="#6363ff"/><stop offset=".2" stop-color="#8181ff"/><stop offset=".25" stop-color="#a0a0ff"/><stop offset=".3" stop-color="#bebeff"/><stop offset=".36" stop-color="#ddddff"/><stop offset=".43" stop-color="#f2f2ff"/><stop offset=".52" stop-color="#f6f6ff"/><stop offset=".64" stop-color="#f8f8ff"/><stop offset=".8" stop-color="#fafaff"/><stop offset="1" stop-color="#fbfbff"/></linearGradient>
<linearGradient id="g190" x2="0" y2="1"><stop offset="0" stop-color="#2c2cff"/><stop offset=".05" stop-color="#3636ff"/><stop offset=".1" stop-color="#4c4cff"/><stop offset=".15" stop-color="#6a6aff"/><stop offset=".2" stop-color="#8d8dff"/><stop offset=".25" stop-color="#afafff"/><stop offset=".3" stop-color="#cfcfff"/><stop offset=".36" stop-color="#ebebff"/><stop offset=".43" stop-color="#f6f6ff"/><stop offset=".52" stop-color="#f7f7ff"/><stop offset=".64" stop-color="#f9f9ff"/><stop offset=".8" stop-color="#fbfbff"/><stop offset="1" stop-color="#fcfcff"/></linearGradient>
<linearGradient id="g191" x2="0" y2="1"><stop offset="0" stop-color="#2e2eff"/><stop offset=".05" stop-color="#3838ff"/><stop offset=".1" stop-color="#4f4fff"/><stop offset=".15" stop-color="#6e6eff"/><stop offset=".2" stop-color="#9292ff"/><stop offset=".25" stop-color="#b5b5ff"/><stop offset=".3" stop-color="#d5d5ff"/><stop offset=".36" stop-color="#efefff"/><stop offset=".43" stop-color="#f6f6ff"/><stop offset=".52" stop-color="#f8f8ff"/><stop offset=".64" stop-color="#f9f9ff"/><stop offset=".8" stop-color="#fbfbff"/><stop offset="1" stop-color="#fcfcff"/></linearGradient>
<linearGradient id="g192" x2="0" y2="1"><stop offset="0" stop-color="#2a2aff"/><stop offset=".05" stop-color="#3333ff"/><stop offset=".1" stop-color="#4444ff"/><stop offset=".15" stop-color="#5d5dff"/><stop offset=".2" stop-color="#7a7aff"/><stop offset=".25" stop-color="#9898ff"/><stop offset=".3" stop-color="#b6b6ff"/><stop offset=".36" stop-color="#d5d5ff"/><stop offset=".43" stop-color="#eeeeff"/><stop offset=".52" stop-color="#f5f5ff"/><stop offset=".64" stop-color="#f7f7ff"/><stop offset=".8" stop-color="#f9f9ff"/><stop offset="1" stop-color="#fbfbff"/></linearGradient>
<linearGradient id="g193" x2="0" y2="1"><stop offset="0" stop-color="#4040ff"/><stop offset=".05" stop-color="#4949ff"/><stop offset=".1" stop-color="#5e5eff"/><stop offset=".15" stop-color="#7b7bff"/><stop offset=".2" stop-color="#9b9bff"/><stop offset=".25" stop-color="#bcbcff"/><stop offset=".3" stop-color="#d8d8ff"/><stop offset=".36" stop-color="#f0f0ff"/><stop offset=".43" stop-color="#f6f6ff"/><stop offset=".52" stop-color="#f8f8ff"/><stop offset=".64" stop-color="#f9f9ff"/><stop offset=".8" stop-color="#fbfbff"/><stop offset="1" stop-color="#fcfcff"/></linearGradient>
<linearGradient id="g194" x2="0" y2="1"><stop offset="0" stop-color="#3131ff"/><stop offset=".05" stop-color="#3939ff"/><stop offset=".1" stop-color="#4a4aff"/><stop offset=".15" stop-color="#6262ff"/><stop offset=".2" stop-color="#7d7dff"/><stop offset=".25" stop-color="#9b9bff"/><stop offset=".3" stop-color="#b8b8ff"/><stop offset=".36" stop-color="#d6d6ff"/><stop offset=".43" stop-color="#eeeeff"/><stop offset=".52" stop-color="#f5f5ff"/><stop offset=".64" stop-color="#f7f7ff"/><stop offset=".8" stop-color="#f9f9ff"/><stop offset="1" stop-color="#fbfbff"/></linearGradient>
<linearGradient id="g195" x2="0" y2="1"><stop offset="0" stop-color="#2323ff"/><stop offset=".05" stop-color="#2929ff"/><stop offset=".1" stop-color="#3737ff"/><stop offset=".15" stop-color="#4949ff"/><stop offset=".2" stop-color="#6060ff"/><stop offset=".25" stop-color="#7979ff"/><stop offset=".3" stop-color="#9393ff"/><stop offset=".36" stop-color="#b1b1ff"/><stop offset=".43" stop-color="#d0d0ff"/><stop offset=".52" stop-color="#ececff"/><stop offset=".64" stop-color="#f4f4ff"/><stop offset=".8" stop-color="#f6f6ff"/><stop offset="1" stop-color="#f8f8ff"/></linearGradient>
<linearGradient id="g196" x2="0" y2="1"><stop offset="0" stop-color="#3c3cff"/><stop offset=".05" stop-color="#4646ff"/><stop offset=".1" stop-color="#5b5bff"/><stop offset=".15" stop-color="#7777ff"/><stop offset=".2" stop-color="#9898ff"/><stop offset=".25" stop-color="#b8b8ff"/><stop offset=".3" stop-color="#d5d5ff"/><stop offset=".36" stop-color="#eeeeff"/><stop offset=".43" stop-color="#f6f6ff"/><stop offset=".52" stop-color="#f8f8ff"/><stop offset=".64" stop-color="#f9f9ff"/><stop offset=".8" stop-color="#fbfbff"/><stop offset="1" stop-color="#fcfcff"/></linearGradient>
<linearGradient id="g197" x2="0" y2="1"><stop offset="0" stop-color="#3636ff"/><stop offset=".05" stop-color="#3e3eff"/><stop offset=".1" stop-color="#4f4fff"/><stop offset=".15" stop-color="#6767ff"/><stop offset=".2" stop-color="#8282ff"/><stop offset=".25" stop-color="#a0a0ff"/><stop offset=".3" stop-color="#bcbcff"/><stop offset=".36" stop-color="#dadaff"/><stop offset=".43" stop-color="#f0f0ff"/><stop offset=".52" stop-color="#f6f6ff"/><stop offset=".64" stop-color="#f7f7ff"/><stop offset=".8" stop-color="#f9f9ff"/><stop offset="1" stop-color="#fbfbff"/></linearGradient>
<linearGradient id="g198" x2="0" y2="1"><stop offset="0" stop-color="#1d1dff"/><stop offset=".05" stop-color="#2424ff"/><stop offset=".1" stop-color="#3232ff"/><stop offset=".15" stop-color="#4646ff"/><stop offset=".2" stop-color="#5d5dff"/><stop offset=".25" stop-color="#7777ff"/><stop offset=".3" stop-color="#9292ff"/><stop offset=".36" stop-color="#b2b2ff"/><stop offset=".43" stop-color="#d2d2ff"/><stop offset=".52" stop-color="#ededff"/><stop offset=".64" stop-color="#f4f4ff"/><stop offset=".8" stop-color="#f7f7ff"/><stop offset="1" stop-color="#f9f9ff"/></linearGradient>
<linearGradient id="g199" x2="0" y2="1"><stop offset="0" stop-color="#2c2cff"/><stop offset=".05" stop-color="#3434ff"/><stop offset=".1" stop-color="#4545ff"/><stop offset=".15" stop-color="#5c5cff"/><stop offset=".2" stop-color="#7878ff"/><stop offset=".25" stop-color="#9696ff"/><stop offset=".3" stop-color="#b3b3ff"/><stop offset=".36" stop-color="#d2d2ff"/><stop offset=".43" stop-color="#ececff"/><stop offset=".52" stop-color="#f5f5ff"/><stop offset=".64" stop-color="#f7f7ff"/><stop offset=".8" stop-color="#f9f9ff"/><stop offset="1" stop-color="#fafaff"/></linearGradient>
<linearGradient id="g200" x2="0" y2="1"><stop offset="0" stop-color="#2d2dff"/><stop offset=".05" stop-color="#3636ff"/><stop offset=".1" stop-color="#4848ff"/><stop offset=".15" stop-color="#6161ff"/><stop offset=".2" stop-color="#7e7eff"/><stop offset=".25" stop-color="#9d9dff"/><stop offset=".3" stop-color="#babaff"/><stop offset=".36" stop-color="#d9d9ff"/><stop offset=".43" stop-color="#f0f0ff"/><stop offset=".52" stop-color="#f6f6ff"/><stop offset=".64" stop-color="#f8f8ff"/><stop offset=".8" stop-color="#f9f9ff"/><stop offset="1" stop-color="#fbfbff"/></linearGradient>
<linearGradient id="g201" x2="0" y2="1"><stop offset="0" stop-color="#2f2fff"/><stop offset=".05" stop-color="#3939ff"/><stop offset=".1" stop-color="#4f4fff"/><stop offset=".15" stop-color="#6d6dff"/><stop offset=".2" stop-color="#8f8fff"/><stop offset=".25" stop-color="#b1b1ff"/><stop offset=".3" stop-color="#d1d1ff"/><stop offset=".36" stop-color="#ececff"/><stop offset=".43" stop-color="#f6f6ff"/><stop offset=".52" stop-color="#f8f8ff"/><stop offset=".64" stop-color="#f9f9ff"/><stop offset=".8" stop-color="#fbfbff"/><stop offset="1" stop-color="#fcfcff"/></linearGradient>
<linearGradient id="g202" x2="0" y2="1"><stop offset="0" stop-color="#3434ff"/><stop offset=".05" stop-color="#3c3cff"/><stop offset=".1" stop-color="#4d4dff"/><stop offset=".15" stop-color="#6565ff"/><stop offset=".2" stop-color="#8080ff"/><stop offset=".25" stop-color="#9d9dff"/><stop offset=".3" stop-color="#b9b9ff"/><stop offset=".36" stop-color="#d7d7ff"/><stop offset=".43" stop-color="#efefff"/><stop offset=".52" stop-color="#f5f5ff"/><stop offset=".64" stop-color="#f7f7ff"/><stop offset=".8" stop-color="#f9f9ff"/><stop offset="1" stop-color="#fbfbff"/></linearGradient>
<linearGradient id="g203" x2="0" y2="1"><stop offset="0" stop-color="#3939ff"/><stop offset=".05" stop-color="#4040ff"/><stop offset=".1" stop-color="#5050ff"/><stop offset=".15" stop-color="#6565ff"/><stop offset=".2" stop-color="#7f7fff"/><stop offset=".25" stop-color="#9a9aff"/><stop offset=".3" stop-color="#b5b5ff"/><stop offset=".36" stop-color="#d2d2ff"/><stop offset=".43" stop-color="#ebebff"/><stop offset=".52" stop-color="#f5f5ff"/><stop offset=".64" stop-color="#f7f7ff"/><stop offset=".8" stop-color="#f9f9ff"/><stop offset="1" stop-color="#fafaff"/></linearGradient>
<linearGradient id="g204" x2="0" y2="1"><stop offset="0" stop-color="#3030ff"/><stop offset=".05" stop-color="#3737ff"/><stop offset=".1" stop-color="#4545ff"/><stop offset=".15" stop-color="#5959ff"/><stop offset=".2" stop-color="#7070ff"/><stop offset=".25" stop-color="#8a8aff"/><stop offset=".3" stop-color="#a4a4ff"/><stop offset=".36" stop-color="#c2c2ff"/><stop offset=".43" stop-color="#dedeff"/><stop offset=".52" stop-color="#f2f2ff"/><stop offset=".64" stop-color="#f5f5ff"/><stop offset=".8" stop-color="#f7f7ff"/><stop offset="1" stop-color="#f9f9ff"/></linearGradient>
<linearGradient id="g205" x2="0" y2="1"><stop offset="0" stop-color="#2b2bff"/><stop offset=".05" stop-color="#3333ff"/><stop offset=".1" stop-color="#4545ff"/><stop offset=".15" stop-color="#5d5dff"/><stop offset=".2" stop-color="#7979ff"/><stop offset=".25" stop-color="#9797ff"/><stop offset=".3" stop-color="#b5b5ff"/><stop offset=".36" stop-color="#d4d4ff"/><stop offset=".43" stop-color="#ededff"/><stop offset=".52" stop-color="#f5f5ff"/><stop offset=".64" stop-color="#f7f7ff"/><stop offset=".8" stop-color="#f9f9ff"/><stop offset="1" stop-color="#fbfbff"/></linearGradient>
<linearGradient id="g206" x2="0" y2="1"><stop offset="0" stop-color="#2727ff"/><stop offset=".05" stop-color="#2d2dff"/><stop offset=".1" stop-color="#3b3bff"/><stop offset=".15" stop-color="#4e4eff"/><stop offset=".2" stop-color="#6565ff"/><stop offset=".25" stop-color="#7f7fff"/><stop offset=".3" stop-color="#9999ff"/><stop offset=".36" stop-color="#b7b7ff"/><stop offset=".43" stop-color="#d6d6ff"/><stop offset=".52" stop-color="#efefff"/><stop offset=".64" stop-color="#f4f4ff"/><stop offset=".8" stop-color="#f7f7ff"/><stop offset="1" stop-color="#f9f9ff"/></linearGradient>
<linearGradient id="g207" x2="0" y2="1"><stop offset="0" stop-color="#3232ff"/><stop offset=".05" stop-color="#3a3aff"/><stop offset=".1" stop-color="#4a4aff"/><stop offset=".15" stop-color="#6060ff"/><stop offset=".2" stop-color="#7b7bff"/><stop offset=".25" stop-color="#9797ff"/><stop offset=".3" stop-color="#b3b3ff"/><stop offset=".36" stop-color="#d1d1ff"/><stop offset=".43" stop-color="#eaeaff"/><stop offset=".52" stop-color="#f5f5ff"/><stop offset=".64" stop-color="#f7f7ff"/><stop offset=".8" stop-color="#f9f9ff"/><stop offset="1" stop-color="#fafaff"/></linearGradient>
<linearGradient id="g208" x2="0" y2="1"><stop offset="0" stop-color="#3e3eff"/><stop offset=".05" stop-color="#4545ff"/><stop offset=".1" stop-color="#5454ff"/><stop offset=".15" stop-color="#6868ff"/><stop offset=".2" stop-color="#7f7fff"/><stop offset=".25" stop-color="#9898ff"/><stop offset=".3" stop-color="#b2b2ff"/><stop offset=".36" stop-color="#ceceff"/><stop offset=".43" stop-color="#e7e7ff"/><stop offset=".52" stop-color="#f4f4ff"/><stop offset=".64" stop-color="#f6f6ff"/><stop offset=".8" stop-color="#f8f8ff"/><stop offset="1" stop-color="#fafaff"/></linearGradient>
<linearGradient id="g209" x2="0" y2="1"><stop offset="0" stop-color="#3434ff"/><stop offset=".05" stop-color="#3c3cff"/><stop offset=".1" stop-color="#4e4eff"/><stop offset=".15" stop-color="#6767ff"/><stop offset=".2" stop-color="#8484ff"/><stop offset=".25" stop-color="#a3a3ff"/><stop offset=".3" stop-color="#c0c0ff"/><stop offset=".36" stop-color="#ddddff"/><stop offset=".43" stop-color="#f2f2ff"/><stop offset=".52" stop-color="#f6f6ff"/><stop offset=".64" stop-color="#f8f8ff"/><stop offset=".8" stop-color="#fafaff"/><stop offset="1" stop-color="#fbfbff"/></linearGradient>
<linearGradient id="g210" x2="0" y2="1"><stop offset="0" stop-color="#3a3aff"/><stop offset=".05" stop-color="#4040ff"/><stop offset=".1" stop-color="#4c4cff"/><stop offset=".15" stop-color="#5c5cff"/><stop offset=".2" stop-color="#7070ff"/><stop offset=".25" stop-color="#8686ff"/><stop offset=".3" stop-color="#9d9dff"/><stop offset=".36" stop-color="#b8b8ff"/><stop offset=".43" stop-color="#d4d4ff"/><stop offset=".52" stop-color="#ececff"/><stop offset=".64" stop-color="#f4f4ff"/><stop offset=".8" stop-color="#f6f6ff"/><stop offset="1" stop-color="#f8f8ff"/></linearGradient>
<linearGradient id="g211" x2="0" y2="1"><stop offset="0" stop-color="#3232ff"/><stop offset=".05" stop-color="#3737ff"/><stop offset=".1" stop-color="#4242ff"/><stop offset=".15" stop-color="#5151ff"/><stop offset=".2" stop-color="#6363ff"/><stop offset=".25" stop-color="#7777ff"/><stop offset=".3" stop-color="#8c8cff"/><stop offset=".36" stop-color="#a6a6ff"/><stop offset=".43" stop-color="#c2c2ff"/><stop offset=".52" stop-color="#e0e0ff"/><stop offset=".64" stop-color="#f2f2ff"/><stop offset=".8" stop-color="#f4f4ff"/><stop offset="1" stop-color="#f7f7ff"/></linearGradient>
<linearGradient id="g212" x2="0" y2="1"><stop offset="0" stop-color="#3434ff"/><stop offset=".05" stop-color="#3c3cff"/><stop offset=".1" stop-color="#4b4bff"/><stop offset=".15" stop-color="#6060ff"/><stop offset=".2" stop-color="#7979ff"/><stop offset=".25" stop-color="#9595ff"/><stop offset=".3" stop-color="#b0b0ff"/><stop offset=".36" stop-color="#cdcdff"/><stop offset=".43" stop-color="#e8e8ff"/><stop offset=".52" stop-color="#f4f4ff"/><stop offset=".64" stop-color="#f6f6ff"/><stop offset=".8" stop-color="#f8f8ff"/><stop offset="1" stop-color="#fafaff"/></linearGradient>
<linearGradient id="g213" x2="0" y2="1"><stop offset="0" stop-color="#3b3bff"/><stop offset=".05" stop-color="#4242ff"/><stop offset=".1" stop-color="#5252ff"/><stop offset=".15" stop-color="#6767ff"/><stop offset=".2" stop-color="#8080ff"/><stop offset=".25" stop-color="#9b9bff"/><stop offset=".3" stop-color="#b5b5ff"/><stop offset=".36" stop-color="#d2d2ff"/><stop offset=".43" stop-color="#ebebff"/><stop offset=".52" stop-color="#f5f5ff"/><stop offset=".64" stop-color="#f7f7ff"/><stop offset=".8" stop-color="#f9f9ff"/><stop offset="1" stop-color="#fafaff"/></linearGradient>
<linearGradient id="g214" x2="0" y2="1"><stop offset="0" stop-color="#6464ff"/><stop offset=".05" stop-color="#6a6aff"/><stop offset=".1" stop-color="#7777ff"/><stop offset=".15" stop-color="#8787ff"/><stop offset=".2" stop-color="#9b9bff"/><stop offset=".25" stop-color="#b0b0ff"/><stop offset=".3" stop-color="#c5c5ff"/><stop offset=".36" stop-color="#dbdbff"/><stop offset=".43" stop-color="#ededff"/><stop offset=".52" stop-color="#f5f5ff"/><stop offset=".64" stop-color="#f7f7ff"/><stop offset=".8" stop-color="#f9f9ff"/><stop offset="1" stop-color="#fafaff"/></linearGradient>
<linearGradient id="g215" x2="0" y2="1"><stop offset="0" stop-color="#2b2bff"/><stop offset=".05" stop-color="#3232ff"/><stop offset=".1" stop-color="#4040ff"/><stop offset=".15" stop-color="#5353ff"/><stop offset=".2" stop-color="#6a6aff"/><stop offset=".25" stop-color="#8383ff"/><stop offset=".3" stop-color="#9d9dff"/><stop offset=".36" stop-color="#bbbbff"/><stop offset=".43" stop-color="#d9d9ff"/><stop offset=".52" stop-color="#f0f0ff"/><stop offset=".64" stop-color="#f5f5ff"/><stop offset=".8" stop-color="#f7f7ff"/><stop offset="1" stop-color="#f9f9ff"/></linearGradient>
<linearGradient id="g216" x2="0" y2="1"><stop offset="0" stop-color="#2d2dff"/><stop offset=".05" stop-color="#3333ff"/><stop offset=".1" stop-color="#4141ff"/><stop offset=".15" stop-color="#5353ff"/><stop offset=".2" stop-color="#6969ff"/><stop offset=".25" stop-color="#8282ff"/><stop offset=".3" stop-color="#9b9bff"/><stop offset=".36" stop-color="#b9b9ff"/><stop offset=".43" stop-color="#d6d6ff"/><stop offset=".52" stop-color="#efefff"/><stop offset=".64" stop-color="#f4f4ff"/><stop offset=".8" stop-color="#f7f7ff"/><stop offset="1" stop-color="#f9f9ff"/></linearGradient>
<linearGradient id="g217" x2="0" y2="1"><stop offset="0" stop-color="#3535ff"/><stop offset=".05" stop-color="#3c3cff"/><stop offset=".1" stop-color="#4848ff"/><stop offset=".15" stop-color="#5959ff"/><stop offset=".2" stop-color="#6e6eff"/><stop offset=".25" stop-color="#8585ff"/><stop offset=".3" stop-color="#9c9cff"/><stop offset=".36" stop-color="#b8b8ff"/><stop offset=".43" stop-color="#d4d4ff"/><stop offset=".52" stop-color="#ededff"/><stop offset=".64" stop-color="#f4f4ff"/><stop offset=".8" stop-color="#f6f6ff"/><stop offset="1" stop-color="#f9f9ff"/></linearGradient>
<linearGradient id="g218" x2="0" y2="1"><stop offset="0" stop-color="#3131ff"/><stop offset=".05" stop-color="#3737ff"/><stop offset=".1" stop-color="#4444ff"/><stop offset=".15" stop-color="#5555ff"/><stop offset=".2" stop-color="#6a6aff"/><stop offset=".25" stop-color="#8181ff"/><stop offset=".3" stop-color="#9a9aff"/><stop offset=".36" stop-color="#b6b6ff"/><stop offset=".43" stop-color="#d3d3ff"/><stop offset=".52" stop-color="#ededff"/><stop offset=".64" stop-color="#f4f4ff"/><stop offset=".8" stop-color="#f6f6ff"/><stop offset="1" stop-color="#f9f9ff"/></linearGradient>
<linearGradient id="g219" x2="0" y2="1"><stop offset="0" stop-color="#3a3aff"/><stop offset=".05" stop-color="#4141ff"/><stop offset=".1" stop-color="#5050ff"/><stop offset=".15" stop-color="#6464ff"/><stop offset=".2" stop-color="#7c7cff"/><stop offset=".25" stop-color="#9696ff"/><stop offset=".3" stop-color="#b0b0ff"/><stop offset=".36" stop-color="#cdcdff"/><stop offset=".43" stop-color="#e7e7ff"/><stop offset=".52" stop-color="#f4f4ff"/><stop offset=".64" stop-color="#f6f6ff"/><stop offset=".8" stop-color="#f8f8ff"/><stop offset="1" stop-color="#fafaff"/></linearGradient>
<linearGradient id="g220" x2="0" y2="1"><stop offset="0" stop-color="#3030ff"/><stop offset=".05" stop-color="#3737ff"/><stop offset=".1" stop-color="#4545ff"/><stop offset=".15" stop-color="#5959ff"/><stop offset=".2" stop-color="#7171ff"/><stop offset=".25" stop-color="#8b8bff"/><stop offset=".3" stop-color="#a5a5ff"/><stop offset=".36" stop-color="#c3c3ff"/><stop offset=".43" stop-color="#dfdfff"/><stop offset=".52" stop-color="#f3f3ff"/><stop offset=".64" stop-color="#f5f5ff"/><stop offset=".8" stop-color="#f8f8ff"/><stop offset="1" stop-color="#f9f9ff"/></linearGradient>
<linearGradient id="g221" x2="0" y2="1"><stop offset="0" stop-color="#2929ff"/><stop offset=".05" stop-color="#3030ff"/><stop offset=".1" stop-color="#3d3dff"/><stop offset=".15" stop-color="#5050ff"/><stop offset=".2" stop-color="#6767ff"/><stop offset=".25" stop-color="#8080ff"/><stop offset=".3" stop-color="#9999ff"/><stop offset=".36" stop-color="#b7b7ff"/><stop offset=".43" stop-color="#d5d5ff"/><stop offset=".52" stop-color="#efefff"/><stop offset=".64" stop-color="#f4f4ff"/><stop offset=".8" stop-color="#f7f7ff"/><stop offset="1" stop-color="#f9f9ff"/></linearGradient>
<linearGradient id="g222" x2="0" y2="1"><stop offset="0" stop-color="#3737ff"/><stop offset=".05" stop-color="#3e3eff"/><stop offset=".1" stop-color="#4c4cff"/><stop offset=".15" stop-color="#6161ff"/><stop offset=".2" stop-color="#7979ff"/><stop offset=".25" stop-color="#9393ff"/><stop offset=".3" stop-color="#adadff"/><stop offset=".36" stop-color="#cacaff"/><stop offset=".43" stop-color="#e5e5ff"/><stop offset=".52" stop-color="#f4f4ff"/><stop offset=".64" stop-color="#f6f6ff"/><stop offset=".8" stop-color="#f8f8ff"/><stop offset="1" stop-color="#fafaff"/></linearGradient>
<linearGradient id="g223" x2="0" y2="1"><stop offset="0" stop-color="#2525ff"/><stop offset=".05" stop-color="#2b2bff"/><stop offset=".1" stop-color="#3838ff"/><stop offset=".15" stop-color="#4a4aff"/><stop offset=".2" stop-color="#6060ff"/><stop offset=".25" stop-color="#7979ff"/><stop offset=".3" stop-color="#9292ff"/><stop offset=".36" stop-color="#b0b0ff"/><stop offset=".43" stop-color="#cfcfff"/><stop offset=".52" stop-color="#ebebff"/><stop offset=".64" stop-color="#f4f4ff"/><stop offset=".8" stop-color="#f6f6ff"/><stop offset="1" stop-color="#f8f8ff"/></linearGradient>
<linearGradient id="g224" x2="0" y2="1"><stop offset="0" stop-color="#2121ff"/><stop offset=".05" stop-color="#2626ff"/><stop offset=".1" stop-color="#3030ff"/><stop offset=".15" stop-color="#3d3dff"/><stop offset=".2" stop-color="#4d4dff"/><stop offset=".25" stop-color="#5f5fff"/><stop offset=".3" stop-color="#7272ff"/><stop offset=".36" stop-color="#8b8bff"/><stop offset=".43" stop-color="#a7a7ff"/><stop offset=".52" stop-color="#c8c8ff"/><stop offset=".64" stop-color="#e7e7ff"/><stop offset=".8" stop-color="#f1f1ff"/><stop offset="1" stop-color="#f4f4ff"/></linearGradient>
<linearGradient id="g225" x2="0" y2="1"><stop offset="0" stop-color="#2727ff"/><stop offset=".05" stop-color="#2e2eff"/><stop offset=".1" stop-color="#3b3bff"/><stop offset=".15" stop-color="#4d4dff"/><stop offset=".2" stop-color="#6363ff"/><stop offset=".25" stop-color="#7b7bff"/><stop offset=".3" stop-color="#9494ff"/><stop offset=".36" stop-color="#b1b1ff"/><stop offset=".43" stop-color="#d0d0ff"/><stop offset=".52" stop-color="#ebebff"/><stop offset=".64" stop-color="#f4f4ff"/><stop offset=".8" stop-color="#f6f6ff"/><stop offset="1" stop-color="#f8f8ff"/></linearGradient>
<linearGradient id="g226" x2="0" y2="1"><stop offset="0" stop-color="#1818ff"/><stop offset=".05" stop-color="#1e1eff"/><stop offset=".1" stop-color="#2929ff"/><stop offset=".15" stop-color="#3939ff"/><stop offset=".2" stop-color="#4c4cff"/><stop offset=".25" stop-color="#6262ff"/><stop offset=".3" stop-color="#7979ff"/><stop offset=".36" stop-color="#9595ff"/><stop offset=".43" stop-color="#b4b4ff"/><stop offset=".52" stop-color="#d7d7ff"/><stop offset=".64" stop-color="#f0f0ff"/><stop offset=".8" stop-color="#f4f4ff"/><stop offset="1" stop-color="#f6f6ff"/></linearGradient>
<linearGradient id="g227" x2="0" y2="1"><stop offset="0" stop-color="#1f1fff"/><stop offset=".05" stop-color="#2424ff"/><stop offset=".1" stop-color="#2f2fff"/><stop offset=".15" stop-color="#3d3dff"/><stop offset=".2" stop-color="#4f4fff"/><stop offset=".25" stop-color="#6363ff"/><stop offset=".3" stop-color="#7878ff"/><stop offset=".36" stop-color="#9393ff"/><stop offset=".43" stop-color="#b1b1ff"/><stop offset=".52" stop-color="#d2d2ff"/><stop offset=".64" stop-color="#eeeeff"/><stop offset=".8" stop-color="#f3f3ff"/><stop offset="1" stop-color="#f6f6ff"/></linearGradient>
<linearGradient id="g228" x2="0" y2="1"><stop offset="0" stop-color="#2626ff"/><stop offset=".05" stop-color="#2a2aff"/><stop offset=".1" stop-color="#3333ff"/><stop offset=".15" stop-color="#3f3fff"/><stop offset=".2" stop-color="#4e4eff"/><stop offset=".25" stop-color="#5f5fff"/><stop offset=".3" stop-color="#7171ff"/><stop offset=".36" stop-color="#8888ff"/><stop offset=".43" stop-color="#a3a3ff"/><stop offset=".52" stop-color="#c2c2ff"/><stop offset=".64" stop-color="#e3e3ff"/><stop offset=".8" stop-color="#f0f0ff"/><stop offset="1" stop-color="#f4f4ff"/></linearGradient>
<linearGradient id="g229" x2="0" y2="1"><stop offset="0" stop-color="#5f5fff"/><stop offset=".05" stop-color="#6464ff"/><stop offset=".1" stop-color="#6d6dff"/><stop offset=".15" stop-color="#7a7aff"/><stop offset=".2" stop-color="#8a8aff"/><stop offset=".25" stop-color="#9b9bff"/><stop offset=".3" stop-color="#adadff"/><stop offset=".36" stop-color="#c1c1ff"/><stop offset=".43" stop-color="#d7d7ff"/><stop offset=".52" stop-color="#ececff"/><stop offset=".64" stop-color="#f3f3ff"/><stop offset=".8" stop-color="#f6f6ff"/><stop offset="1" stop-color="#f8f8ff"/></linearGradient>
<linearGradient id="g230" x2="0" y2="1"><stop offset="0" stop-color="#2a2aff"/><stop offset=".05" stop-color="#3030ff"/><stop offset=".1" stop-color="#3b3bff"/><stop offset=".15" stop-color="#4a4aff"/><stop offset=".2" stop-color="#5c5cff"/><stop offset=".25" stop-color="#7171ff"/><stop offset=".3" stop-color="#8686ff"/><stop offset=".36" stop-color="#a1a1ff"/><stop offset=".43" stop-color="#bebeff"/><stop offset=".52" stop-color="#ddddff"/><stop offset=".64" stop-color="#f1f1ff"/><stop offset=".8" stop-color="#f4f4ff"/><stop offset="1" stop-color="#f7f7ff"/></linearGradient>
<linearGradient id="g231" x2="0" y2="1"><stop offset="0" stop-color="#2f2fff"/><stop offset=".05" stop-color="#3434ff"/><stop offset=".1" stop-color="#3e3eff"/><stop offset=".15" stop-color="#4a4aff"/><stop offset=".2" stop-color="#5959ff"/><stop offset=".25" stop-color="#6b6bff"/><stop offset=".3" stop-color="#7d7dff"/><stop offset=".36" stop-color="#9494ff"/><stop offset=".43" stop-color="#afafff"/><stop offset=".52" stop-color="#ceceff"/><stop offset=".64" stop-color="#eaeaff"/><stop offset=".8" stop-color="#f2f2ff"/><stop offset="1" stop-color="#f5f5ff"/></linearGradient>
<clipPath id="cpc"><rect x="587.2" y="52.6" width="169.3" height="174.1"/></clipPath>
<filter id="blc" x="-5%" y="-5%" width="110%" height="110%"><feGaussianBlur stdDeviation="0.8"/></filter>
<linearGradient id="g232" x2="0" y2="1"><stop offset="0" stop-color="#ededff"/><stop offset=".481" stop-color="#ededff"/><stop offset=".52" stop-color="#e0e0ff"/><stop offset=".558" stop-color="#c3c3ff"/><stop offset=".596" stop-color="#9f9fff"/><stop offset=".635" stop-color="#7c7cff"/><stop offset=".673" stop-color="#6161ff"/><stop offset=".711" stop-color="#5757ff"/><stop offset=".756" stop-color="#3d3dff"/><stop offset=".797" stop-color="#4747ff"/><stop offset=".841" stop-color="#6868ff"/><stop offset=".886" stop-color="#8585ff"/><stop offset=".927" stop-color="#a6a6ff"/><stop offset=".966" stop-color="#bdbdff"/><stop offset="1" stop-color="#c7c7ff"/></linearGradient>
<linearGradient id="g233" x2="0" y2="1"><stop offset="0" stop-color="#ededff"/><stop offset=".481" stop-color="#ededff"/><stop offset=".52" stop-color="#e0e0ff"/><stop offset=".558" stop-color="#c3c3ff"/><stop offset=".596" stop-color="#9f9fff"/><stop offset=".635" stop-color="#7c7cff"/><stop offset=".673" stop-color="#6161ff"/><stop offset=".711" stop-color="#5757ff"/><stop offset=".756" stop-color="#3d3dff"/><stop offset=".797" stop-color="#4747ff"/><stop offset=".841" stop-color="#6868ff"/><stop offset=".886" stop-color="#8585ff"/><stop offset=".927" stop-color="#a6a6ff"/><stop offset=".966" stop-color="#bdbdff"/><stop offset="1" stop-color="#c7c7ff"/></linearGradient>
<linearGradient id="g234" x2="0" y2="1"><stop offset="0" stop-color="#ededff"/><stop offset=".481" stop-color="#ededff"/><stop offset=".52" stop-color="#e0e0ff"/><stop offset=".558" stop-color="#c3c3ff"/><stop offset=".596" stop-color="#9f9fff"/><stop offset=".635" stop-color="#7c7cff"/><stop offset=".673" stop-color="#6161ff"/><stop offset=".711" stop-color="#5757ff"/><stop offset=".756" stop-color="#3d3dff"/><stop offset=".797" stop-color="#4747ff"/><stop offset=".841" stop-color="#6868ff"/><stop offset=".886" stop-color="#8585ff"/><stop offset=".927" stop-color="#a6a6ff"/><stop offset=".966" stop-color="#bdbdff"/><stop offset="1" stop-color="#c7c7ff"/></linearGradient>
<linearGradient id="g235" x2="0" y2="1"><stop offset="0" stop-color="#ededff"/><stop offset=".556" stop-color="#ededff"/><stop offset=".581" stop-color="#e1e1ff"/><stop offset=".607" stop-color="#c6c6ff"/><stop offset=".633" stop-color="#a5a5ff"/><stop offset=".659" stop-color="#8484ff"/><stop offset=".685" stop-color="#6b6bff"/><stop offset=".711" stop-color="#6161ff"/><stop offset=".756" stop-color="#3d3dff"/><stop offset=".797" stop-color="#4747ff"/><stop offset=".841" stop-color="#6868ff"/><stop offset=".886" stop-color="#8585ff"/><stop offset=".927" stop-color="#a6a6ff"/><stop offset=".966" stop-color="#bdbdff"/><stop offset="1" stop-color="#c7c7ff"/></linearGradient>
<linearGradient id="g236" x2="0" y2="1"><stop offset="0" stop-color="#ededff"/><stop offset=".556" stop-color="#ededff"/><stop offset=".581" stop-color="#e1e1ff"/><stop offset=".607" stop-color="#c6c6ff"/><stop offset=".633" stop-color="#a5a5ff"/><stop offset=".659" stop-color="#8484ff"/><stop offset=".685" stop-color="#6b6bff"/><stop offset=".711" stop-color="#6161ff"/><stop offset=".756" stop-color="#3d3dff"/><stop offset=".797" stop-color="#4747ff"/><stop offset=".841" stop-color="#6868ff"/><stop offset=".886" stop-color="#8585ff"/><stop offset=".927" stop-color="#a6a6ff"/><stop offset=".966" stop-color="#bdbdff"/><stop offset="1" stop-color="#c7c7ff"/></linearGradient>
<linearGradient id="g237" x2="0" y2="1"><stop offset="0" stop-color="#ededff"/><stop offset=".422" stop-color="#ededff"/><stop offset=".47" stop-color="#e1e1ff"/><stop offset=".519" stop-color="#c6c6ff"/><stop offset=".567" stop-color="#a5a5ff"/><stop offset=".615" stop-color="#8484ff"/><stop offset=".663" stop-color="#6b6bff"/><stop offset=".711" stop-color="#6161ff"/><stop offset=".756" stop-color="#3d3dff"/><stop offset=".797" stop-color="#4747ff"/><stop offset=".841" stop-color="#6868ff"/><stop offset=".886" stop-color="#8585ff"/><stop offset=".927" stop-color="#a6a6ff"/><stop offset=".966" stop-color="#bdbdff"/><stop offset="1" stop-color="#c7c7ff"/></linearGradient>
<linearGradient id="g238" x2="0" y2="1"><stop offset="0" stop-color="#ededff"/><stop offset=".422" stop-color="#ededff"/><stop offset=".47" stop-color="#e1e1ff"/><stop offset=".519" stop-color="#c6c6ff"/><stop offset=".567" stop-color="#a5a5ff"/><stop offset=".615" stop-color="#8484ff"/><stop offset=".663" stop-color="#6b6bff"/><stop offset=".711" stop-color="#6161ff"/><stop offset=".756" stop-color="#3d3dff"/><stop offset=".797" stop-color="#4747ff"/><stop offset=".841" stop-color="#6868ff"/><stop offset=".886" stop-color="#8585ff"/><stop offset=".927" stop-color="#a6a6ff"/><stop offset=".966" stop-color="#bdbdff"/><stop offset="1" stop-color="#c7c7ff"/></linearGradient>
<linearGradient id="g239" x2="0" y2="1"><stop offset="0" stop-color="#ededff"/><stop offset=".422" stop-color="#ededff"/><stop offset=".47" stop-color="#e1e1ff"/><stop offset=".519" stop-color="#c6c6ff"/><stop offset=".567" stop-color="#a5a5ff"/><stop offset=".615" stop-color="#8484ff"/><stop offset=".663" stop-color="#6b6bff"/><stop offset=".711" stop-color="#6161ff"/><stop offset=".756" stop-color="#3d3dff"/><stop offset=".797" stop-color="#4747ff"/><stop offset=".841" stop-color="#6868ff"/><stop offset=".886" stop-color="#8585ff"/><stop offset=".927" stop-color="#a6a6ff"/><stop offset=".966" stop-color="#bdbdff"/><stop offset="1" stop-color="#c7c7ff"/></linearGradient>
<linearGradient id="g240" x2="0" y2="1"><stop offset="0" stop-color="#f2f2ff"/><stop offset=".481" stop-color="#f2f2ff"/><stop offset=".52" stop-color="#e9e9ff"/><stop offset=".558" stop-color="#d2d2ff"/><stop offset=".596" stop-color="#b7b7ff"/><stop offset=".635" stop-color="#9c9cff"/><stop offset=".673" stop-color="#8888ff"/><stop offset=".711" stop-color="#8080ff"/><stop offset=".756" stop-color="#3d3dff"/><stop offset=".797" stop-color="#4747ff"/><stop offset=".841" stop-color="#6868ff"/><stop offset=".886" stop-color="#8585ff"/><stop offset=".927" stop-color="#a6a6ff"/><stop offset=".966" stop-color="#bdbdff"/><stop offset="1" stop-color="#c7c7ff"/></linearGradient>
<linearGradient id="g241" x2="0" y2="1"><stop offset="0" stop-color="#ffffff"/><stop offset=".711" stop-color="#ffffff"/><stop offset=".756" stop-color="#5c5cff"/><stop offset=".797" stop-color="#6464ff"/><stop offset=".841" stop-color="#8080ff"/><stop offset=".886" stop-color="#8585ff"/><stop offset=".927" stop-color="#a6a6ff"/><stop offset=".966" stop-color="#bdbdff"/><stop offset="1" stop-color="#c7c7ff"/></linearGradient>
<linearGradient id="g242" x2="0" y2="1"><stop offset="0" stop-color="#f5f5ff"/><stop offset=".511" stop-color="#f5f5ff"/><stop offset=".544" stop-color="#e7e7ff"/><stop offset=".578" stop-color="#c6c6ff"/><stop offset=".611" stop-color="#9e9eff"/><stop offset=".644" stop-color="#7676ff"/><stop offset=".678" stop-color="#5858ff"/><stop offset=".711" stop-color="#4d4dff"/><stop offset=".756" stop-color="#3d3dff"/><stop offset=".797" stop-color="#4747ff"/><stop offset=".841" stop-color="#6868ff"/><stop offset=".886" stop-color="#8585ff"/><stop offset=".927" stop-color="#a6a6ff"/><stop offset=".966" stop-color="#bdbdff"/><stop offset="1" stop-color="#c7c7ff"/></linearGradient>
<linearGradient id="g243" x2="0" y2="1"><stop offset="0" stop-color="#f7f7ff"/><stop offset=".541" stop-color="#f7f7ff"/><stop offset=".569" stop-color="#eaeaff"/><stop offset=".598" stop-color="#ccccff"/><stop offset=".626" stop-color="#a7a7ff"/><stop offset=".654" stop-color="#8282ff"/><stop offset=".683" stop-color="#6767ff"/><stop offset=".711" stop-color="#5c5cff"/><stop offset=".756" stop-color="#3d3dff"/><stop offset=".797" stop-color="#4747ff"/><stop offset=".841" stop-color="#6868ff"/><stop offset=".886" stop-color="#8585ff"/><stop offset=".927" stop-color="#a6a6ff"/><stop offset=".966" stop-color="#bdbdff"/><stop offset="1" stop-color="#c7c7ff"/></linearGradient>
<linearGradient id="g244" x2="0" y2="1"><stop offset="0" stop-color="#fcfcff"/><stop offset=".681" stop-color="#fcfcff"/><stop offset=".686" stop-color="#f5f5ff"/><stop offset=".691" stop-color="#e4e4ff"/><stop offset=".696" stop-color="#d0d0ff"/><stop offset=".701" stop-color="#bbbbff"/><stop offset=".706" stop-color="#acacff"/><stop offset=".711" stop-color="#a6a6ff"/><stop offset=".756" stop-color="#5c5cff"/><stop offset=".797" stop-color="#6464ff"/><stop offset=".841" stop-color="#8080ff"/><stop offset=".886" stop-color="#8585ff"/><stop offset=".927" stop-color="#a6a6ff"/><stop offset=".966" stop-color="#bdbdff"/><stop offset="1" stop-color="#c7c7ff"/></linearGradient>
<linearGradient id="g245" x2="0" y2="1"><stop offset="0" stop-color="#ffffff"/><stop offset=".711" stop-color="#ffffff"/><stop offset=".756" stop-color="#5c5cff"/><stop offset=".797" stop-color="#6464ff"/><stop offset=".841" stop-color="#8080ff"/><stop offset=".886" stop-color="#8585ff"/><stop offset=".927" stop-color="#a6a6ff"/><stop offset=".966" stop-color="#bdbdff"/><stop offset="1" stop-color="#c7c7ff"/></linearGradient>
<linearGradient id="g246" x2="0" y2="1"><stop offset="0" stop-color="#ffffff"/><stop offset=".711" stop-color="#ffffff"/><stop offset=".756" stop-color="#5c5cff"/><stop offset=".797" stop-color="#6464ff"/><stop offset=".841" stop-color="#8080ff"/><stop offset=".886" stop-color="#8585ff"/><stop offset=".927" stop-color="#a6a6ff"/><stop offset=".966" stop-color="#bdbdff"/><stop offset="1" stop-color="#c7c7ff"/></linearGradient>
<linearGradient id="g247" x2="0" y2="1"><stop offset="0" stop-color="#ffffff"/><stop offset=".711" stop-color="#ffffff"/><stop offset=".756" stop-color="#5c5cff"/><stop offset=".797" stop-color="#6464ff"/><stop offset=".841" stop-color="#8080ff"/><stop offset=".886" stop-color="#8585ff"/><stop offset=".927" stop-color="#a6a6ff"/><stop offset=".966" stop-color="#bdbdff"/><stop offset="1" stop-color="#c7c7ff"/></linearGradient>
<linearGradient id="g248" x2="0" y2="1"><stop offset="0" stop-color="#fcfcff"/><stop offset=".681" stop-color="#fcfcff"/><stop offset=".686" stop-color="#f5f5ff"/><stop offset=".691" stop-color="#e4e4ff"/><stop offset=".696" stop-color="#d0d0ff"/><stop offset=".701" stop-color="#bbbbff"/><stop offset=".706" stop-color="#acacff"/><stop offset=".711" stop-color="#a6a6ff"/><stop offset=".756" stop-color="#5c5cff"/><stop offset=".797" stop-color="#6464ff"/><stop offset=".841" stop-color="#8080ff"/><stop offset=".886" stop-color="#8585ff"/><stop offset=".927" stop-color="#a6a6ff"/><stop offset=".966" stop-color="#bdbdff"/><stop offset="1" stop-color="#c7c7ff"/></linearGradient>
<linearGradient id="g249" x2="0" y2="1"><stop offset="0" stop-color="#f5f5ff"/><stop offset=".385" stop-color="#f5f5ff"/><stop offset=".44" stop-color="#eaeaff"/><stop offset=".494" stop-color="#d3d3ff"/><stop offset=".548" stop-color="#b5b5ff"/><stop offset=".602" stop-color="#9999ff"/><stop offset=".657" stop-color="#8383ff"/><stop offset=".711" stop-color="#7a7aff"/><stop offset=".756" stop-color="#3d3dff"/><stop offset=".797" stop-color="#4747ff"/><stop offset=".841" stop-color="#6868ff"/><stop offset=".886" stop-color="#8585ff"/><stop offset=".927" stop-color="#a6a6ff"/><stop offset=".966" stop-color="#bdbdff"/><stop offset="1" stop-color="#c7c7ff"/></linearGradient>
<linearGradient id="g250" x2="0" y2="1"><stop offset="0" stop-color="#f2f2ff"/><stop offset=".281" stop-color="#f2f2ff"/><stop offset=".353" stop-color="#e7e7ff"/><stop offset=".425" stop-color="#ceceff"/><stop offset=".496" stop-color="#afafff"/><stop offset=".568" stop-color="#9090ff"/><stop offset=".64" stop-color="#7979ff"/><stop offset=".711" stop-color="#7070ff"/><stop offset=".756" stop-color="#3d3dff"/><stop offset=".797" stop-color="#4747ff"/><stop offset=".841" stop-color="#6868ff"/><stop offset=".886" stop-color="#8585ff"/><stop offset=".927" stop-color="#a6a6ff"/><stop offset=".966" stop-color="#bdbdff"/><stop offset="1" stop-color="#c7c7ff"/></linearGradient>
<linearGradient id="g251" x2="0" y2="1"><stop offset="0" stop-color="#f2f2ff"/><stop offset=".267" stop-color="#f2f2ff"/><stop offset=".341" stop-color="#e6e6ff"/><stop offset=".415" stop-color="#cbcbff"/><stop offset=".489" stop-color="#aaaaff"/><stop offset=".563" stop-color="#8989ff"/><stop offset=".637" stop-color="#7070ff"/><stop offset=".711" stop-color="#6666ff"/><stop offset=".756" stop-color="#3d3dff"/><stop offset=".797" stop-color="#4747ff"/><stop offset=".841" stop-color="#6868ff"/><stop offset=".886" stop-color="#8585ff"/><stop offset=".927" stop-color="#a6a6ff"/><stop offset=".966" stop-color="#bdbdff"/><stop offset="1" stop-color="#c7c7ff"/></linearGradient>
<linearGradient id="g252" x2="0" y2="1"><stop offset="0" stop-color="#f2f2ff"/><stop offset=".281" stop-color="#f2f2ff"/><stop offset=".353" stop-color="#e7e7ff"/><stop offset=".425" stop-color="#ceceff"/><stop offset=".496" stop-color="#afafff"/><stop offset=".568" stop-color="#9090ff"/><stop offset=".64" stop-color="#7979ff"/><stop offset=".711" stop-color="#7070ff"/><stop offset=".756" stop-color="#3d3dff"/><stop offset=".797" stop-color="#4747ff"/><stop offset=".841" stop-color="#6868ff"/><stop offset=".886" stop-color="#8585ff"/><stop offset=".927" stop-color="#a6a6ff"/><stop offset=".966" stop-color="#bdbdff"/><stop offset="1" stop-color="#c7c7ff"/></linearGradient>
<linearGradient id="g253" x2="0" y2="1"><stop offset="0" stop-color="#f5f5ff"/><stop offset=".43" stop-color="#f5f5ff"/><stop offset=".477" stop-color="#ededff"/><stop offset=".523" stop-color="#dbdbff"/><stop offset=".57" stop-color="#c5c5ff"/><stop offset=".617" stop-color="#b0b0ff"/><stop offset=".664" stop-color="#9f9fff"/><stop offset=".711" stop-color="#9999ff"/><stop offset=".756" stop-color="#3d3dff"/><stop offset=".797" stop-color="#4747ff"/><stop offset=".841" stop-color="#6868ff"/><stop offset=".886" stop-color="#8585ff"/><stop offset=".927" stop-color="#a6a6ff"/><stop offset=".966" stop-color="#bdbdff"/><stop offset="1" stop-color="#c7c7ff"/></linearGradient>
<linearGradient id="g254" x2="0" y2="1"><stop offset="0" stop-color="#f2f2ff"/><stop offset=".304" stop-color="#f2f2ff"/><stop offset=".372" stop-color="#e6e6ff"/><stop offset=".44" stop-color="#cbcbff"/><stop offset=".507" stop-color="#aaaaff"/><stop offset=".575" stop-color="#8989ff"/><stop offset=".643" stop-color="#7070ff"/><stop offset=".711" stop-color="#6666ff"/><stop offset=".756" stop-color="#3d3dff"/><stop offset=".797" stop-color="#4747ff"/><stop offset=".841" stop-color="#6868ff"/><stop offset=".886" stop-color="#8585ff"/><stop offset=".927" stop-color="#a6a6ff"/><stop offset=".966" stop-color="#bdbdff"/><stop offset="1" stop-color="#c7c7ff"/></linearGradient>
<linearGradient id="g255" x2="0" y2="1"><stop offset="0" stop-color="#f2f2ff"/><stop offset=".259" stop-color="#f2f2ff"/><stop offset=".335" stop-color="#e5e5ff"/><stop offset=".41" stop-color="#c7c7ff"/><stop offset=".485" stop-color="#a2a2ff"/><stop offset=".56" stop-color="#7d7dff"/><stop offset=".636" stop-color="#6262ff"/><stop offset=".711" stop-color="#5757ff"/><stop offset=".756" stop-color="#3d3dff"/><stop offset=".797" stop-color="#4747ff"/><stop offset=".841" stop-color="#6868ff"/><stop offset=".886" stop-color="#8585ff"/><stop offset=".927" stop-color="#a6a6ff"/><stop offset=".966" stop-color="#bdbdff"/><stop offset="1" stop-color="#c7c7ff"/></linearGradient>
<linearGradient id="g256" x2="0" y2="1"><stop offset="0" stop-color="#f2f2ff"/><stop offset=".289" stop-color="#f2f2ff"/><stop offset=".359" stop-color="#e6e6ff"/><stop offset=".43" stop-color="#cacaff"/><stop offset=".5" stop-color="#a7a7ff"/><stop offset=".57" stop-color="#8585ff"/><stop offset=".641" stop-color="#6b6bff"/><stop offset=".711" stop-color="#6161ff"/><stop offset=".756" stop-color="#3d3dff"/><stop offset=".797" stop-color="#4747ff"/><stop offset=".841" stop-color="#6868ff"/><stop offset=".886" stop-color="#8585ff"/><stop offset=".927" stop-color="#a6a6ff"/><stop offset=".966" stop-color="#bdbdff"/><stop offset="1" stop-color="#c7c7ff"/></linearGradient>
<linearGradient id="g257" x2="0" y2="1"><stop offset="0" stop-color="#f7f7ff"/><stop offset=".519" stop-color="#f7f7ff"/><stop offset=".551" stop-color="#efefff"/><stop offset=".583" stop-color="#dcdcff"/><stop offset=".615" stop-color="#c4c4ff"/><stop offset=".647" stop-color="#adadff"/><stop offset=".679" stop-color="#9b9bff"/><stop offset=".711" stop-color="#9494ff"/><stop offset=".756" stop-color="#3d3dff"/><stop offset=".797" stop-color="#4747ff"/><stop offset=".841" stop-color="#6868ff"/><stop offset=".886" stop-color="#8585ff"/><stop offset=".927" stop-color="#a6a6ff"/><stop offset=".966" stop-color="#bdbdff"/><stop offset="1" stop-color="#c7c7ff"/></linearGradient>
<linearGradient id="g258" x2="0" y2="1"><stop offset="0" stop-color="#f5f5ff"/><stop offset=".4" stop-color="#f5f5ff"/><stop offset=".452" stop-color="#e9e9ff"/><stop offset=".504" stop-color="#cdcdff"/><stop offset=".556" stop-color="#ababff"/><stop offset=".607" stop-color="#8989ff"/><stop offset=".659" stop-color="#7070ff"/><stop offset=".711" stop-color="#6666ff"/><stop offset=".756" stop-color="#3d3dff"/><stop offset=".797" stop-color="#4747ff"/><stop offset=".841" stop-color="#6868ff"/><stop offset=".886" stop-color="#8585ff"/><stop offset=".927" stop-color="#a6a6ff"/><stop offset=".966" stop-color="#bdbdff"/><stop offset="1" stop-color="#c7c7ff"/></linearGradient>
<linearGradient id="g259" x2="0" y2="1"><stop offset="0" stop-color="#f5f5ff"/><stop offset=".415" stop-color="#f5f5ff"/><stop offset=".464" stop-color="#eaeaff"/><stop offset=".514" stop-color="#d0d0ff"/><stop offset=".563" stop-color="#b0b0ff"/><stop offset=".612" stop-color="#9191ff"/><stop offset=".662" stop-color="#7a7aff"/><stop offset=".711" stop-color="#7070ff"/><stop offset=".756" stop-color="#3d3dff"/><stop offset=".797" stop-color="#4747ff"/><stop offset=".841" stop-color="#6868ff"/><stop offset=".886" stop-color="#8585ff"/><stop offset=".927" stop-color="#a6a6ff"/><stop offset=".966" stop-color="#bdbdff"/><stop offset="1" stop-color="#c7c7ff"/></linearGradient>
<linearGradient id="g260" x2="0" y2="1"><stop offset="0" stop-color="#fcfcff"/><stop offset=".704" stop-color="#fcfcff"/><stop offset=".705" stop-color="#f5f5ff"/><stop offset=".706" stop-color="#e4e4ff"/><stop offset=".707" stop-color="#d0d0ff"/><stop offset=".709" stop-color="#bbbbff"/><stop offset=".71" stop-color="#acacff"/><stop offset=".711" stop-color="#a6a6ff"/><stop offset=".756" stop-color="#5c5cff"/><stop offset=".797" stop-color="#6464ff"/><stop offset=".841" stop-color="#8080ff"/><stop offset=".886" stop-color="#8585ff"/><stop offset=".927" stop-color="#a6a6ff"/><stop offset=".966" stop-color="#bdbdff"/><stop offset="1" stop-color="#c7c7ff"/></linearGradient>
<linearGradient id="g261" x2="0" y2="1"><stop offset="0" stop-color="#fafaff"/><stop offset=".689" stop-color="#fafaff"/><stop offset=".693" stop-color="#f3f3ff"/><stop offset=".696" stop-color="#e3e3ff"/><stop offset=".7" stop-color="#ceceff"/><stop offset=".704" stop-color="#bbbbff"/><stop offset=".707" stop-color="#acacff"/><stop offset=".711" stop-color="#a6a6ff"/><stop offset=".756" stop-color="#5c5cff"/><stop offset=".797" stop-color="#6464ff"/><stop offset=".841" stop-color="#8080ff"/><stop offset=".886" stop-color="#8585ff"/><stop offset=".927" stop-color="#a6a6ff"/><stop offset=".966" stop-color="#bdbdff"/><stop offset="1" stop-color="#c7c7ff"/></linearGradient>
<linearGradient id="g262" x2="0" y2="1"><stop offset="0" stop-color="#ebebff"/><stop offset=".474" stop-color="#ebebff"/><stop offset=".514" stop-color="#e3e3ff"/><stop offset=".553" stop-color="#d0d0ff"/><stop offset=".593" stop-color="#babaff"/><stop offset=".632" stop-color="#a4a4ff"/><stop offset=".672" stop-color="#9393ff"/><stop offset=".711" stop-color="#8c8cff"/><stop offset=".756" stop-color="#3d3dff"/><stop offset=".797" stop-color="#4747ff"/><stop offset=".841" stop-color="#6868ff"/><stop offset=".886" stop-color="#8585ff"/><stop offset=".927" stop-color="#a6a6ff"/><stop offset=".966" stop-color="#bdbdff"/><stop offset="1" stop-color="#c7c7ff"/></linearGradient>
<linearGradient id="g263" x2="0" y2="1"><stop offset="0" stop-color="#8585ff"/><stop offset=".133" stop-color="#6666ff"/><stop offset=".281" stop-color="#4d4dff"/><stop offset=".43" stop-color="#3333ff"/><stop offset=".756" stop-color="#3333ff"/><stop offset=".797" stop-color="#3d3dff"/><stop offset=".841" stop-color="#6060ff"/><stop offset=".886" stop-color="#8585ff"/><stop offset=".927" stop-color="#a6a6ff"/><stop offset=".966" stop-color="#bdbdff"/><stop offset="1" stop-color="#c7c7ff"/></linearGradient>
<linearGradient id="g264" x2="0" y2="1"><stop offset="0" stop-color="#9494ff"/><stop offset=".133" stop-color="#7373ff"/><stop offset=".281" stop-color="#5757ff"/><stop offset=".43" stop-color="#4040ff"/><stop offset=".711" stop-color="#3d3dff"/><stop offset=".756" stop-color="#3d3dff"/><stop offset=".797" stop-color="#4747ff"/><stop offset=".841" stop-color="#6868ff"/><stop offset=".886" stop-color="#8585ff"/><stop offset=".927" stop-color="#a6a6ff"/><stop offset=".966" stop-color="#bdbdff"/><stop offset="1" stop-color="#c7c7ff"/></linearGradient>
<linearGradient id="g265" x2="0" y2="1"><stop offset="0" stop-color="#ccccff"/><stop offset=".133" stop-color="#adadff"/><stop offset=".281" stop-color="#7a7aff"/><stop offset=".4" stop-color="#3d3dff"/><stop offset=".459" stop-color="#1f1fff"/><stop offset=".756" stop-color="#1f1fff"/><stop offset=".797" stop-color="#2a2aff"/><stop offset=".841" stop-color="#5050ff"/><stop offset=".886" stop-color="#8585ff"/><stop offset=".927" stop-color="#a6a6ff"/><stop offset=".966" stop-color="#bdbdff"/><stop offset="1" stop-color="#c7c7ff"/></linearGradient>
<linearGradient id="g266" x2="0" y2="1"><stop offset="0" stop-color="#ccccff"/><stop offset=".133" stop-color="#adadff"/><stop offset=".281" stop-color="#7a7aff"/><stop offset=".4" stop-color="#3d3dff"/><stop offset=".459" stop-color="#1919ff"/><stop offset=".711" stop-color="#1919ff"/><stop offset=".756" stop-color="#1f1fff"/><stop offset=".797" stop-color="#2a2aff"/><stop offset=".841" stop-color="#5050ff"/><stop offset=".886" stop-color="#8585ff"/><stop offset=".927" stop-color="#a6a6ff"/><stop offset=".966" stop-color="#bdbdff"/><stop offset="1" stop-color="#c7c7ff"/></linearGradient>
<linearGradient id="g267" x2="0" y2="1"><stop offset="0" stop-color="#7373ff"/><stop offset=".133" stop-color="#6666ff"/><stop offset=".281" stop-color="#4040ff"/><stop offset=".43" stop-color="#1919ff"/><stop offset=".711" stop-color="#1f1fff"/><stop offset=".756" stop-color="#1f1fff"/><stop offset=".797" stop-color="#2a2aff"/><stop offset=".841" stop-color="#5050ff"/><stop offset=".886" stop-color="#8585ff"/><stop offset=".927" stop-color="#a6a6ff"/><stop offset=".966" stop-color="#bdbdff"/><stop offset="1" stop-color="#c7c7ff"/></linearGradient>
<linearGradient id="g268" x2="0" y2="1"><stop offset="0" stop-color="#8080ff"/><stop offset=".133" stop-color="#6b6bff"/><stop offset=".281" stop-color="#4242ff"/><stop offset=".43" stop-color="#1f1fff"/><stop offset=".756" stop-color="#1f1fff"/><stop offset=".797" stop-color="#2a2aff"/><stop offset=".841" stop-color="#5050ff"/><stop offset=".886" stop-color="#8585ff"/><stop offset=".927" stop-color="#a6a6ff"/><stop offset=".966" stop-color="#bdbdff"/><stop offset="1" stop-color="#c7c7ff"/></linearGradient>
<linearGradient id="g269" x2="0" y2="1"><stop offset="0" stop-color="#c7c7ff"/><stop offset=".133" stop-color="#9e9eff"/><stop offset=".281" stop-color="#6161ff"/><stop offset=".43" stop-color="#2626ff"/><stop offset=".711" stop-color="#2929ff"/><stop offset=".756" stop-color="#2929ff"/><stop offset=".797" stop-color="#3434ff"/><stop offset=".841" stop-color="#5858ff"/><stop offset=".886" stop-color="#8585ff"/><stop offset=".927" stop-color="#a6a6ff"/><stop offset=".966" stop-color="#bdbdff"/><stop offset="1" stop-color="#c7c7ff"/></linearGradient>
<linearGradient id="g270" x2="0" y2="1"><stop offset="0" stop-color="#ccccff"/><stop offset=".133" stop-color="#a3a3ff"/><stop offset=".281" stop-color="#6161ff"/><stop offset=".43" stop-color="#2626ff"/><stop offset=".756" stop-color="#2626ff"/><stop offset=".797" stop-color="#3131ff"/><stop offset=".841" stop-color="#5656ff"/><stop offset=".886" stop-color="#8585ff"/><stop offset=".927" stop-color="#a6a6ff"/><stop offset=".966" stop-color="#bdbdff"/><stop offset="1" stop-color="#c7c7ff"/></linearGradient>
<linearGradient id="g271" x2="0" y2="1"><stop offset="0" stop-color="#d9d9ff"/><stop offset=".133" stop-color="#bfbfff"/><stop offset=".281" stop-color="#8080ff"/><stop offset=".4" stop-color="#3333ff"/><stop offset=".459" stop-color="#0a0aff"/><stop offset=".696" stop-color="#0808ff"/><stop offset=".711" stop-color="#0d0dff"/><stop offset=".756" stop-color="#1f1fff"/><stop offset=".797" stop-color="#2a2aff"/><stop offset=".841" stop-color="#5050ff"/><stop offset=".886" stop-color="#8585ff"/><stop offset=".927" stop-color="#a6a6ff"/><stop offset=".966" stop-color="#bdbdff"/><stop offset="1" stop-color="#c7c7ff"/></linearGradient>
<linearGradient id="g272" x2="0" y2="1"><stop offset="0" stop-color="#d9d9ff"/><stop offset=".133" stop-color="#bfbfff"/><stop offset=".281" stop-color="#8080ff"/><stop offset=".4" stop-color="#3838ff"/><stop offset=".459" stop-color="#0d0dff"/><stop offset=".696" stop-color="#0808ff"/><stop offset=".711" stop-color="#0d0dff"/><stop offset=".756" stop-color="#1f1fff"/><stop offset=".797" stop-color="#2a2aff"/><stop offset=".841" stop-color="#5050ff"/><stop offset=".886" stop-color="#8585ff"/><stop offset=".927" stop-color="#a6a6ff"/><stop offset=".966" stop-color="#bdbdff"/><stop offset="1" stop-color="#c7c7ff"/></linearGradient>
<linearGradient id="g273" x2="0" y2="1"><stop offset="0" stop-color="#e0e0ff"/><stop offset=".133" stop-color="#ccccff"/><stop offset=".281" stop-color="#9999ff"/><stop offset=".43" stop-color="#6666ff"/><stop offset=".578" stop-color="#4040ff"/><stop offset=".711" stop-color="#3d3dff"/><stop offset=".756" stop-color="#3d3dff"/><stop offset=".797" stop-color="#4747ff"/><stop offset=".841" stop-color="#6868ff"/><stop offset=".886" stop-color="#8585ff"/><stop offset=".927" stop-color="#a6a6ff"/><stop offset=".966" stop-color="#bdbdff"/><stop offset="1" stop-color="#c7c7ff"/></linearGradient>
<linearGradient id="g274" x2="0" y2="1"><stop offset="0" stop-color="#e0e0ff"/><stop offset=".133" stop-color="#ccccff"/><stop offset=".281" stop-color="#a3a3ff"/><stop offset=".43" stop-color="#7373ff"/><stop offset=".578" stop-color="#4d4dff"/><stop offset=".711" stop-color="#4242ff"/><stop offset=".756" stop-color="#3d3dff"/><stop offset=".797" stop-color="#4747ff"/><stop offset=".841" stop-color="#6868ff"/><stop offset=".886" stop-color="#8585ff"/><stop offset=".927" stop-color="#a6a6ff"/><stop offset=".966" stop-color="#bdbdff"/><stop offset="1" stop-color="#c7c7ff"/></linearGradient>
<linearGradient id="g275" x2="0" y2="1"><stop offset="0" stop-color="#e6e6ff"/><stop offset=".133" stop-color="#d1d1ff"/><stop offset=".281" stop-color="#b2b2ff"/><stop offset=".43" stop-color="#9494ff"/><stop offset=".578" stop-color="#7575ff"/><stop offset=".711" stop-color="#6161ff"/><stop offset=".756" stop-color="#3d3dff"/><stop offset=".797" stop-color="#4747ff"/><stop offset=".841" stop-color="#6868ff"/><stop offset=".886" stop-color="#8585ff"/><stop offset=".927" stop-color="#a6a6ff"/><stop offset=".966" stop-color="#bdbdff"/><stop offset="1" stop-color="#c7c7ff"/></linearGradient>
<linearGradient id="g276" x2="0" y2="1"><stop offset="0" stop-color="#e6e6ff"/><stop offset=".133" stop-color="#d1d1ff"/><stop offset=".281" stop-color="#b2b2ff"/><stop offset=".43" stop-color="#9999ff"/><stop offset=".578" stop-color="#7a7aff"/><stop offset=".711" stop-color="#6666ff"/><stop offset=".756" stop-color="#3d3dff"/><stop offset=".797" stop-color="#4747ff"/><stop offset=".841" stop-color="#6868ff"/><stop offset=".886" stop-color="#8585ff"/><stop offset=".927" stop-color="#a6a6ff"/><stop offset=".966" stop-color="#bdbdff"/><stop offset="1" stop-color="#c7c7ff"/></linearGradient>
<linearGradient id="g277" x2="0" y2="1"><stop offset="0" stop-color="#e6e6ff"/><stop offset=".133" stop-color="#d9d9ff"/><stop offset=".281" stop-color="#bfbfff"/><stop offset=".43" stop-color="#a8a8ff"/><stop offset=".578" stop-color="#8f8fff"/><stop offset=".711" stop-color="#7070ff"/><stop offset=".756" stop-color="#3d3dff"/><stop offset=".797" stop-color="#4747ff"/><stop offset=".841" stop-color="#6868ff"/><stop offset=".886" stop-color="#8585ff"/><stop offset=".927" stop-color="#a6a6ff"/><stop offset=".966" stop-color="#bdbdff"/><stop offset="1" stop-color="#c7c7ff"/></linearGradient>
<linearGradient id="g278" x2="0" y2="1"><stop offset="0" stop-color="#e0e0ff"/><stop offset=".133" stop-color="#ccccff"/><stop offset=".281" stop-color="#a8a8ff"/><stop offset=".43" stop-color="#8585ff"/><stop offset=".578" stop-color="#6b6bff"/><stop offset=".711" stop-color="#6161ff"/><stop offset=".756" stop-color="#3d3dff"/><stop offset=".797" stop-color="#4747ff"/><stop offset=".841" stop-color="#6868ff"/><stop offset=".886" stop-color="#8585ff"/><stop offset=".927" stop-color="#a6a6ff"/><stop offset=".966" stop-color="#bdbdff"/><stop offset="1" stop-color="#c7c7ff"/></linearGradient>
<linearGradient id="g279" x2="0" y2="1"><stop offset="0" stop-color="#e6e6ff"/><stop offset=".133" stop-color="#d9d9ff"/><stop offset=".281" stop-color="#c2c2ff"/><stop offset=".43" stop-color="#adadff"/><stop offset=".578" stop-color="#9494ff"/><stop offset=".711" stop-color="#7373ff"/><stop offset=".756" stop-color="#3d3dff"/><stop offset=".797" stop-color="#4747ff"/><stop offset=".841" stop-color="#6868ff"/><stop offset=".886" stop-color="#8585ff"/><stop offset=".927" stop-color="#a6a6ff"/><stop offset=".966" stop-color="#bdbdff"/><stop offset="1" stop-color="#c7c7ff"/></linearGradient>
<clipPath id="cpd"><rect x="855.6" y="53" width="169.9" height="173.9"/></clipPath>
<filter id="bld" x="-5%" y="-5%" width="110%" height="110%"><feGaussianBlur stdDeviation="0.8"/></filter>
<linearGradient id="g280" x2="0" y2="1"><stop offset="0" stop-color="#0d0dff"/><stop offset=".205" stop-color="#4040ff"/><stop offset=".279" stop-color="#6666ff"/><stop offset=".354" stop-color="#8f8fff"/><stop offset=".428" stop-color="#c0c0ff"/><stop offset=".48" stop-color="#c0c0ff"/><stop offset=".495" stop-color="#ababff"/><stop offset=".695" stop-color="#ababff"/><stop offset=".733" stop-color="#b4b4ff"/><stop offset=".777" stop-color="#c3c3ff"/><stop offset=".822" stop-color="#d4d4ff"/><stop offset=".866" stop-color="#e4e4ff"/><stop offset=".911" stop-color="#f1f1ff"/><stop offset=".955" stop-color="#f5f5ff"/><stop offset="1" stop-color="#fafaff"/></linearGradient>
<linearGradient id="g281" x2="0" y2="1"><stop offset="0" stop-color="#0000ff"/><stop offset=".205" stop-color="#3333ff"/><stop offset=".279" stop-color="#5c5cff"/><stop offset=".354" stop-color="#8a8aff"/><stop offset=".428" stop-color="#b8b8ff"/><stop offset=".48" stop-color="#bcbcff"/><stop offset=".495" stop-color="#a7a7ff"/><stop offset=".502" stop-color="#7e7eff"/><stop offset=".52" stop-color="#a7a7ff"/><stop offset=".562" stop-color="#8585ff"/><stop offset=".606" stop-color="#8585ff"/><stop offset=".618" stop-color="#a7a7ff"/><stop offset=".695" stop-color="#a7a7ff"/><stop offset=".733" stop-color="#b0b0ff"/><stop offset=".777" stop-color="#c0c0ff"/><stop offset=".822" stop-color="#d1d1ff"/><stop offset=".866" stop-color="#e3e3ff"/><stop offset=".911" stop-color="#f0f0ff"/><stop offset=".955" stop-color="#f5f5ff"/><stop offset="1" stop-color="#fafaff"/></linearGradient>
<linearGradient id="g282" x2="0" y2="1"><stop offset="0" stop-color="#0000ff"/><stop offset=".205" stop-color="#3333ff"/><stop offset=".279" stop-color="#5c5cff"/><stop offset=".354" stop-color="#8787ff"/><stop offset=".428" stop-color="#b6b6ff"/><stop offset=".48" stop-color="#babaff"/><stop offset=".495" stop-color="#a7a7ff"/><stop offset=".695" stop-color="#a7a7ff"/><stop offset=".733" stop-color="#b0b0ff"/><stop offset=".777" stop-color="#c0c0ff"/><stop offset=".822" stop-color="#d1d1ff"/><stop offset=".866" stop-color="#e3e3ff"/><stop offset=".911" stop-color="#f0f0ff"/><stop offset=".955" stop-color="#f5f5ff"/><stop offset="1" stop-color="#fafaff"/></linearGradient>
<linearGradient id="g283" x2="0" y2="1"><stop offset="0" stop-color="#0d0dff"/><stop offset=".205" stop-color="#2626ff"/><stop offset=".279" stop-color="#5252ff"/><stop offset=".354" stop-color="#7a7aff"/><stop offset=".398" stop-color="#9f9fff"/><stop offset=".413" stop-color="#a7a7ff"/><stop offset=".695" stop-color="#a7a7ff"/><stop offset=".733" stop-color="#b0b0ff"/><stop offset=".777" stop-color="#c0c0ff"/><stop offset=".822" stop-color="#d1d1ff"/><stop offset=".866" stop-color="#e3e3ff"/><stop offset=".911" stop-color="#f0f0ff"/><stop offset=".955" stop-color="#f5f5ff"/><stop offset="1" stop-color="#fafaff"/></linearGradient>
<linearGradient id="g284" x2="0" y2="1"><stop offset="0" stop-color="#0000ff"/><stop offset=".205" stop-color="#2626ff"/><stop offset=".279" stop-color="#5252ff"/><stop offset=".354" stop-color="#7a7aff"/><stop offset=".398" stop-color="#9f9fff"/><stop offset=".413" stop-color="#a7a7ff"/><stop offset=".695" stop-color="#a7a7ff"/><stop offset=".733" stop-color="#b0b0ff"/><stop offset=".777" stop-color="#c0c0ff"/><stop offset=".822" stop-color="#d1d1ff"/><stop offset=".866" stop-color="#e3e3ff"/><stop offset=".911" stop-color="#f0f0ff"/><stop offset=".955" stop-color="#f5f5ff"/><stop offset="1" stop-color="#fafaff"/></linearGradient>
<linearGradient id="g285" x2="0" y2="1"><stop offset="0" stop-color="#0000ff"/><stop offset=".205" stop-color="#1919ff"/><stop offset=".279" stop-color="#4d4dff"/><stop offset=".354" stop-color="#7a7aff"/><stop offset=".428" stop-color="#b0b0ff"/><stop offset=".48" stop-color="#b6b6ff"/><stop offset=".495" stop-color="#a7a7ff"/><stop offset=".535" stop-color="#a7a7ff"/><stop offset=".541" stop-color="#7777ff"/><stop offset=".562" stop-color="#7777ff"/><stop offset=".568" stop-color="#a7a7ff"/><stop offset=".695" stop-color="#a7a7ff"/><stop offset=".733" stop-color="#b0b0ff"/><stop offset=".777" stop-color="#c0c0ff"/><stop offset=".822" stop-color="#d1d1ff"/><stop offset=".866" stop-color="#e3e3ff"/><stop offset=".911" stop-color="#f0f0ff"/><stop offset=".955" stop-color="#f5f5ff"/><stop offset="1" stop-color="#fafaff"/></linearGradient>
<linearGradient id="g286" x2="0" y2="1"><stop offset="0" stop-color="#0000ff"/><stop offset=".205" stop-color="#2626ff"/><stop offset=".279" stop-color="#5252ff"/><stop offset=".354" stop-color="#7a7aff"/><stop offset=".45" stop-color="#a7a7ff"/><stop offset=".465" stop-color="#a3a3ff"/><stop offset=".695" stop-color="#a7a7ff"/><stop offset=".733" stop-color="#b0b0ff"/><stop offset=".777" stop-color="#c0c0ff"/><stop offset=".822" stop-color="#d1d1ff"/><stop offset=".866" stop-color="#e3e3ff"/><stop offset=".911" stop-color="#f0f0ff"/><stop offset=".955" stop-color="#f5f5ff"/><stop offset="1" stop-color="#fafaff"/></linearGradient>
<linearGradient id="g287" x2="0" y2="1"><stop offset="0" stop-color="#0000ff"/><stop offset=".205" stop-color="#2626ff"/><stop offset=".279" stop-color="#4d4dff"/><stop offset=".354" stop-color="#7373ff"/><stop offset=".421" stop-color="#9f9fff"/><stop offset=".435" stop-color="#a7a7ff"/><stop offset=".695" stop-color="#a7a7ff"/><stop offset=".733" stop-color="#b0b0ff"/><stop offset=".777" stop-color="#c0c0ff"/><stop offset=".822" stop-color="#d1d1ff"/><stop offset=".866" stop-color="#e3e3ff"/><stop offset=".911" stop-color="#f0f0ff"/><stop offset=".955" stop-color="#f5f5ff"/><stop offset="1" stop-color="#fafaff"/></linearGradient>
<linearGradient id="g288" x2="0" y2="1"><stop offset="0" stop-color="#a1a1ff"/><stop offset=".009" stop-color="#a3a3ff"/><stop offset=".018" stop-color="#a4a4ff"/><stop offset=".027" stop-color="#a6a6ff"/><stop offset=".036" stop-color="#b1b1ff"/><stop offset=".045" stop-color="#b3b3ff"/><stop offset=".053" stop-color="#b4b4ff"/><stop offset=".062" stop-color="#b5b5ff"/><stop offset=".071" stop-color="#b6b6ff"/><stop offset=".08" stop-color="#b7b7ff"/><stop offset=".089" stop-color="#b7b7ff"/><stop offset=".098" stop-color="#b8b8ff"/><stop offset=".107" stop-color="#b9b9ff"/><stop offset=".116" stop-color="#babaff"/><stop offset=".125" stop-color="#bbbbff"/><stop offset=".134" stop-color="#bcbcff"/><stop offset=".143" stop-color="#bdbdff"/><stop offset=".152" stop-color="#bebeff"/><stop offset=".16" stop-color="#bebeff"/><stop offset=".169" stop-color="#bfbfff"/><stop offset=".178" stop-color="#c0c0ff"/><stop offset=".187" stop-color="#c1c1ff"/><stop offset=".196" stop-color="#c2c2ff"/><stop offset=".205" stop-color="#c2c2ff"/><stop offset=".214" stop-color="#c3c3ff"/><stop offset=".223" stop-color="#c4c4ff"/><stop offset=".232" stop-color="#c5c5ff"/><stop offset=".241" stop-color="#c5c5ff"/><stop offset=".25" stop-color="#c6c6ff"/><stop offset=".259" stop-color="#c7c7ff"/><stop offset=".267" stop-color="#c8c8ff"/><stop offset=".276" stop-color="#c8c8ff"/><stop offset=".285" stop-color="#c9c9ff"/><stop offset=".294" stop-color="#cacaff"/><stop offset=".303" stop-color="#cbcbff"/><stop offset=".312" stop-color="#cbcbff"/><stop offset=".321" stop-color="#ccccff"/><stop offset=".33" stop-color="#cdcdff"/><stop offset=".339" stop-color="#cdcdff"/><stop offset=".348" stop-color="#ceceff"/><stop offset=".374" stop-color="#ceceff"/><stop offset=".383" stop-color="#d1d1ff"/><stop offset=".473" stop-color="#d1d1ff"/><stop offset=".481" stop-color="#e2e2ff"/><stop offset=".499" stop-color="#e2e2ff"/><stop offset=".508" stop-color="#bcbcff"/><stop offset=".517" stop-color="#a7a7ff"/><stop offset=".695" stop-color="#a7a7ff"/><stop offset=".733" stop-color="#b0b0ff"/><stop offset=".777" stop-color="#c0c0ff"/><stop offset=".822" stop-color="#d1d1ff"/><stop offset=".866" stop-color="#e3e3ff"/><stop offset=".911" stop-color="#f0f0ff"/><stop offset=".955" stop-color="#f5f5ff"/><stop offset="1" stop-color="#fafaff"/></linearGradient>
<linearGradient id="g289" x2="0" y2="1"><stop offset="0" stop-color="#8787ff"/><stop offset=".009" stop-color="#8989ff"/><stop offset=".018" stop-color="#8b8bff"/><stop offset=".027" stop-color="#8c8cff"/><stop offset=".036" stop-color="#9b9bff"/><stop offset=".045" stop-color="#9c9cff"/><stop offset=".053" stop-color="#9d9dff"/><stop offset=".062" stop-color="#9e9eff"/><stop offset=".071" stop-color="#9f9fff"/><stop offset=".08" stop-color="#9f9fff"/><stop offset=".089" stop-color="#a0a0ff"/><stop offset=".098" stop-color="#a1a1ff"/><stop offset=".107" stop-color="#a2a2ff"/><stop offset=".116" stop-color="#a3a3ff"/><stop offset=".125" stop-color="#a4a4ff"/><stop offset=".134" stop-color="#a4a4ff"/><stop offset=".143" stop-color="#a5a5ff"/><stop offset=".152" stop-color="#a6a6ff"/><stop offset=".16" stop-color="#a7a7ff"/><stop offset=".169" stop-color="#a7a7ff"/><stop offset=".178" stop-color="#a8a8ff"/><stop offset=".187" stop-color="#a9a9ff"/><stop offset=".196" stop-color="#aaaaff"/><stop offset=".205" stop-color="#aaaaff"/><stop offset=".214" stop-color="#ababff"/><stop offset=".223" stop-color="#acacff"/><stop offset=".232" stop-color="#adadff"/><stop offset=".241" stop-color="#adadff"/><stop offset=".25" stop-color="#aeaeff"/><stop offset=".259" stop-color="#afafff"/><stop offset=".267" stop-color="#afafff"/><stop offset=".276" stop-color="#b0b0ff"/><stop offset=".285" stop-color="#b1b1ff"/><stop offset=".294" stop-color="#b1b1ff"/><stop offset=".303" stop-color="#b2b2ff"/><stop offset=".312" stop-color="#b3b3ff"/><stop offset=".321" stop-color="#b3b3ff"/><stop offset=".33" stop-color="#b4b4ff"/><stop offset=".339" stop-color="#b5b5ff"/><stop offset=".374" stop-color="#b5b5ff"/><stop offset=".383" stop-color="#babaff"/><stop offset=".392" stop-color="#a1a1ff"/><stop offset=".41" stop-color="#a1a1ff"/><stop offset=".419" stop-color="#babaff"/><stop offset=".49" stop-color="#babaff"/><stop offset=".499" stop-color="#aeaeff"/><stop offset=".508" stop-color="#9696ff"/><stop offset=".517" stop-color="#8585ff"/><stop offset=".695" stop-color="#8585ff"/><stop offset=".733" stop-color="#9191ff"/><stop offset=".777" stop-color="#a7a7ff"/><stop offset=".822" stop-color="#c0c0ff"/><stop offset=".866" stop-color="#d8d8ff"/><stop offset=".911" stop-color="#eaeaff"/><stop offset=".955" stop-color="#f5f5ff"/><stop offset="1" stop-color="#fafaff"/></linearGradient>
<linearGradient id="g290" x2="0" y2="1"><stop offset="0" stop-color="#8c8cff"/><stop offset=".009" stop-color="#9090ff"/><stop offset=".018" stop-color="#9393ff"/><stop offset=".027" stop-color="#9595ff"/><stop offset=".036" stop-color="#a4a4ff"/><stop offset=".045" stop-color="#a6a6ff"/><stop offset=".053" stop-color="#a8a8ff"/><stop offset=".062" stop-color="#aaaaff"/><stop offset=".071" stop-color="#ababff"/><stop offset=".08" stop-color="#adadff"/><stop offset=".089" stop-color="#afafff"/><stop offset=".098" stop-color="#b0b0ff"/><stop offset=".107" stop-color="#b2b2ff"/><stop offset=".116" stop-color="#b4b4ff"/><stop offset=".125" stop-color="#b5b5ff"/><stop offset=".134" stop-color="#b7b7ff"/><stop offset=".143" stop-color="#b8b8ff"/><stop offset=".152" stop-color="#babaff"/><stop offset=".16" stop-color="#bbbbff"/><stop offset=".169" stop-color="#bdbdff"/><stop offset=".178" stop-color="#bebeff"/><stop offset=".187" stop-color="#bfbfff"/><stop offset=".196" stop-color="#c1c1ff"/><stop offset=".205" stop-color="#c2c2ff"/><stop offset=".214" stop-color="#c4c4ff"/><stop offset=".223" stop-color="#c5c5ff"/><stop offset=".232" stop-color="#c6c6ff"/><stop offset=".241" stop-color="#c8c8ff"/><stop offset=".25" stop-color="#c9c9ff"/><stop offset=".259" stop-color="#cacaff"/><stop offset=".267" stop-color="#ccccff"/><stop offset=".276" stop-color="#cdcdff"/><stop offset=".285" stop-color="#ceceff"/><stop offset=".294" stop-color="#d0d0ff"/><stop offset=".303" stop-color="#d1d1ff"/><stop offset=".312" stop-color="#d2d2ff"/><stop offset=".321" stop-color="#d4d4ff"/><stop offset=".33" stop-color="#d5d5ff"/><stop offset=".339" stop-color="#d6d6ff"/><stop offset=".348" stop-color="#d7d7ff"/><stop offset=".374" stop-color="#d7d7ff"/><stop offset=".383" stop-color="#d9d9ff"/><stop offset=".535" stop-color="#d9d9ff"/><stop offset=".544" stop-color="#c4c4ff"/><stop offset=".553" stop-color="#9999ff"/><stop offset=".562" stop-color="#8585ff"/><stop offset=".695" stop-color="#8585ff"/><stop offset=".733" stop-color="#9191ff"/><stop offset=".777" stop-color="#a7a7ff"/><stop offset=".822" stop-color="#c0c0ff"/><stop offset=".866" stop-color="#d8d8ff"/><stop offset=".911" stop-color="#eaeaff"/><stop offset=".955" stop-color="#f5f5ff"/><stop offset="1" stop-color="#fafaff"/></linearGradient>
<linearGradient id="g291" x2="0" y2="1"><stop offset="0" stop-color="#9696ff"/><stop offset=".009" stop-color="#9999ff"/><stop offset=".018" stop-color="#9b9bff"/><stop offset=".027" stop-color="#9d9dff"/><stop offset=".036" stop-color="#ababff"/><stop offset=".045" stop-color="#acacff"/><stop offset=".053" stop-color="#aeaeff"/><stop offset=".062" stop-color="#afafff"/><stop offset=".071" stop-color="#b0b0ff"/><stop offset=".08" stop-color="#b2b2ff"/><stop offset=".089" stop-color="#b3b3ff"/><stop offset=".098" stop-color="#b4b4ff"/><stop offset=".107" stop-color="#b6b6ff"/><stop offset=".116" stop-color="#b7b7ff"/><stop offset=".125" stop-color="#b8b8ff"/><stop offset=".134" stop-color="#b9b9ff"/><stop offset=".143" stop-color="#babaff"/><stop offset=".152" stop-color="#bcbcff"/><stop offset=".16" stop-color="#bdbdff"/><stop offset=".169" stop-color="#bebeff"/><stop offset=".178" stop-color="#bfbfff"/><stop offset=".187" stop-color="#c0c0ff"/><stop offset=".196" stop-color="#c1c1ff"/><stop offset=".205" stop-color="#c2c2ff"/><stop offset=".214" stop-color="#c3c3ff"/><stop offset=".223" stop-color="#c4c4ff"/><stop offset=".232" stop-color="#c6c6ff"/><stop offset=".241" stop-color="#c7c7ff"/><stop offset=".25" stop-color="#c8c8ff"/><stop offset=".259" stop-color="#c9c9ff"/><stop offset=".267" stop-color="#cacaff"/><stop offset=".276" stop-color="#cbcbff"/><stop offset=".285" stop-color="#ccccff"/><stop offset=".294" stop-color="#cdcdff"/><stop offset=".303" stop-color="#ceceff"/><stop offset=".312" stop-color="#cfcfff"/><stop offset=".321" stop-color="#d0d0ff"/><stop offset=".33" stop-color="#d1d1ff"/><stop offset=".339" stop-color="#d2d2ff"/><stop offset=".374" stop-color="#d2d2ff"/><stop offset=".383" stop-color="#d5d5ff"/><stop offset=".508" stop-color="#d5d5ff"/><stop offset=".517" stop-color="#c2c2ff"/><stop offset=".526" stop-color="#5f5fff"/><stop offset=".562" stop-color="#5f5fff"/><stop offset=".571" stop-color="#9696ff"/><stop offset=".695" stop-color="#9696ff"/><stop offset=".733" stop-color="#a1a1ff"/><stop offset=".777" stop-color="#b4b4ff"/><stop offset=".822" stop-color="#c9c9ff"/><stop offset=".866" stop-color="#dedeff"/><stop offset=".911" stop-color="#ededff"/><stop offset=".955" stop-color="#f5f5ff"/><stop offset="1" stop-color="#fafaff"/></linearGradient>
<linearGradient id="g292" x2="0" y2="1"><stop offset="0" stop-color="#9e9eff"/><stop offset=".027" stop-color="#9e9eff"/><stop offset=".036" stop-color="#aaaaff"/><stop offset=".196" stop-color="#aaaaff"/><stop offset=".205" stop-color="#d2d2ff"/><stop offset=".214" stop-color="#d4d4ff"/><stop offset=".223" stop-color="#d7d7ff"/><stop offset=".232" stop-color="#d9d9ff"/><stop offset=".241" stop-color="#dbdbff"/><stop offset=".25" stop-color="#ddddff"/><stop offset=".259" stop-color="#e0e0ff"/><stop offset=".267" stop-color="#e2e2ff"/><stop offset=".276" stop-color="#e4e4ff"/><stop offset=".285" stop-color="#e6e6ff"/><stop offset=".294" stop-color="#e8e8ff"/><stop offset=".303" stop-color="#ebebff"/><stop offset=".312" stop-color="#ededff"/><stop offset=".321" stop-color="#efefff"/><stop offset=".33" stop-color="#f1f1ff"/><stop offset=".339" stop-color="#f3f3ff"/><stop offset=".348" stop-color="#f4f4ff"/><stop offset=".374" stop-color="#f4f4ff"/><stop offset=".383" stop-color="#f5f5ff"/><stop offset=".473" stop-color="#f5f5ff"/><stop offset=".481" stop-color="#eeeeff"/><stop offset=".49" stop-color="#cacaff"/><stop offset=".499" stop-color="#b8b8ff"/><stop offset=".695" stop-color="#b8b8ff"/><stop offset=".733" stop-color="#bfbfff"/><stop offset=".777" stop-color="#ccccff"/><stop offset=".822" stop-color="#dadaff"/><stop offset=".866" stop-color="#e8e8ff"/><stop offset=".911" stop-color="#f3f3ff"/><stop offset=".955" stop-color="#f5f5ff"/><stop offset="1" stop-color="#fafaff"/></linearGradient>
<linearGradient id="g293" x2="0" y2="1"><stop offset="0" stop-color="#9c9cff"/><stop offset=".009" stop-color="#9f9fff"/><stop offset=".018" stop-color="#a1a1ff"/><stop offset=".027" stop-color="#a3a3ff"/><stop offset=".036" stop-color="#b0b0ff"/><stop offset=".045" stop-color="#b2b2ff"/><stop offset=".053" stop-color="#b3b3ff"/><stop offset=".062" stop-color="#b5b5ff"/><stop offset=".071" stop-color="#b6b6ff"/><stop offset=".08" stop-color="#b8b8ff"/><stop offset=".089" stop-color="#b9b9ff"/><stop offset=".098" stop-color="#babaff"/><stop offset=".107" stop-color="#bcbcff"/><stop offset=".116" stop-color="#bdbdff"/><stop offset=".125" stop-color="#bfbfff"/><stop offset=".134" stop-color="#c0c0ff"/><stop offset=".143" stop-color="#c1c1ff"/><stop offset=".152" stop-color="#c2c2ff"/><stop offset=".16" stop-color="#c4c4ff"/><stop offset=".169" stop-color="#c5c5ff"/><stop offset=".178" stop-color="#c6c6ff"/><stop offset=".187" stop-color="#c7c7ff"/><stop offset=".196" stop-color="#c9c9ff"/><stop offset=".205" stop-color="#cacaff"/><stop offset=".214" stop-color="#cbcbff"/><stop offset=".223" stop-color="#ccccff"/><stop offset=".232" stop-color="#cdcdff"/><stop offset=".241" stop-color="#ceceff"/><stop offset=".25" stop-color="#d0d0ff"/><stop offset=".259" stop-color="#d1d1ff"/><stop offset=".267" stop-color="#d2d2ff"/><stop offset=".276" stop-color="#d3d3ff"/><stop offset=".285" stop-color="#d4d4ff"/><stop offset=".294" stop-color="#d5d5ff"/><stop offset=".303" stop-color="#d6d6ff"/><stop offset=".312" stop-color="#d7d7ff"/><stop offset=".321" stop-color="#d9d9ff"/><stop offset=".33" stop-color="#dadaff"/><stop offset=".339" stop-color="#dbdbff"/><stop offset=".374" stop-color="#dbdbff"/><stop offset=".383" stop-color="#dedeff"/><stop offset=".437" stop-color="#dedeff"/><stop offset=".446" stop-color="#5b5bff"/><stop offset=".464" stop-color="#5b5bff"/><stop offset=".473" stop-color="#dedeff"/><stop offset=".481" stop-color="#dedeff"/><stop offset=".49" stop-color="#4343ff"/><stop offset=".508" stop-color="#4343ff"/><stop offset=".517" stop-color="#9a9aff"/><stop offset=".526" stop-color="#8585ff"/><stop offset=".695" stop-color="#8585ff"/><stop offset=".733" stop-color="#9191ff"/><stop offset=".777" stop-color="#a7a7ff"/><stop offset=".822" stop-color="#c0c0ff"/><stop offset=".866" stop-color="#d8d8ff"/><stop offset=".911" stop-color="#eaeaff"/><stop offset=".955" stop-color="#f5f5ff"/><stop offset="1" stop-color="#fafaff"/></linearGradient>
<linearGradient id="g294" x2="0" y2="1"><stop offset="0" stop-color="#8080ff"/><stop offset=".009" stop-color="#8484ff"/><stop offset=".018" stop-color="#8888ff"/><stop offset=".027" stop-color="#8b8bff"/><stop offset=".036" stop-color="#9b9bff"/><stop offset=".045" stop-color="#9e9eff"/><stop offset=".053" stop-color="#a0a0ff"/><stop offset=".062" stop-color="#a2a2ff"/><stop offset=".071" stop-color="#a5a5ff"/><stop offset=".08" stop-color="#a7a7ff"/><stop offset=".089" stop-color="#a9a9ff"/><stop offset=".098" stop-color="#ababff"/><stop offset=".107" stop-color="#adadff"/><stop offset=".116" stop-color="#afafff"/><stop offset=".125" stop-color="#b1b1ff"/><stop offset=".134" stop-color="#b3b3ff"/><stop offset=".143" stop-color="#b5b5ff"/><stop offset=".152" stop-color="#b7b7ff"/><stop offset=".16" stop-color="#b8b8ff"/><stop offset=".169" stop-color="#babaff"/><stop offset=".178" stop-color="#bcbcff"/><stop offset=".187" stop-color="#bebeff"/><stop offset=".196" stop-color="#c0c0ff"/><stop offset=".205" stop-color="#c2c2ff"/><stop offset=".214" stop-color="#c3c3ff"/><stop offset=".223" stop-color="#c5c5ff"/><stop offset=".232" stop-color="#c7c7ff"/><stop offset=".241" stop-color="#c8c8ff"/><stop offset=".25" stop-color="#cacaff"/><stop offset=".259" stop-color="#ccccff"/><stop offset=".267" stop-color="#ceceff"/><stop offset=".276" stop-color="#cfcfff"/><stop offset=".285" stop-color="#d1d1ff"/><stop offset=".294" stop-color="#d2d2ff"/><stop offset=".303" stop-color="#d4d4ff"/><stop offset=".312" stop-color="#d6d6ff"/><stop offset=".321" stop-color="#d7d7ff"/><stop offset=".33" stop-color="#d9d9ff"/><stop offset=".339" stop-color="#dbdbff"/><stop offset=".374" stop-color="#dbdbff"/><stop offset=".383" stop-color="#dedeff"/><stop offset=".464" stop-color="#dedeff"/><stop offset=".473" stop-color="#bfbfff"/><stop offset=".481" stop-color="#a1a1ff"/><stop offset=".695" stop-color="#a1a1ff"/><stop offset=".733" stop-color="#aaaaff"/><stop offset=".777" stop-color="#bbbbff"/><stop offset=".822" stop-color="#ceceff"/><stop offset=".866" stop-color="#e1e1ff"/><stop offset=".911" stop-color="#efefff"/><stop offset=".955" stop-color="#f5f5ff"/><stop offset="1" stop-color="#fafaff"/></linearGradient>
<linearGradient id="g295" x2="0" y2="1"><stop offset="0" stop-color="#8787ff"/><stop offset=".009" stop-color="#8b8bff"/><stop offset=".018" stop-color="#8e8eff"/><stop offset=".027" stop-color="#9191ff"/><stop offset=".036" stop-color="#a0a0ff"/><stop offset=".045" stop-color="#a2a2ff"/><stop offset=".053" stop-color="#a4a4ff"/><stop offset=".062" stop-color="#a6a6ff"/><stop offset=".071" stop-color="#a8a8ff"/><stop offset=".08" stop-color="#aaaaff"/><stop offset=".089" stop-color="#acacff"/><stop offset=".098" stop-color="#aeaeff"/><stop offset=".107" stop-color="#afafff"/><stop offset=".116" stop-color="#b1b1ff"/><stop offset=".125" stop-color="#b3b3ff"/><stop offset=".134" stop-color="#b4b4ff"/><stop offset=".143" stop-color="#b6b6ff"/><stop offset=".152" stop-color="#b7b7ff"/><stop offset=".16" stop-color="#b9b9ff"/><stop offset=".169" stop-color="#bbbbff"/><stop offset=".178" stop-color="#bcbcff"/><stop offset=".187" stop-color="#bebeff"/><stop offset=".196" stop-color="#bfbfff"/><stop offset=".205" stop-color="#c1c1ff"/><stop offset=".214" stop-color="#c2c2ff"/><stop offset=".223" stop-color="#c4c4ff"/><stop offset=".232" stop-color="#c5c5ff"/><stop offset=".241" stop-color="#c7c7ff"/><stop offset=".25" stop-color="#c8c8ff"/><stop offset=".259" stop-color="#cacaff"/><stop offset=".267" stop-color="#cbcbff"/><stop offset=".276" stop-color="#ccccff"/><stop offset=".285" stop-color="#ceceff"/><stop offset=".294" stop-color="#cfcfff"/><stop offset=".303" stop-color="#d1d1ff"/><stop offset=".312" stop-color="#d2d2ff"/><stop offset=".321" stop-color="#d3d3ff"/><stop offset=".33" stop-color="#d5d5ff"/><stop offset=".339" stop-color="#d6d6ff"/><stop offset=".348" stop-color="#d7d7ff"/><stop offset=".374" stop-color="#d7d7ff"/><stop offset=".383" stop-color="#d9d9ff"/><stop offset=".446" stop-color="#d9d9ff"/><stop offset=".455" stop-color="#c7c7ff"/><stop offset=".464" stop-color="#a1a1ff"/><stop offset=".473" stop-color="#9b9bff"/><stop offset=".695" stop-color="#9b9bff"/><stop offset=".733" stop-color="#a5a5ff"/><stop offset=".777" stop-color="#b7b7ff"/><stop offset=".822" stop-color="#cbcbff"/><stop offset=".866" stop-color="#dfdfff"/><stop offset=".911" stop-color="#eeeeff"/><stop offset=".955" stop-color="#f5f5ff"/><stop offset="1" stop-color="#fafaff"/></linearGradient>
<linearGradient id="g296" x2="0" y2="1"><stop offset="0" stop-color="#7878ff"/><stop offset=".009" stop-color="#7e7eff"/><stop offset=".018" stop-color="#8282ff"/><stop offset=".027" stop-color="#8686ff"/><stop offset=".036" stop-color="#9898ff"/><stop offset=".045" stop-color="#9b9bff"/><stop offset=".053" stop-color="#9e9eff"/><stop offset=".062" stop-color="#a1a1ff"/><stop offset=".071" stop-color="#a4a4ff"/><stop offset=".08" stop-color="#a6a6ff"/><stop offset=".089" stop-color="#a9a9ff"/><stop offset=".098" stop-color="#acacff"/><stop offset=".107" stop-color="#aeaeff"/><stop offset=".116" stop-color="#b1b1ff"/><stop offset=".125" stop-color="#b3b3ff"/><stop offset=".134" stop-color="#b6b6ff"/><stop offset=".143" stop-color="#b8b8ff"/><stop offset=".152" stop-color="#babaff"/><stop offset=".16" stop-color="#bdbdff"/><stop offset=".169" stop-color="#bfbfff"/><stop offset=".178" stop-color="#c1c1ff"/><stop offset=".187" stop-color="#c4c4ff"/><stop offset=".196" stop-color="#c6c6ff"/><stop offset=".205" stop-color="#c8c8ff"/><stop offset=".214" stop-color="#cacaff"/><stop offset=".223" stop-color="#cdcdff"/><stop offset=".232" stop-color="#cfcfff"/><stop offset=".241" stop-color="#d1d1ff"/><stop offset=".25" stop-color="#d3d3ff"/><stop offset=".259" stop-color="#d5d5ff"/><stop offset=".267" stop-color="#d7d7ff"/><stop offset=".276" stop-color="#d9d9ff"/><stop offset=".285" stop-color="#dcdcff"/><stop offset=".294" stop-color="#dedeff"/><stop offset=".303" stop-color="#e0e0ff"/><stop offset=".312" stop-color="#e2e2ff"/><stop offset=".321" stop-color="#e4e4ff"/><stop offset=".33" stop-color="#e6e6ff"/><stop offset=".339" stop-color="#e8e8ff"/><stop offset=".348" stop-color="#e9e9ff"/><stop offset=".374" stop-color="#e9e9ff"/><stop offset=".383" stop-color="#eaeaff"/><stop offset=".597" stop-color="#eaeaff"/><stop offset=".606" stop-color="#cbcbff"/><stop offset=".615" stop-color="#ababff"/><stop offset=".695" stop-color="#ababff"/><stop offset=".733" stop-color="#b4b4ff"/><stop offset=".777" stop-color="#c3c3ff"/><stop offset=".822" stop-color="#d4d4ff"/><stop offset=".866" stop-color="#e4e4ff"/><stop offset=".911" stop-color="#f1f1ff"/><stop offset=".955" stop-color="#f5f5ff"/><stop offset="1" stop-color="#fafaff"/></linearGradient>
<linearGradient id="g297" x2="0" y2="1"><stop offset="0" stop-color="#8787ff"/><stop offset=".009" stop-color="#8b8bff"/><stop offset=".018" stop-color="#8e8eff"/><stop offset=".027" stop-color="#9191ff"/><stop offset=".036" stop-color="#a0a0ff"/><stop offset=".045" stop-color="#a2a2ff"/><stop offset=".053" stop-color="#a4a4ff"/><stop offset=".062" stop-color="#a6a6ff"/><stop offset=".071" stop-color="#a8a8ff"/><stop offset=".08" stop-color="#aaaaff"/><stop offset=".089" stop-color="#acacff"/><stop offset=".098" stop-color="#aeaeff"/><stop offset=".107" stop-color="#afafff"/><stop offset=".116" stop-color="#b1b1ff"/><stop offset=".125" stop-color="#b3b3ff"/><stop offset=".134" stop-color="#b4b4ff"/><stop offset=".143" stop-color="#b6b6ff"/><stop offset=".152" stop-color="#b7b7ff"/><stop offset=".16" stop-color="#b9b9ff"/><stop offset=".169" stop-color="#bbbbff"/><stop offset=".178" stop-color="#bcbcff"/><stop offset=".187" stop-color="#bebeff"/><stop offset=".196" stop-color="#bfbfff"/><stop offset=".205" stop-color="#c1c1ff"/><stop offset=".214" stop-color="#c2c2ff"/><stop offset=".223" stop-color="#c4c4ff"/><stop offset=".232" stop-color="#c5c5ff"/><stop offset=".241" stop-color="#c7c7ff"/><stop offset=".25" stop-color="#c8c8ff"/><stop offset=".259" stop-color="#cacaff"/><stop offset=".267" stop-color="#cbcbff"/><stop offset=".276" stop-color="#ccccff"/><stop offset=".285" stop-color="#ceceff"/><stop offset=".294" stop-color="#cfcfff"/><stop offset=".303" stop-color="#d1d1ff"/><stop offset=".312" stop-color="#d2d2ff"/><stop offset=".321" stop-color="#d3d3ff"/><stop offset=".33" stop-color="#d5d5ff"/><stop offset=".339" stop-color="#d6d6ff"/><stop offset=".348" stop-color="#d7d7ff"/><stop offset=".374" stop-color="#d7d7ff"/><stop offset=".383" stop-color="#d9d9ff"/><stop offset=".535" stop-color="#d9d9ff"/><stop offset=".544" stop-color="#c9c9ff"/><stop offset=".553" stop-color="#9696ff"/><stop offset=".624" stop-color="#9696ff"/><stop offset=".633" stop-color="#a3a3ff"/><stop offset=".695" stop-color="#a3a3ff"/><stop offset=".733" stop-color="#acacff"/><stop offset=".777" stop-color="#bdbdff"/><stop offset=".822" stop-color="#cfcfff"/><stop offset=".866" stop-color="#e2e2ff"/><stop offset=".911" stop-color="#efefff"/><stop offset=".955" stop-color="#f5f5ff"/><stop offset="1" stop-color="#fafaff"/></linearGradient>
<linearGradient id="g298" x2="0" y2="1"><stop offset="0" stop-color="#6666ff"/><stop offset=".009" stop-color="#6e6eff"/><stop offset=".018" stop-color="#7474ff"/><stop offset=".027" stop-color="#7979ff"/><stop offset=".036" stop-color="#8d8dff"/><stop offset=".045" stop-color="#9191ff"/><stop offset=".053" stop-color="#9595ff"/><stop offset=".062" stop-color="#9999ff"/><stop offset=".071" stop-color="#9d9dff"/><stop offset=".08" stop-color="#a0a0ff"/><stop offset=".089" stop-color="#a4a4ff"/><stop offset=".098" stop-color="#a7a7ff"/><stop offset=".107" stop-color="#ababff"/><stop offset=".116" stop-color="#aeaeff"/><stop offset=".125" stop-color="#b1b1ff"/><stop offset=".134" stop-color="#b5b5ff"/><stop offset=".143" stop-color="#b8b8ff"/><stop offset=".152" stop-color="#bbbbff"/><stop offset=".16" stop-color="#bebeff"/><stop offset=".169" stop-color="#c1c1ff"/><stop offset=".178" stop-color="#c4c4ff"/><stop offset=".187" stop-color="#c7c7ff"/><stop offset=".196" stop-color="#cacaff"/><stop offset=".205" stop-color="#cdcdff"/><stop offset=".214" stop-color="#d0d0ff"/><stop offset=".223" stop-color="#d3d3ff"/><stop offset=".232" stop-color="#d6d6ff"/><stop offset=".241" stop-color="#d9d9ff"/><stop offset=".25" stop-color="#dcdcff"/><stop offset=".259" stop-color="#dfdfff"/><stop offset=".267" stop-color="#e1e1ff"/><stop offset=".276" stop-color="#e4e4ff"/><stop offset=".285" stop-color="#e7e7ff"/><stop offset=".294" stop-color="#eaeaff"/><stop offset=".303" stop-color="#ededff"/><stop offset=".312" stop-color="#efefff"/><stop offset=".321" stop-color="#f2f2ff"/><stop offset=".33" stop-color="#f5f5ff"/><stop offset=".339" stop-color="#f7f7ff"/><stop offset=".348" stop-color="#f8f8ff"/><stop offset=".374" stop-color="#f8f8ff"/><stop offset=".383" stop-color="#f9f9ff"/><stop offset=".669" stop-color="#f9f9ff"/><stop offset=".678" stop-color="#e5e5ff"/><stop offset=".686" stop-color="#bdbdff"/><stop offset=".695" stop-color="#b6b6ff"/><stop offset=".733" stop-color="#bdbdff"/><stop offset=".777" stop-color="#cacaff"/><stop offset=".822" stop-color="#d9d9ff"/><stop offset=".866" stop-color="#e8e8ff"/><stop offset=".911" stop-color="#f3f3ff"/><stop offset=".955" stop-color="#f5f5ff"/><stop offset="1" stop-color="#fafaff"/></linearGradient>
<linearGradient id="g299" x2="0" y2="1"><stop offset="0" stop-color="#7878ff"/><stop offset=".009" stop-color="#7c7cff"/><stop offset=".018" stop-color="#7e7eff"/><stop offset=".027" stop-color="#8181ff"/><stop offset=".036" stop-color="#9292ff"/><stop offset=".045" stop-color="#9494ff"/><stop offset=".053" stop-color="#9696ff"/><stop offset=".062" stop-color="#9898ff"/><stop offset=".071" stop-color="#9999ff"/><stop offset=".08" stop-color="#9b9bff"/><stop offset=".089" stop-color="#9d9dff"/><stop offset=".098" stop-color="#9e9eff"/><stop offset=".107" stop-color="#a0a0ff"/><stop offset=".116" stop-color="#a2a2ff"/><stop offset=".125" stop-color="#a3a3ff"/><stop offset=".134" stop-color="#a5a5ff"/><stop offset=".143" stop-color="#a6a6ff"/><stop offset=".152" stop-color="#a8a8ff"/><stop offset=".16" stop-color="#a9a9ff"/><stop offset=".169" stop-color="#ababff"/><stop offset=".178" stop-color="#acacff"/><stop offset=".187" stop-color="#aeaeff"/><stop offset=".196" stop-color="#afafff"/><stop offset=".205" stop-color="#b0b0ff"/><stop offset=".214" stop-color="#b2b2ff"/><stop offset=".223" stop-color="#b3b3ff"/><stop offset=".232" stop-color="#b4b4ff"/><stop offset=".241" stop-color="#b6b6ff"/><stop offset=".25" stop-color="#b7b7ff"/><stop offset=".259" stop-color="#b9b9ff"/><stop offset=".267" stop-color="#babaff"/><stop offset=".276" stop-color="#bbbbff"/><stop offset=".285" stop-color="#bdbdff"/><stop offset=".294" stop-color="#bebeff"/><stop offset=".303" stop-color="#bfbfff"/><stop offset=".312" stop-color="#c0c0ff"/><stop offset=".321" stop-color="#c2c2ff"/><stop offset=".33" stop-color="#c3c3ff"/><stop offset=".339" stop-color="#c4c4ff"/><stop offset=".348" stop-color="#c5c5ff"/><stop offset=".374" stop-color="#c5c5ff"/><stop offset=".383" stop-color="#c9c9ff"/><stop offset=".437" stop-color="#c9c9ff"/><stop offset=".446" stop-color="#bbbbff"/><stop offset=".455" stop-color="#9f9fff"/><stop offset=".464" stop-color="#9b9bff"/><stop offset=".695" stop-color="#9b9bff"/><stop offset=".733" stop-color="#a5a5ff"/><stop offset=".777" stop-color="#b7b7ff"/><stop offset=".822" stop-color="#cbcbff"/><stop offset=".866" stop-color="#dfdfff"/><stop offset=".911" stop-color="#eeeeff"/><stop offset=".955" stop-color="#f5f5ff"/><stop offset="1" stop-color="#fafaff"/></linearGradient>
<linearGradient id="g300" x2="0" y2="1"><stop offset="0" stop-color="#7373ff"/><stop offset=".009" stop-color="#7a7aff"/><stop offset=".018" stop-color="#7f7fff"/><stop offset=".027" stop-color="#8484ff"/><stop offset=".036" stop-color="#9696ff"/><stop offset=".045" stop-color="#9a9aff"/><stop offset=".053" stop-color="#9e9eff"/><stop offset=".062" stop-color="#a1a1ff"/><stop offset=".071" stop-color="#a4a4ff"/><stop offset=".08" stop-color="#a7a7ff"/><stop offset=".089" stop-color="#ababff"/><stop offset=".098" stop-color="#aeaeff"/><stop offset=".107" stop-color="#b1b1ff"/><stop offset=".116" stop-color="#b4b4ff"/><stop offset=".125" stop-color="#b7b7ff"/><stop offset=".134" stop-color="#babaff"/><stop offset=".143" stop-color="#bcbcff"/><stop offset=".152" stop-color="#bfbfff"/><stop offset=".16" stop-color="#c2c2ff"/><stop offset=".169" stop-color="#c5c5ff"/><stop offset=".178" stop-color="#c8c8ff"/><stop offset=".187" stop-color="#cacaff"/><stop offset=".196" stop-color="#cdcdff"/><stop offset=".205" stop-color="#d0d0ff"/><stop offset=".214" stop-color="#d2d2ff"/><stop offset=".223" stop-color="#d5d5ff"/><stop offset=".232" stop-color="#d7d7ff"/><stop offset=".241" stop-color="#dadaff"/><stop offset=".25" stop-color="#ddddff"/><stop offset=".259" stop-color="#dfdfff"/><stop offset=".267" stop-color="#e2e2ff"/><stop offset=".276" stop-color="#e4e4ff"/><stop offset=".285" stop-color="#e7e7ff"/><stop offset=".294" stop-color="#e9e9ff"/><stop offset=".303" stop-color="#ececff"/><stop offset=".312" stop-color="#eeeeff"/><stop offset=".321" stop-color="#f0f0ff"/><stop offset=".33" stop-color="#f3f3ff"/><stop offset=".339" stop-color="#f5f5ff"/><stop offset=".348" stop-color="#f6f6ff"/><stop offset=".374" stop-color="#f6f6ff"/><stop offset=".383" stop-color="#f7f7ff"/><stop offset=".669" stop-color="#f7f7ff"/><stop offset=".678" stop-color="#e3e3ff"/><stop offset=".686" stop-color="#bcbcff"/><stop offset=".695" stop-color="#b6b6ff"/><stop offset=".733" stop-color="#bdbdff"/><stop offset=".777" stop-color="#cacaff"/><stop offset=".822" stop-color="#d9d9ff"/><stop offset=".866" stop-color="#e8e8ff"/><stop offset=".911" stop-color="#f3f3ff"/><stop offset=".955" stop-color="#f5f5ff"/><stop offset="1" stop-color="#fafaff"/></linearGradient>
<linearGradient id="g301" x2="0" y2="1"><stop offset="0" stop-color="#8787ff"/><stop offset=".009" stop-color="#8a8aff"/><stop offset=".018" stop-color="#8d8dff"/><stop offset=".027" stop-color="#8f8fff"/><stop offset=".036" stop-color="#9e9eff"/><stop offset=".045" stop-color="#a0a0ff"/><stop offset=".053" stop-color="#a1a1ff"/><stop offset=".062" stop-color="#a3a3ff"/><stop offset=".071" stop-color="#a4a4ff"/><stop offset=".08" stop-color="#a6a6ff"/><stop offset=".089" stop-color="#a7a7ff"/><stop offset=".098" stop-color="#a9a9ff"/><stop offset=".107" stop-color="#aaaaff"/><stop offset=".116" stop-color="#ababff"/><stop offset=".125" stop-color="#adadff"/><stop offset=".134" stop-color="#aeaeff"/><stop offset=".143" stop-color="#afafff"/><stop offset=".152" stop-color="#b0b0ff"/><stop offset=".16" stop-color="#b2b2ff"/><stop offset=".169" stop-color="#b3b3ff"/><stop offset=".178" stop-color="#b4b4ff"/><stop offset=".187" stop-color="#b5b5ff"/><stop offset=".196" stop-color="#b7b7ff"/><stop offset=".205" stop-color="#b8b8ff"/><stop offset=".214" stop-color="#b9b9ff"/><stop offset=".223" stop-color="#babaff"/><stop offset=".232" stop-color="#bbbbff"/><stop offset=".241" stop-color="#bdbdff"/><stop offset=".25" stop-color="#bebeff"/><stop offset=".259" stop-color="#bfbfff"/><stop offset=".267" stop-color="#c0c0ff"/><stop offset=".276" stop-color="#c1c1ff"/><stop offset=".285" stop-color="#c2c2ff"/><stop offset=".294" stop-color="#c3c3ff"/><stop offset=".303" stop-color="#c4c4ff"/><stop offset=".312" stop-color="#c6c6ff"/><stop offset=".321" stop-color="#c7c7ff"/><stop offset=".33" stop-color="#c8c8ff"/><stop offset=".339" stop-color="#c9c9ff"/><stop offset=".374" stop-color="#c9c9ff"/><stop offset=".383" stop-color="#cdcdff"/><stop offset=".392" stop-color="#cdcdff"/><stop offset=".401" stop-color="#bebeff"/><stop offset=".41" stop-color="#a0a0ff"/><stop offset=".419" stop-color="#9b9bff"/><stop offset=".695" stop-color="#9b9bff"/><stop offset=".733" stop-color="#a5a5ff"/><stop offset=".777" stop-color="#b7b7ff"/><stop offset=".822" stop-color="#cbcbff"/><stop offset=".866" stop-color="#dfdfff"/><stop offset=".911" stop-color="#eeeeff"/><stop offset=".955" stop-color="#f5f5ff"/><stop offset="1" stop-color="#fafaff"/></linearGradient>
<linearGradient id="g302" x2="0" y2="1"><stop offset="0" stop-color="#7d7dff"/><stop offset=".009" stop-color="#8282ff"/><stop offset=".018" stop-color="#8585ff"/><stop offset=".027" stop-color="#8888ff"/><stop offset=".036" stop-color="#9999ff"/><stop offset=".045" stop-color="#9c9cff"/><stop offset=".053" stop-color="#9e9eff"/><stop offset=".062" stop-color="#a0a0ff"/><stop offset=".071" stop-color="#a2a2ff"/><stop offset=".08" stop-color="#a4a4ff"/><stop offset=".089" stop-color="#a7a7ff"/><stop offset=".098" stop-color="#a9a9ff"/><stop offset=".107" stop-color="#ababff"/><stop offset=".116" stop-color="#adadff"/><stop offset=".125" stop-color="#afafff"/><stop offset=".134" stop-color="#b1b1ff"/><stop offset=".143" stop-color="#b2b2ff"/><stop offset=".152" stop-color="#b4b4ff"/><stop offset=".16" stop-color="#b6b6ff"/><stop offset=".169" stop-color="#b8b8ff"/><stop offset=".178" stop-color="#babaff"/><stop offset=".187" stop-color="#bcbcff"/><stop offset=".196" stop-color="#bdbdff"/><stop offset=".205" stop-color="#bfbfff"/><stop offset=".214" stop-color="#c1c1ff"/><stop offset=".223" stop-color="#c3c3ff"/><stop offset=".232" stop-color="#c4c4ff"/><stop offset=".241" stop-color="#c6c6ff"/><stop offset=".25" stop-color="#c8c8ff"/><stop offset=".259" stop-color="#cacaff"/><stop offset=".267" stop-color="#cbcbff"/><stop offset=".276" stop-color="#cdcdff"/><stop offset=".285" stop-color="#cfcfff"/><stop offset=".294" stop-color="#d0d0ff"/><stop offset=".303" stop-color="#d2d2ff"/><stop offset=".312" stop-color="#d3d3ff"/><stop offset=".321" stop-color="#d5d5ff"/><stop offset=".33" stop-color="#d7d7ff"/><stop offset=".339" stop-color="#d8d8ff"/><stop offset=".348" stop-color="#d9d9ff"/><stop offset=".374" stop-color="#d9d9ff"/><stop offset=".383" stop-color="#dbdbff"/><stop offset=".562" stop-color="#dbdbff"/><stop offset=".571" stop-color="#d7d7ff"/><stop offset=".579" stop-color="#babaff"/><stop offset=".588" stop-color="#ababff"/><stop offset=".695" stop-color="#ababff"/><stop offset=".733" stop-color="#b4b4ff"/><stop offset=".777" stop-color="#c3c3ff"/><stop offset=".822" stop-color="#d4d4ff"/><stop offset=".866" stop-color="#e4e4ff"/><stop offset=".911" stop-color="#f1f1ff"/><stop offset=".955" stop-color="#f5f5ff"/><stop offset="1" stop-color="#fafaff"/></linearGradient>
<linearGradient id="g303" x2="0" y2="1"><stop offset="0" stop-color="#7d7dff"/><stop offset=".009" stop-color="#8282ff"/><stop offset=".018" stop-color="#8686ff"/><stop offset=".027" stop-color="#8989ff"/><stop offset=".036" stop-color="#9a9aff"/><stop offset=".045" stop-color="#9c9cff"/><stop offset=".053" stop-color="#9f9fff"/><stop offset=".062" stop-color="#a1a1ff"/><stop offset=".071" stop-color="#a4a4ff"/><stop offset=".08" stop-color="#a6a6ff"/><stop offset=".089" stop-color="#a8a8ff"/><stop offset=".098" stop-color="#aaaaff"/><stop offset=".107" stop-color="#acacff"/><stop offset=".116" stop-color="#afafff"/><stop offset=".125" stop-color="#b1b1ff"/><stop offset=".134" stop-color="#b3b3ff"/><stop offset=".143" stop-color="#b5b5ff"/><stop offset=".152" stop-color="#b7b7ff"/><stop offset=".16" stop-color="#b9b9ff"/><stop offset=".169" stop-color="#bbbbff"/><stop offset=".178" stop-color="#bdbdff"/><stop offset=".187" stop-color="#bebeff"/><stop offset=".196" stop-color="#c0c0ff"/><stop offset=".205" stop-color="#c2c2ff"/><stop offset=".214" stop-color="#c4c4ff"/><stop offset=".223" stop-color="#c6c6ff"/><stop offset=".232" stop-color="#c8c8ff"/><stop offset=".241" stop-color="#cacaff"/><stop offset=".25" stop-color="#cbcbff"/><stop offset=".259" stop-color="#cdcdff"/><stop offset=".267" stop-color="#cfcfff"/><stop offset=".276" stop-color="#d1d1ff"/><stop offset=".285" stop-color="#d2d2ff"/><stop offset=".294" stop-color="#d4d4ff"/><stop offset=".303" stop-color="#d6d6ff"/><stop offset=".312" stop-color="#d8d8ff"/><stop offset=".321" stop-color="#d9d9ff"/><stop offset=".33" stop-color="#dbdbff"/><stop offset=".339" stop-color="#ddddff"/><stop offset=".374" stop-color="#ddddff"/><stop offset=".383" stop-color="#e0e0ff"/><stop offset=".597" stop-color="#e0e0ff"/><stop offset=".606" stop-color="#c5c5ff"/><stop offset=".615" stop-color="#ababff"/><stop offset=".695" stop-color="#ababff"/><stop offset=".733" stop-color="#b4b4ff"/><stop offset=".777" stop-color="#c3c3ff"/><stop offset=".822" stop-color="#d4d4ff"/><stop offset=".866" stop-color="#e4e4ff"/><stop offset=".911" stop-color="#f1f1ff"/><stop offset=".955" stop-color="#f5f5ff"/><stop offset="1" stop-color="#fafaff"/></linearGradient>
<linearGradient id="g304" x2="0" y2="1"><stop offset="0" stop-color="#8787ff"/><stop offset=".009" stop-color="#8b8bff"/><stop offset=".018" stop-color="#8e8eff"/><stop offset=".027" stop-color="#9090ff"/><stop offset=".036" stop-color="#9f9fff"/><stop offset=".045" stop-color="#a1a1ff"/><stop offset=".053" stop-color="#a3a3ff"/><stop offset=".062" stop-color="#a5a5ff"/><stop offset=".071" stop-color="#a7a7ff"/><stop offset=".08" stop-color="#a9a9ff"/><stop offset=".089" stop-color="#aaaaff"/><stop offset=".098" stop-color="#acacff"/><stop offset=".107" stop-color="#adadff"/><stop offset=".116" stop-color="#afafff"/><stop offset=".125" stop-color="#b1b1ff"/><stop offset=".134" stop-color="#b2b2ff"/><stop offset=".143" stop-color="#b4b4ff"/><stop offset=".152" stop-color="#b5b5ff"/><stop offset=".16" stop-color="#b7b7ff"/><stop offset=".169" stop-color="#b8b8ff"/><stop offset=".178" stop-color="#babaff"/><stop offset=".187" stop-color="#bbbbff"/><stop offset=".196" stop-color="#bcbcff"/><stop offset=".205" stop-color="#bebeff"/><stop offset=".214" stop-color="#bfbfff"/><stop offset=".223" stop-color="#c1c1ff"/><stop offset=".232" stop-color="#c2c2ff"/><stop offset=".241" stop-color="#c3c3ff"/><stop offset=".25" stop-color="#c5c5ff"/><stop offset=".259" stop-color="#c6c6ff"/><stop offset=".267" stop-color="#c7c7ff"/><stop offset=".276" stop-color="#c9c9ff"/><stop offset=".285" stop-color="#cacaff"/><stop offset=".294" stop-color="#cbcbff"/><stop offset=".303" stop-color="#cdcdff"/><stop offset=".312" stop-color="#ceceff"/><stop offset=".321" stop-color="#cfcfff"/><stop offset=".33" stop-color="#d0d0ff"/><stop offset=".339" stop-color="#d2d2ff"/><stop offset=".374" stop-color="#d2d2ff"/><stop offset=".383" stop-color="#d5d5ff"/><stop offset=".464" stop-color="#d5d5ff"/><stop offset=".473" stop-color="#cfcfff"/><stop offset=".481" stop-color="#acacff"/><stop offset=".49" stop-color="#9b9bff"/><stop offset=".695" stop-color="#9b9bff"/><stop offset=".733" stop-color="#a5a5ff"/><stop offset=".777" stop-color="#b7b7ff"/><stop offset=".822" stop-color="#cbcbff"/><stop offset=".866" stop-color="#dfdfff"/><stop offset=".911" stop-color="#eeeeff"/><stop offset=".955" stop-color="#f5f5ff"/><stop offset="1" stop-color="#fafaff"/></linearGradient>
<linearGradient id="g305" x2="0" y2="1"><stop offset="0" stop-color="#8787ff"/><stop offset=".009" stop-color="#8b8bff"/><stop offset=".018" stop-color="#8e8eff"/><stop offset=".027" stop-color="#9090ff"/><stop offset=".036" stop-color="#9f9fff"/><stop offset=".045" stop-color="#a1a1ff"/><stop offset=".053" stop-color="#a3a3ff"/><stop offset=".062" stop-color="#a5a5ff"/><stop offset=".071" stop-color="#a7a7ff"/><stop offset=".08" stop-color="#a9a9ff"/><stop offset=".089" stop-color="#aaaaff"/><stop offset=".098" stop-color="#acacff"/><stop offset=".107" stop-color="#adadff"/><stop offset=".116" stop-color="#afafff"/><stop offset=".125" stop-color="#b1b1ff"/><stop offset=".134" stop-color="#b2b2ff"/><stop offset=".143" stop-color="#b4b4ff"/><stop offset=".152" stop-color="#b5b5ff"/><stop offset=".16" stop-color="#b7b7ff"/><stop offset=".169" stop-color="#b8b8ff"/><stop offset=".178" stop-color="#babaff"/><stop offset=".187" stop-color="#bbbbff"/><stop offset=".196" stop-color="#bcbcff"/><stop offset=".205" stop-color="#bebeff"/><stop offset=".214" stop-color="#bfbfff"/><stop offset=".223" stop-color="#c1c1ff"/><stop offset=".232" stop-color="#c2c2ff"/><stop offset=".241" stop-color="#c3c3ff"/><stop offset=".25" stop-color="#c5c5ff"/><stop offset=".259" stop-color="#c6c6ff"/><stop offset=".267" stop-color="#c7c7ff"/><stop offset=".276" stop-color="#c9c9ff"/><stop offset=".285" stop-color="#cacaff"/><stop offset=".294" stop-color="#cbcbff"/><stop offset=".303" stop-color="#cdcdff"/><stop offset=".312" stop-color="#ceceff"/><stop offset=".321" stop-color="#cfcfff"/><stop offset=".33" stop-color="#d0d0ff"/><stop offset=".339" stop-color="#d2d2ff"/><stop offset=".374" stop-color="#d2d2ff"/><stop offset=".383" stop-color="#d5d5ff"/><stop offset=".392" stop-color="#cbcbff"/><stop offset=".401" stop-color="#adadff"/><stop offset=".41" stop-color="#a3a3ff"/><stop offset=".695" stop-color="#a3a3ff"/><stop offset=".733" stop-color="#acacff"/><stop offset=".777" stop-color="#bdbdff"/><stop offset=".822" stop-color="#cfcfff"/><stop offset=".866" stop-color="#e2e2ff"/><stop offset=".911" stop-color="#efefff"/><stop offset=".955" stop-color="#f5f5ff"/><stop offset="1" stop-color="#fafaff"/></linearGradient>
<linearGradient id="g306" x2="0" y2="1"><stop offset="0" stop-color="#8787ff"/><stop offset=".009" stop-color="#8b8bff"/><stop offset=".018" stop-color="#8e8eff"/><stop offset=".027" stop-color="#9090ff"/><stop offset=".036" stop-color="#9f9fff"/><stop offset=".045" stop-color="#a1a1ff"/><stop offset=".053" stop-color="#a3a3ff"/><stop offset=".062" stop-color="#a5a5ff"/><stop offset=".071" stop-color="#a7a7ff"/><stop offset=".08" stop-color="#a9a9ff"/><stop offset=".089" stop-color="#aaaaff"/><stop offset=".098" stop-color="#acacff"/><stop offset=".107" stop-color="#adadff"/><stop offset=".116" stop-color="#afafff"/><stop offset=".125" stop-color="#b1b1ff"/><stop offset=".134" stop-color="#b2b2ff"/><stop offset=".143" stop-color="#b4b4ff"/><stop offset=".152" stop-color="#b5b5ff"/><stop offset=".16" stop-color="#b7b7ff"/><stop offset=".169" stop-color="#b8b8ff"/><stop offset=".178" stop-color="#babaff"/><stop offset=".187" stop-color="#bbbbff"/><stop offset=".196" stop-color="#bcbcff"/><stop offset=".205" stop-color="#bebeff"/><stop offset=".214" stop-color="#bfbfff"/><stop offset=".223" stop-color="#c1c1ff"/><stop offset=".232" stop-color="#c2c2ff"/><stop offset=".241" stop-color="#c3c3ff"/><stop offset=".25" stop-color="#c5c5ff"/><stop offset=".259" stop-color="#c6c6ff"/><stop offset=".267" stop-color="#c7c7ff"/><stop offset=".276" stop-color="#c9c9ff"/><stop offset=".285" stop-color="#cacaff"/><stop offset=".294" stop-color="#cbcbff"/><stop offset=".303" stop-color="#cdcdff"/><stop offset=".312" stop-color="#ceceff"/><stop offset=".321" stop-color="#cfcfff"/><stop offset=".33" stop-color="#d0d0ff"/><stop offset=".339" stop-color="#d2d2ff"/><stop offset=".374" stop-color="#d2d2ff"/><stop offset=".383" stop-color="#d5d5ff"/><stop offset=".437" stop-color="#d5d5ff"/><stop offset=".446" stop-color="#8585ff"/><stop offset=".473" stop-color="#8585ff"/><stop offset=".481" stop-color="#d5d5ff"/><stop offset=".508" stop-color="#d5d5ff"/><stop offset=".517" stop-color="#b4b4ff"/><stop offset=".526" stop-color="#8585ff"/><stop offset=".695" stop-color="#8585ff"/><stop offset=".733" stop-color="#9191ff"/><stop offset=".777" stop-color="#a7a7ff"/><stop offset=".822" stop-color="#c0c0ff"/><stop offset=".866" stop-color="#d8d8ff"/><stop offset=".911" stop-color="#eaeaff"/><stop offset=".955" stop-color="#f5f5ff"/><stop offset="1" stop-color="#fafaff"/></linearGradient>
<linearGradient id="g307" x2="0" y2="1"><stop offset="0" stop-color="#8c8cff"/><stop offset=".009" stop-color="#9090ff"/><stop offset=".018" stop-color="#9393ff"/><stop offset=".027" stop-color="#9696ff"/><stop offset=".036" stop-color="#a5a5ff"/><stop offset=".045" stop-color="#a7a7ff"/><stop offset=".053" stop-color="#a9a9ff"/><stop offset=".062" stop-color="#ababff"/><stop offset=".071" stop-color="#adadff"/><stop offset=".08" stop-color="#aeaeff"/><stop offset=".089" stop-color="#b0b0ff"/><stop offset=".098" stop-color="#b2b2ff"/><stop offset=".107" stop-color="#b4b4ff"/><stop offset=".116" stop-color="#b5b5ff"/><stop offset=".125" stop-color="#b7b7ff"/><stop offset=".134" stop-color="#b9b9ff"/><stop offset=".143" stop-color="#babaff"/><stop offset=".152" stop-color="#bcbcff"/><stop offset=".16" stop-color="#bebeff"/><stop offset=".169" stop-color="#bfbfff"/><stop offset=".178" stop-color="#c1c1ff"/><stop offset=".187" stop-color="#c2c2ff"/><stop offset=".196" stop-color="#c4c4ff"/><stop offset=".205" stop-color="#c5c5ff"/><stop offset=".214" stop-color="#c7c7ff"/><stop offset=".223" stop-color="#c8c8ff"/><stop offset=".232" stop-color="#cacaff"/><stop offset=".241" stop-color="#cbcbff"/><stop offset=".25" stop-color="#cdcdff"/><stop offset=".259" stop-color="#ceceff"/><stop offset=".267" stop-color="#d0d0ff"/><stop offset=".276" stop-color="#d1d1ff"/><stop offset=".285" stop-color="#d2d2ff"/><stop offset=".294" stop-color="#d4d4ff"/><stop offset=".303" stop-color="#d5d5ff"/><stop offset=".312" stop-color="#d7d7ff"/><stop offset=".321" stop-color="#d8d8ff"/><stop offset=".33" stop-color="#d9d9ff"/><stop offset=".339" stop-color="#dbdbff"/><stop offset=".374" stop-color="#dbdbff"/><stop offset=".383" stop-color="#dedeff"/><stop offset=".517" stop-color="#dedeff"/><stop offset=".526" stop-color="#d9d9ff"/><stop offset=".535" stop-color="#babaff"/><stop offset=".544" stop-color="#ababff"/><stop offset=".695" stop-color="#ababff"/><stop offset=".733" stop-color="#b4b4ff"/><stop offset=".777" stop-color="#c3c3ff"/><stop offset=".822" stop-color="#d4d4ff"/><stop offset=".866" stop-color="#e4e4ff"/><stop offset=".911" stop-color="#f1f1ff"/><stop offset=".955" stop-color="#f5f5ff"/><stop offset="1" stop-color="#fafaff"/></linearGradient>
<linearGradient id="g308" x2="0" y2="1"><stop offset="0" stop-color="#9696ff"/><stop offset=".009" stop-color="#9898ff"/><stop offset=".018" stop-color="#9999ff"/><stop offset=".027" stop-color="#9a9aff"/><stop offset=".036" stop-color="#a7a7ff"/><stop offset=".045" stop-color="#a8a8ff"/><stop offset=".053" stop-color="#a9a9ff"/><stop offset=".062" stop-color="#a9a9ff"/><stop offset=".071" stop-color="#aaaaff"/><stop offset=".08" stop-color="#ababff"/><stop offset=".089" stop-color="#ababff"/><stop offset=".098" stop-color="#acacff"/><stop offset=".107" stop-color="#adadff"/><stop offset=".116" stop-color="#adadff"/><stop offset=".125" stop-color="#aeaeff"/><stop offset=".134" stop-color="#afafff"/><stop offset=".143" stop-color="#afafff"/><stop offset=".152" stop-color="#b0b0ff"/><stop offset=".16" stop-color="#b0b0ff"/><stop offset=".169" stop-color="#b1b1ff"/><stop offset=".178" stop-color="#b2b2ff"/><stop offset=".187" stop-color="#b2b2ff"/><stop offset=".196" stop-color="#b3b3ff"/><stop offset=".205" stop-color="#b3b3ff"/><stop offset=".214" stop-color="#b4b4ff"/><stop offset=".223" stop-color="#b5b5ff"/><stop offset=".232" stop-color="#b5b5ff"/><stop offset=".241" stop-color="#b6b6ff"/><stop offset=".25" stop-color="#b6b6ff"/><stop offset=".259" stop-color="#b7b7ff"/><stop offset=".267" stop-color="#b7b7ff"/><stop offset=".276" stop-color="#b8b8ff"/><stop offset=".285" stop-color="#b8b8ff"/><stop offset=".294" stop-color="#b9b9ff"/><stop offset=".303" stop-color="#b9b9ff"/><stop offset=".312" stop-color="#babaff"/><stop offset=".321" stop-color="#babaff"/><stop offset=".33" stop-color="#bbbbff"/><stop offset=".339" stop-color="#bcbcff"/><stop offset=".374" stop-color="#bcbcff"/><stop offset=".383" stop-color="#c0c0ff"/><stop offset=".437" stop-color="#c0c0ff"/><stop offset=".446" stop-color="#7777ff"/><stop offset=".473" stop-color="#7777ff"/><stop offset=".481" stop-color="#b2b2ff"/><stop offset=".49" stop-color="#ababff"/><stop offset=".695" stop-color="#ababff"/><stop offset=".733" stop-color="#b4b4ff"/><stop offset=".777" stop-color="#c3c3ff"/><stop offset=".822" stop-color="#d4d4ff"/><stop offset=".866" stop-color="#e4e4ff"/><stop offset=".911" stop-color="#f1f1ff"/><stop offset=".955" stop-color="#f5f5ff"/><stop offset="1" stop-color="#fafaff"/></linearGradient>
<linearGradient id="g309" x2="0" y2="1"><stop offset="0" stop-color="#a6a6ff"/><stop offset=".009" stop-color="#a5a5ff"/><stop offset=".027" stop-color="#a5a5ff"/><stop offset=".036" stop-color="#afafff"/><stop offset=".071" stop-color="#afafff"/><stop offset=".08" stop-color="#aeaeff"/><stop offset=".098" stop-color="#aeaeff"/><stop offset=".107" stop-color="#8f8fff"/><stop offset=".152" stop-color="#8f8fff"/><stop offset=".16" stop-color="#adadff"/><stop offset=".169" stop-color="#adadff"/><stop offset=".178" stop-color="#acacff"/><stop offset=".232" stop-color="#acacff"/><stop offset=".241" stop-color="#ababff"/><stop offset=".285" stop-color="#ababff"/><stop offset=".294" stop-color="#aaaaff"/><stop offset=".374" stop-color="#aaaaff"/><stop offset=".383" stop-color="#b0b0ff"/><stop offset=".428" stop-color="#b0b0ff"/><stop offset=".437" stop-color="#c0c0ff"/><stop offset=".571" stop-color="#c0c0ff"/><stop offset=".579" stop-color="#7e7eff"/><stop offset=".588" stop-color="#6e6eff"/><stop offset=".695" stop-color="#6e6eff"/><stop offset=".733" stop-color="#7c7cff"/><stop offset=".777" stop-color="#9696ff"/><stop offset=".822" stop-color="#b3b3ff"/><stop offset=".866" stop-color="#d0d0ff"/><stop offset=".911" stop-color="#e6e6ff"/><stop offset=".955" stop-color="#f5f5ff"/><stop offset="1" stop-color="#fafaff"/></linearGradient>
<linearGradient id="g310" x2="0" y2="1"><stop offset="0" stop-color="#c9c9ff"/><stop offset=".009" stop-color="#cbcbff"/><stop offset=".018" stop-color="#cdcdff"/><stop offset=".027" stop-color="#ceceff"/><stop offset=".036" stop-color="#d5d5ff"/><stop offset=".045" stop-color="#d6d6ff"/><stop offset=".053" stop-color="#d6d6ff"/><stop offset=".062" stop-color="#d7d7ff"/><stop offset=".071" stop-color="#d8d8ff"/><stop offset=".08" stop-color="#d9d9ff"/><stop offset=".089" stop-color="#dadaff"/><stop offset=".098" stop-color="#dbdbff"/><stop offset=".107" stop-color="#dbdbff"/><stop offset=".116" stop-color="#dcdcff"/><stop offset=".125" stop-color="#ddddff"/><stop offset=".134" stop-color="#dedeff"/><stop offset=".143" stop-color="#dedeff"/><stop offset=".152" stop-color="#dfdfff"/><stop offset=".16" stop-color="#e0e0ff"/><stop offset=".169" stop-color="#e1e1ff"/><stop offset=".178" stop-color="#e1e1ff"/><stop offset=".187" stop-color="#e2e2ff"/><stop offset=".196" stop-color="#e3e3ff"/><stop offset=".205" stop-color="#e3e3ff"/><stop offset=".214" stop-color="#e4e4ff"/><stop offset=".223" stop-color="#e5e5ff"/><stop offset=".232" stop-color="#e5e5ff"/><stop offset=".241" stop-color="#e6e6ff"/><stop offset=".25" stop-color="#e7e7ff"/><stop offset=".259" stop-color="#e7e7ff"/><stop offset=".267" stop-color="#e8e8ff"/><stop offset=".276" stop-color="#e8e8ff"/><stop offset=".285" stop-color="#e9e9ff"/><stop offset=".294" stop-color="#eaeaff"/><stop offset=".303" stop-color="#eaeaff"/><stop offset=".312" stop-color="#ebebff"/><stop offset=".321" stop-color="#ececff"/><stop offset=".33" stop-color="#ececff"/><stop offset=".339" stop-color="#ededff"/><stop offset=".374" stop-color="#ededff"/><stop offset=".383" stop-color="#eeeeff"/><stop offset=".428" stop-color="#eeeeff"/><stop offset=".437" stop-color="#ddddff"/><stop offset=".446" stop-color="#bbbbff"/><stop offset=".455" stop-color="#b6b6ff"/><stop offset=".571" stop-color="#b6b6ff"/><stop offset=".579" stop-color="#7777ff"/><stop offset=".695" stop-color="#7777ff"/><stop offset=".733" stop-color="#8585ff"/><stop offset=".777" stop-color="#9d9dff"/><stop offset=".822" stop-color="#b8b8ff"/><stop offset=".866" stop-color="#d3d3ff"/><stop offset=".911" stop-color="#e8e8ff"/><stop offset=".955" stop-color="#f5f5ff"/><stop offset="1" stop-color="#fafaff"/></linearGradient>
<linearGradient id="g311" x2="0" y2="1"><stop offset="0" stop-color="#9696ff"/><stop offset=".009" stop-color="#9898ff"/><stop offset=".018" stop-color="#9999ff"/><stop offset=".027" stop-color="#9a9aff"/><stop offset=".036" stop-color="#a7a7ff"/><stop offset=".045" stop-color="#a8a8ff"/><stop offset=".053" stop-color="#a9a9ff"/><stop offset=".062" stop-color="#a9a9ff"/><stop offset=".071" stop-color="#aaaaff"/><stop offset=".08" stop-color="#ababff"/><stop offset=".089" stop-color="#ababff"/><stop offset=".098" stop-color="#acacff"/><stop offset=".107" stop-color="#adadff"/><stop offset=".116" stop-color="#adadff"/><stop offset=".125" stop-color="#aeaeff"/><stop offset=".134" stop-color="#d7d7ff"/><stop offset=".276" stop-color="#d7d7ff"/><stop offset=".285" stop-color="#b8b8ff"/><stop offset=".294" stop-color="#b9b9ff"/><stop offset=".303" stop-color="#b9b9ff"/><stop offset=".312" stop-color="#babaff"/><stop offset=".321" stop-color="#babaff"/><stop offset=".33" stop-color="#bbbbff"/><stop offset=".339" stop-color="#bcbcff"/><stop offset=".374" stop-color="#bcbcff"/><stop offset=".383" stop-color="#c0c0ff"/><stop offset=".446" stop-color="#c0c0ff"/><stop offset=".455" stop-color="#b2b2ff"/><stop offset=".464" stop-color="#9797ff"/><stop offset=".473" stop-color="#8585ff"/><stop offset=".571" stop-color="#8585ff"/><stop offset=".579" stop-color="#7272ff"/><stop offset=".695" stop-color="#7272ff"/><stop offset=".733" stop-color="#8080ff"/><stop offset=".777" stop-color="#9a9aff"/><stop offset=".822" stop-color="#b6b6ff"/><stop offset=".866" stop-color="#d2d2ff"/><stop offset=".911" stop-color="#e7e7ff"/><stop offset=".955" stop-color="#f5f5ff"/><stop offset="1" stop-color="#fafaff"/></linearGradient>
<linearGradient id="g312" x2="0" y2="1"><stop offset="0" stop-color="#7373ff"/><stop offset=".009" stop-color="#7777ff"/><stop offset=".018" stop-color="#7b7bff"/><stop offset=".027" stop-color="#7e7eff"/><stop offset=".036" stop-color="#9090ff"/><stop offset=".045" stop-color="#9292ff"/><stop offset=".053" stop-color="#9494ff"/><stop offset=".062" stop-color="#9797ff"/><stop offset=".071" stop-color="#9999ff"/><stop offset=".08" stop-color="#9b9bff"/><stop offset=".089" stop-color="#9d9dff"/><stop offset=".098" stop-color="#9f9fff"/><stop offset=".107" stop-color="#a1a1ff"/><stop offset=".116" stop-color="#a3a3ff"/><stop offset=".125" stop-color="#a5a5ff"/><stop offset=".134" stop-color="#a7a7ff"/><stop offset=".143" stop-color="#a8a8ff"/><stop offset=".152" stop-color="#aaaaff"/><stop offset=".16" stop-color="#acacff"/><stop offset=".169" stop-color="#aeaeff"/><stop offset=".178" stop-color="#b0b0ff"/><stop offset=".187" stop-color="#b1b1ff"/><stop offset=".196" stop-color="#b3b3ff"/><stop offset=".205" stop-color="#b5b5ff"/><stop offset=".214" stop-color="#b6b6ff"/><stop offset=".223" stop-color="#b8b8ff"/><stop offset=".232" stop-color="#babaff"/><stop offset=".241" stop-color="#bcbcff"/><stop offset=".25" stop-color="#bdbdff"/><stop offset=".259" stop-color="#bfbfff"/><stop offset=".267" stop-color="#c0c0ff"/><stop offset=".276" stop-color="#c2c2ff"/><stop offset=".285" stop-color="#c4c4ff"/><stop offset=".294" stop-color="#c5c5ff"/><stop offset=".303" stop-color="#c7c7ff"/><stop offset=".312" stop-color="#c8c8ff"/><stop offset=".321" stop-color="#cacaff"/><stop offset=".33" stop-color="#ccccff"/><stop offset=".339" stop-color="#cdcdff"/><stop offset=".348" stop-color="#ceceff"/><stop offset=".374" stop-color="#ceceff"/><stop offset=".383" stop-color="#d1d1ff"/><stop offset=".446" stop-color="#d1d1ff"/><stop offset=".455" stop-color="#ccccff"/><stop offset=".464" stop-color="#b1b1ff"/><stop offset=".473" stop-color="#a3a3ff"/><stop offset=".695" stop-color="#a3a3ff"/><stop offset=".733" stop-color="#acacff"/><stop offset=".777" stop-color="#bdbdff"/><stop offset=".822" stop-color="#cfcfff"/><stop offset=".866" stop-color="#e2e2ff"/><stop offset=".911" stop-color="#efefff"/><stop offset=".955" stop-color="#f5f5ff"/><stop offset="1" stop-color="#fafaff"/></linearGradient>
</defs>
<text x="-0.5" y="22.8" font-size="26" font-weight="bold" fill="#111">A</text>
<text x="5" y="362.4" font-size="26" font-weight="bold" fill="#111">B</text>
<text x="83" y="17" font-size="17.5" font-weight="bold" fill="#111">T7</text>
<text x="115" y="16" font-size="13.7" fill="#111" textLength="95.3" lengthAdjust="spacingAndGlyphs">Strains (n=480)</text>
<text x="53.4" y="37.6" font-size="13.7" fill="#111" textLength="87.2" lengthAdjust="spacingAndGlyphs">Large plaques</text>
<text x="149.6" y="37.6" font-size="13.7" fill="#111" textLength="86.4" lengthAdjust="spacingAndGlyphs">Small plaques</text>
<g clip-path="url(#cpa)">
<rect x="50.8" y="49.6" width="184.5" height="184.4" fill="#fcfcff"/>
<g filter="url(#bla)">
<rect x="53.8" y="52.6" width="1.6" height="178.4" fill="url(#g1)"/>
<rect x="55.3" y="52.6" width="1.6" height="178.4" fill="url(#g2)"/>
<rect x="56.8" y="52.6" width="1.6" height="178.4" fill="url(#g3)"/>
<rect x="58.3" y="52.6" width="1.6" height="178.4" fill="url(#g4)"/>
<rect x="59.8" y="52.6" width="1.6" height="178.4" fill="url(#g5)"/>
<rect x="61.3" y="52.6" width="1.6" height="178.4" fill="url(#g6)"/>
<rect x="62.8" y="52.6" width="1.6" height="178.4" fill="url(#g7)"/>
<rect x="64.3" y="52.6" width="1.6" height="178.4" fill="url(#g8)"/>
<rect x="65.8" y="52.6" width="1.6" height="178.4" fill="url(#g9)"/>
<rect x="67.3" y="52.6" width="1.6" height="178.4" fill="url(#g10)"/>
<rect x="68.8" y="52.6" width="1.6" height="178.4" fill="url(#g11)"/>
<rect x="70.3" y="52.6" width="1.6" height="178.4" fill="url(#g12)"/>
<rect x="71.8" y="52.6" width="1.6" height="178.4" fill="url(#g13)"/>
<rect x="73.3" y="52.6" width="1.6" height="178.4" fill="url(#g14)"/>
<rect x="74.8" y="52.6" width="1.6" height="178.4" fill="url(#g15)"/>
<rect x="76.3" y="52.6" width="1.6" height="178.4" fill="url(#g16)"/>
<rect x="77.8" y="52.6" width="1.6" height="178.4" fill="url(#g17)"/>
<rect x="79.3" y="52.6" width="1.6" height="178.4" fill="url(#g18)"/>
<rect x="80.8" y="52.6" width="1.6" height="178.4" fill="url(#g19)"/>
<rect x="82.3" y="52.6" width="1.6" height="178.4" fill="url(#g20)"/>
<rect x="83.8" y="52.6" width="1.6" height="178.4" fill="url(#g21)"/>
<rect x="85.3" y="52.6" width="1.6" height="178.4" fill="url(#g22)"/>
<rect x="86.8" y="52.6" width="1.6" height="178.4" fill="url(#g23)"/>
<rect x="88.3" y="52.6" width="1.6" height="178.4" fill="url(#g24)"/>
<rect x="89.8" y="52.6" width="1.6" height="178.4" fill="url(#g25)"/>
<rect x="91.3" y="52.6" width="1.6" height="178.4" fill="url(#g26)"/>
<rect x="92.8" y="52.6" width="1.6" height="178.4" fill="url(#g27)"/>
<rect x="94.3" y="52.6" width="1.6" height="178.4" fill="url(#g28)"/>
<rect x="95.8" y="52.6" width="1.6" height="178.4" fill="url(#g29)"/>
<rect x="97.3" y="52.6" width="1.6" height="178.4" fill="url(#g30)"/>
<rect x="98.8" y="52.6" width="1.6" height="178.4" fill="url(#g31)"/>
<rect x="100.3" y="52.6" width="1.6" height="178.4" fill="url(#g32)"/>
<rect x="101.8" y="52.6" width="1.6" height="178.4" fill="url(#g33)"/>
<rect x="103.3" y="52.6" width="1.6" height="178.4" fill="url(#g34)"/>
<rect x="104.8" y="52.6" width="1.6" height="178.4" fill="url(#g35)"/>
<rect x="106.3" y="52.6" width="1.6" height="178.4" fill="url(#g36)"/>
<rect x="107.8" y="52.6" width="1.6" height="178.4" fill="url(#g37)"/>
<rect x="109.3" y="52.6" width="1.6" height="178.4" fill="url(#g38)"/>
<rect x="110.8" y="52.6" width="1.6" height="178.4" fill="url(#g39)"/>
<rect x="112.3" y="52.6" width="1.6" height="178.4" fill="url(#g40)"/>
<rect x="113.8" y="52.6" width="1.6" height="178.4" fill="url(#g41)"/>
<rect x="115.3" y="52.6" width="1.6" height="178.4" fill="url(#g42)"/>
<rect x="116.8" y="52.6" width="1.6" height="178.4" fill="url(#g43)"/>
<rect x="118.3" y="52.6" width="1.6" height="178.4" fill="url(#g44)"/>
<rect x="119.8" y="52.6" width="1.6" height="178.4" fill="url(#g45)"/>
<rect x="121.3" y="52.6" width="1.6" height="178.4" fill="url(#g46)"/>
<rect x="122.8" y="52.6" width="1.6" height="178.4" fill="url(#g47)"/>
<rect x="124.3" y="52.6" width="1.6" height="178.4" fill="url(#g48)"/>
<rect x="125.8" y="52.6" width="1.6" height="178.4" fill="url(#g49)"/>
<rect x="127.3" y="52.6" width="1.6" height="178.4" fill="url(#g50)"/>
<rect x="128.8" y="52.6" width="1.6" height="178.4" fill="url(#g51)"/>
<rect x="130.3" y="52.6" width="1.6" height="178.4" fill="url(#g52)"/>
<rect x="131.8" y="52.6" width="1.6" height="178.4" fill="url(#g53)"/>
<rect x="133.3" y="52.6" width="1.6" height="178.4" fill="url(#g54)"/>
<rect x="134.8" y="52.6" width="1.6" height="178.4" fill="url(#g55)"/>
<rect x="136.3" y="52.6" width="1.6" height="178.4" fill="url(#g56)"/>
<rect x="137.8" y="52.6" width="1.6" height="178.4" fill="url(#g57)"/>
<rect x="139.3" y="52.6" width="1.6" height="178.4" fill="url(#g58)"/>
<rect x="140.8" y="52.6" width="1.6" height="178.4" fill="url(#g59)"/>
<rect x="146.8" y="52.6" width="1.6" height="178.4" fill="url(#g60)"/>
<rect x="148.3" y="52.6" width="1.6" height="178.4" fill="url(#g61)"/>
<rect x="149.8" y="52.6" width="1.6" height="178.4" fill="url(#g62)"/>
<rect x="151.3" y="52.6" width="1.6" height="178.4" fill="url(#g63)"/>
<rect x="152.8" y="52.6" width="1.6" height="178.4" fill="url(#g64)"/>
<rect x="154.3" y="52.6" width="1.6" height="178.4" fill="url(#g65)"/>
<rect x="155.8" y="52.6" width="1.6" height="178.4" fill="url(#g66)"/>
<rect x="157.3" y="52.6" width="1.6" height="178.4" fill="url(#g67)"/>
<rect x="158.8" y="52.6" width="1.6" height="178.4" fill="url(#g68)"/>
<rect x="160.3" y="52.6" width="1.6" height="178.4" fill="url(#g69)"/>
<rect x="161.8" y="52.6" width="1.6" height="178.4" fill="url(#g70)"/>
<rect x="163.3" y="52.6" width="1.6" height="178.4" fill="url(#g71)"/>
<rect x="164.8" y="52.6" width="1.6" height="178.4" fill="url(#g72)"/>
<rect x="166.3" y="52.6" width="1.6" height="178.4" fill="url(#g73)"/>
<rect x="167.8" y="52.6" width="1.6" height="178.4" fill="url(#g74)"/>
<rect x="169.3" y="52.6" width="1.6" height="178.4" fill="url(#g75)"/>
<rect x="170.8" y="52.6" width="1.6" height="178.4" fill="url(#g76)"/>
<rect x="172.3" y="52.6" width="1.6" height="178.4" fill="url(#g77)"/>
<rect x="173.8" y="52.6" width="1.6" height="178.4" fill="url(#g78)"/>
<rect x="175.3" y="52.6" width="1.6" height="178.4" fill="url(#g79)"/>
<rect x="176.8" y="52.6" width="1.6" height="178.4" fill="url(#g80)"/>
<rect x="178.3" y="52.6" width="1.6" height="178.4" fill="url(#g81)"/>
<rect x="179.8" y="52.6" width="1.6" height="178.4" fill="url(#g82)"/>
<rect x="181.3" y="52.6" width="1.6" height="178.4" fill="url(#g83)"/>
<rect x="182.8" y="52.6" width="1.6" height="178.4" fill="url(#g84)"/>
<rect x="184.3" y="52.6" width="1.6" height="178.4" fill="url(#g85)"/>
<rect x="185.8" y="52.6" width="1.6" height="178.4" fill="url(#g86)"/>
<rect x="187.3" y="52.6" width="1.6" height="178.4" fill="url(#g87)"/>
<rect x="188.8" y="52.6" width="1.6" height="178.4" fill="url(#g88)"/>
<rect x="190.3" y="52.6" width="1.6" height="178.4" fill="url(#g89)"/>
<rect x="191.8" y="52.6" width="1.6" height="178.4" fill="url(#g90)"/>
<rect x="193.3" y="52.6" width="1.6" height="178.4" fill="url(#g91)"/>
<rect x="194.8" y="52.6" width="1.6" height="178.4" fill="url(#g92)"/>
<rect x="196.3" y="52.6" width="1.6" height="178.4" fill="url(#g93)"/>
<rect x="197.8" y="52.6" width="1.6" height="178.4" fill="url(#g94)"/>
<rect x="199.3" y="52.6" width="1.6" height="178.4" fill="url(#g95)"/>
<rect x="200.8" y="52.6" width="1.6" height="178.4" fill="url(#g96)"/>
<rect x="202.3" y="52.6" width="1.6" height="178.4" fill="url(#g97)"/>
<rect x="203.8" y="52.6" width="1.6" height="178.4" fill="url(#g98)"/>
<rect x="205.3" y="52.6" width="1.6" height="178.4" fill="url(#g99)"/>
<rect x="206.8" y="52.6" width="1.6" height="178.4" fill="url(#g100)"/>
<rect x="208.3" y="52.6" width="1.6" height="178.4" fill="url(#g101)"/>
<rect x="209.8" y="52.6" width="1.6" height="178.4" fill="url(#g102)"/>
<rect x="211.3" y="52.6" width="1.6" height="178.4" fill="url(#g103)"/>
<rect x="212.8" y="52.6" width="1.6" height="178.4" fill="url(#g104)"/>
<rect x="214.3" y="52.6" width="1.6" height="178.4" fill="url(#g105)"/>
<rect x="215.8" y="52.6" width="1.6" height="178.4" fill="url(#g106)"/>
<rect x="217.3" y="52.6" width="1.6" height="178.4" fill="url(#g107)"/>
<rect x="218.8" y="52.6" width="1.6" height="178.4" fill="url(#g108)"/>
<rect x="220.3" y="52.6" width="1.6" height="178.4" fill="url(#g109)"/>
<rect x="221.8" y="52.6" width="1.6" height="178.4" fill="url(#g110)"/>
<rect x="223.3" y="52.6" width="1.6" height="178.4" fill="url(#g111)"/>
<rect x="224.8" y="52.6" width="1.6" height="178.4" fill="url(#g112)"/>
<rect x="226.3" y="52.6" width="1.6" height="178.4" fill="url(#g113)"/>
<rect x="227.8" y="52.6" width="1.6" height="178.4" fill="url(#g114)"/>
<rect x="229.3" y="52.6" width="1.6" height="178.4" fill="url(#g115)"/>
<rect x="230.8" y="52.6" width="1.6" height="178.4" fill="url(#g116)"/>
</g></g>
<rect x="143.4" y="52.6" width="1.45" height="178.4" fill="#1a1a1a"/>
<rect x="144.85" y="52.6" width="1.3" height="178.4" fill="#fff"/>
<rect x="53.8" y="52.6" width="178.5" height="178.4" fill="none" stroke="#222" stroke-width="1.1"/>
<line x1="50.8" y1="225.4" x2="53.8" y2="225.4" stroke="#222" stroke-width="1.1"/>
<text x="36.3" y="230.1" font-size="13.1" font-weight="bold" text-anchor="middle" fill="#111">10</text>
<line x1="50.8" y1="204" x2="53.8" y2="204" stroke="#222" stroke-width="1.1"/>
<text x="36.3" y="208.7" font-size="13.1" font-weight="bold" text-anchor="middle" fill="#111">40</text>
<line x1="50.8" y1="182.6" x2="53.8" y2="182.6" stroke="#222" stroke-width="1.1"/>
<text x="36.3" y="187.3" font-size="13.1" font-weight="bold" text-anchor="middle" fill="#111">70</text>
<line x1="50.8" y1="161.2" x2="53.8" y2="161.2" stroke="#222" stroke-width="1.1"/>
<text x="35.6" y="165.9" font-size="13.1" font-weight="bold" text-anchor="middle" fill="#111">100</text>
<line x1="50.8" y1="139.8" x2="53.8" y2="139.8" stroke="#222" stroke-width="1.1"/>
<text x="35.6" y="144.5" font-size="13.1" font-weight="bold" text-anchor="middle" fill="#111">130</text>
<line x1="50.8" y1="118.4" x2="53.8" y2="118.4" stroke="#222" stroke-width="1.1"/>
<text x="35.6" y="123.1" font-size="13.1" font-weight="bold" text-anchor="middle" fill="#111">160</text>
<line x1="50.8" y1="97" x2="53.8" y2="97" stroke="#222" stroke-width="1.1"/>
<text x="35.6" y="101.7" font-size="13.1" font-weight="bold" text-anchor="middle" fill="#111">190</text>
<line x1="50.8" y1="75.6" x2="53.8" y2="75.6" stroke="#222" stroke-width="1.1"/>
<text x="35.6" y="80.3" font-size="13.1" font-weight="bold" text-anchor="middle" fill="#111">220</text>
<line x1="50.8" y1="54.2" x2="53.8" y2="54.2" stroke="#222" stroke-width="1.1"/>
<text x="35.6" y="58.9" font-size="13.1" font-weight="bold" text-anchor="middle" fill="#111">250</text>
<line x1="53.8" y1="231" x2="53.8" y2="234.5" stroke="#222" stroke-width="1.1"/>
<text x="58.4" y="243.6" font-size="13.1" font-weight="bold" text-anchor="end" fill="#111" transform="rotate(-45 58.4 243.6)">WT</text>
<line x1="72.2" y1="231" x2="72.2" y2="234.5" stroke="#222" stroke-width="1.1"/>
<text x="77.52" y="244.1" font-size="13.1" font-weight="bold" text-anchor="end" fill="#111" transform="rotate(-45 77.52 244.1)">T60</text>
<line x1="90.6" y1="231" x2="90.6" y2="234.5" stroke="#222" stroke-width="1.1"/>
<text x="97" y="244.6" font-size="13.1" font-weight="bold" text-anchor="end" fill="#111" transform="rotate(-45 97 244.6)">T130</text>
<line x1="109.4" y1="231" x2="109.4" y2="234.5" stroke="#222" stroke-width="1.1"/>
<text x="115.8" y="244.6" font-size="13.1" font-weight="bold" text-anchor="end" fill="#111" transform="rotate(-45 115.8 244.6)">T190</text>
<line x1="128" y1="231" x2="128" y2="234.5" stroke="#222" stroke-width="1.1"/>
<text x="134.4" y="244.6" font-size="13.1" font-weight="bold" text-anchor="end" fill="#111" transform="rotate(-45 134.4 244.6)">T260</text>
<line x1="151" y1="231" x2="151" y2="234.5" stroke="#222" stroke-width="1.1"/>
<text x="156.32" y="244.1" font-size="13.1" font-weight="bold" text-anchor="end" fill="#111" transform="rotate(-45 156.32 244.1)">T20</text>
<line x1="169.6" y1="231" x2="169.6" y2="234.5" stroke="#222" stroke-width="1.1"/>
<text x="174.92" y="244.1" font-size="13.1" font-weight="bold" text-anchor="end" fill="#111" transform="rotate(-45 174.92 244.1)">T80</text>
<line x1="188" y1="231" x2="188" y2="234.5" stroke="#222" stroke-width="1.1"/>
<text x="194.4" y="244.6" font-size="13.1" font-weight="bold" text-anchor="end" fill="#111" transform="rotate(-45 194.4 244.6)">T150</text>
<line x1="206.5" y1="231" x2="206.5" y2="234.5" stroke="#222" stroke-width="1.1"/>
<text x="212.9" y="244.6" font-size="13.1" font-weight="bold" text-anchor="end" fill="#111" transform="rotate(-45 212.9 244.6)">T210</text>
<line x1="225.2" y1="231" x2="225.2" y2="234.5" stroke="#222" stroke-width="1.1"/>
<text x="231.6" y="244.6" font-size="13.1" font-weight="bold" text-anchor="end" fill="#111" transform="rotate(-45 231.6 244.6)">T280</text>
<rect x="243.6" y="53.4" width="12" height="178.2" fill="url(#cb)" stroke="#333" stroke-width="1.1"/>
<line x1="243.6" y1="89" x2="245.2" y2="89" stroke="#223" stroke-width="1"/>
<line x1="254" y1="89" x2="255.6" y2="89" stroke="#223" stroke-width="1"/>
<text x="261" y="92" font-size="13.5" fill="#222">0.2</text>
<line x1="243.6" y1="158" x2="245.2" y2="158" stroke="#223" stroke-width="1"/>
<line x1="254" y1="158" x2="255.6" y2="158" stroke="#223" stroke-width="1"/>
<text x="261" y="161" font-size="13.5" fill="#222">0.4</text>
<line x1="243.6" y1="226.9" x2="245.2" y2="226.9" stroke="#223" stroke-width="1"/>
<line x1="254" y1="226.9" x2="255.6" y2="226.9" stroke="#223" stroke-width="1"/>
<text x="261" y="229.9" font-size="13.5" fill="#222">0.6</text>
<text x="241.6" y="246.9" font-size="13.3" fill="#222">OD</text>
<text x="261.2" y="251.5" font-size="7.9" fill="#5a5a5a">600</text>
<text x="11.3" y="145.2" font-size="13.5" font-weight="bold" text-anchor="middle" fill="#111" transform="rotate(-90 11.3 145.2)" textLength="158.5" lengthAdjust="spacingAndGlyphs">Time after infection (min)</text>
<text x="343.5" y="17" font-size="18.4" font-weight="bold" fill="#111">seszw</text>
<text x="407" y="16" font-size="13.7" fill="#111" textLength="95.3" lengthAdjust="spacingAndGlyphs">Strains (n=480)</text>
<text x="321.4" y="37.6" font-size="13.7" fill="#111" textLength="87.2" lengthAdjust="spacingAndGlyphs">Large plaques</text>
<text x="415.5" y="37.6" font-size="13.7" fill="#111" textLength="86.4" lengthAdjust="spacingAndGlyphs">Small plaques</text>
<g clip-path="url(#cpb)">
<rect x="318.8" y="49.6" width="182.2" height="182.7" fill="#fdfdff"/>
<g filter="url(#blb)">
<rect x="321.8" y="52.6" width="1.6" height="176.7" fill="url(#g117)"/>
<rect x="323.3" y="52.6" width="1.6" height="176.7" fill="url(#g118)"/>
<rect x="324.8" y="52.6" width="1.6" height="176.7" fill="url(#g119)"/>
<rect x="326.3" y="52.6" width="1.6" height="176.7" fill="url(#g120)"/>
<rect x="327.8" y="52.6" width="1.6" height="176.7" fill="url(#g121)"/>
<rect x="329.3" y="52.6" width="1.6" height="176.7" fill="url(#g122)"/>
<rect x="330.8" y="52.6" width="1.6" height="176.7" fill="url(#g123)"/>
<rect x="332.3" y="52.6" width="1.6" height="176.7" fill="url(#g124)"/>
<rect x="333.8" y="52.6" width="1.6" height="176.7" fill="url(#g125)"/>
<rect x="335.3" y="52.6" width="1.6" height="176.7" fill="url(#g126)"/>
<rect x="336.8" y="52.6" width="1.6" height="176.7" fill="url(#g127)"/>
<rect x="338.3" y="52.6" width="1.6" height="176.7" fill="url(#g128)"/>
<rect x="339.8" y="52.6" width="1.6" height="176.7" fill="url(#g129)"/>
<rect x="341.3" y="52.6" width="1.6" height="176.7" fill="url(#g130)"/>
<rect x="342.8" y="52.6" width="1.6" height="176.7" fill="url(#g131)"/>
<rect x="344.3" y="52.6" width="1.6" height="176.7" fill="url(#g132)"/>
<rect x="345.8" y="52.6" width="1.6" height="176.7" fill="url(#g133)"/>
<rect x="347.3" y="52.6" width="1.6" height="176.7" fill="url(#g134)"/>
<rect x="348.8" y="52.6" width="1.6" height="176.7" fill="url(#g135)"/>
<rect x="350.3" y="52.6" width="1.6" height="176.7" fill="url(#g136)"/>
<rect x="351.8" y="52.6" width="1.6" height="176.7" fill="url(#g137)"/>
<rect x="353.3" y="52.6" width="1.6" height="176.7" fill="url(#g138)"/>
<rect x="354.8" y="52.6" width="1.6" height="176.7" fill="url(#g139)"/>
<rect x="356.3" y="52.6" width="1.6" height="176.7" fill="url(#g140)"/>
<rect x="357.8" y="52.6" width="1.6" height="176.7" fill="url(#g141)"/>
<rect x="359.3" y="52.6" width="1.6" height="176.7" fill="url(#g142)"/>
<rect x="360.8" y="52.6" width="1.6" height="176.7" fill="url(#g143)"/>
<rect x="362.3" y="52.6" width="1.6" height="176.7" fill="url(#g144)"/>
<rect x="363.8" y="52.6" width="1.6" height="176.7" fill="url(#g145)"/>
<rect x="365.3" y="52.6" width="1.6" height="176.7" fill="url(#g146)"/>
<rect x="366.8" y="52.6" width="1.6" height="176.7" fill="url(#g147)"/>
<rect x="368.3" y="52.6" width="1.6" height="176.7" fill="url(#g148)"/>
<rect x="369.8" y="52.6" width="1.6" height="176.7" fill="url(#g149)"/>
<rect x="371.3" y="52.6" width="1.6" height="176.7" fill="url(#g150)"/>
<rect x="372.8" y="52.6" width="1.6" height="176.7" fill="url(#g151)"/>
<rect x="374.3" y="52.6" width="1.6" height="176.7" fill="url(#g152)"/>
<rect x="375.8" y="52.6" width="1.6" height="176.7" fill="url(#g153)"/>
<rect x="377.3" y="52.6" width="1.6" height="176.7" fill="url(#g154)"/>
<rect x="378.8" y="52.6" width="1.6" height="176.7" fill="url(#g155)"/>
<rect x="380.3" y="52.6" width="1.6" height="176.7" fill="url(#g156)"/>
<rect x="381.8" y="52.6" width="1.6" height="176.7" fill="url(#g157)"/>
<rect x="383.3" y="52.6" width="1.6" height="176.7" fill="url(#g158)"/>
<rect x="384.8" y="52.6" width="1.6" height="176.7" fill="url(#g159)"/>
<rect x="386.3" y="52.6" width="1.6" height="176.7" fill="url(#g160)"/>
<rect x="387.8" y="52.6" width="1.6" height="176.7" fill="url(#g161)"/>
<rect x="389.3" y="52.6" width="1.6" height="176.7" fill="url(#g162)"/>
<rect x="390.8" y="52.6" width="1.6" height="176.7" fill="url(#g163)"/>
<rect x="392.3" y="52.6" width="1.6" height="176.7" fill="url(#g164)"/>
<rect x="393.8" y="52.6" width="1.6" height="176.7" fill="url(#g165)"/>
<rect x="395.3" y="52.6" width="1.6" height="176.7" fill="url(#g166)"/>
<rect x="396.8" y="52.6" width="1.6" height="176.7" fill="url(#g167)"/>
<rect x="398.3" y="52.6" width="1.6" height="176.7" fill="url(#g168)"/>
<rect x="399.8" y="52.6" width="1.6" height="176.7" fill="url(#g169)"/>
<rect x="401.3" y="52.6" width="1.6" height="176.7" fill="url(#g170)"/>
<rect x="402.8" y="52.6" width="1.6" height="176.7" fill="url(#g171)"/>
<rect x="404.3" y="52.6" width="1.6" height="176.7" fill="url(#g172)"/>
<rect x="405.8" y="52.6" width="1.6" height="176.7" fill="url(#g173)"/>
<rect x="411.8" y="52.6" width="1.6" height="176.7" fill="url(#g174)"/>
<rect x="413.3" y="52.6" width="1.6" height="176.7" fill="url(#g175)"/>
<rect x="414.8" y="52.6" width="1.6" height="176.7" fill="url(#g176)"/>
<rect x="416.3" y="52.6" width="1.6" height="176.7" fill="url(#g177)"/>
<rect x="417.8" y="52.6" width="1.6" height="176.7" fill="url(#g178)"/>
<rect x="419.3" y="52.6" width="1.6" height="176.7" fill="url(#g179)"/>
<rect x="420.8" y="52.6" width="1.6" height="176.7" fill="url(#g180)"/>
<rect x="422.3" y="52.6" width="1.6" height="176.7" fill="url(#g181)"/>
<rect x="423.8" y="52.6" width="1.6" height="176.7" fill="url(#g182)"/>
<rect x="425.3" y="52.6" width="1.6" height="176.7" fill="url(#g183)"/>
<rect x="426.8" y="52.6" width="1.6" height="176.7" fill="url(#g184)"/>
<rect x="428.3" y="52.6" width="1.6" height="176.7" fill="url(#g185)"/>
<rect x="429.8" y="52.6" width="1.6" height="176.7" fill="url(#g186)"/>
<rect x="431.3" y="52.6" width="1.6" height="176.7" fill="url(#g187)"/>
<rect x="432.8" y="52.6" width="1.6" height="176.7" fill="url(#g188)"/>
<rect x="434.3" y="52.6" width="1.6" height="176.7" fill="url(#g189)"/>
<rect x="435.8" y="52.6" width="1.6" height="176.7" fill="url(#g190)"/>
<rect x="437.3" y="52.6" width="1.6" height="176.7" fill="url(#g191)"/>
<rect x="438.8" y="52.6" width="1.6" height="176.7" fill="url(#g192)"/>
<rect x="440.3" y="52.6" width="1.6" height="176.7" fill="url(#g193)"/>
<rect x="441.8" y="52.6" width="1.6" height="176.7" fill="url(#g194)"/>
<rect x="443.3" y="52.6" width="1.6" height="176.7" fill="url(#g195)"/>
<rect x="444.8" y="52.6" width="1.6" height="176.7" fill="url(#g196)"/>
<rect x="446.3" y="52.6" width="1.6" height="176.7" fill="url(#g197)"/>
<rect x="447.8" y="52.6" width="1.6" height="176.7" fill="url(#g198)"/>
<rect x="449.3" y="52.6" width="1.6" height="176.7" fill="url(#g199)"/>
<rect x="450.8" y="52.6" width="1.6" height="176.7" fill="url(#g200)"/>
<rect x="452.3" y="52.6" width="1.6" height="176.7" fill="url(#g201)"/>
<rect x="453.8" y="52.6" width="1.6" height="176.7" fill="url(#g202)"/>
<rect x="455.3" y="52.6" width="1.6" height="176.7" fill="url(#g203)"/>
<rect x="456.8" y="52.6" width="1.6" height="176.7" fill="url(#g204)"/>
<rect x="458.3" y="52.6" width="1.6" height="176.7" fill="url(#g205)"/>
<rect x="459.8" y="52.6" width="1.6" height="176.7" fill="url(#g206)"/>
<rect x="461.3" y="52.6" width="1.6" height="176.7" fill="url(#g207)"/>
<rect x="462.8" y="52.6" width="1.6" height="176.7" fill="url(#g208)"/>
<rect x="464.3" y="52.6" width="1.6" height="176.7" fill="url(#g209)"/>
<rect x="465.8" y="52.6" width="1.6" height="176.7" fill="url(#g210)"/>
<rect x="467.3" y="52.6" width="1.6" height="176.7" fill="url(#g211)"/>
<rect x="468.8" y="52.6" width="1.6" height="176.7" fill="url(#g212)"/>
<rect x="470.3" y="52.6" width="1.6" height="176.7" fill="url(#g213)"/>
<rect x="471.8" y="52.6" width="1.6" height="176.7" fill="url(#g214)"/>
<rect x="473.3" y="52.6" width="1.6" height="176.7" fill="url(#g215)"/>
<rect x="474.8" y="52.6" width="1.6" height="176.7" fill="url(#g216)"/>
<rect x="476.3" y="52.6" width="1.6" height="176.7" fill="url(#g217)"/>
<rect x="477.8" y="52.6" width="1.6" height="176.7" fill="url(#g218)"/>
<rect x="479.3" y="52.6" width="1.6" height="176.7" fill="url(#g219)"/>
<rect x="480.8" y="52.6" width="1.6" height="176.7" fill="url(#g220)"/>
<rect x="482.3" y="52.6" width="1.6" height="176.7" fill="url(#g221)"/>
<rect x="483.8" y="52.6" width="1.6" height="176.7" fill="url(#g222)"/>
<rect x="485.3" y="52.6" width="1.6" height="176.7" fill="url(#g223)"/>
<rect x="486.8" y="52.6" width="1.6" height="176.7" fill="url(#g224)"/>
<rect x="488.3" y="52.6" width="1.6" height="176.7" fill="url(#g225)"/>
<rect x="489.8" y="52.6" width="1.6" height="176.7" fill="url(#g226)"/>
<rect x="491.3" y="52.6" width="1.6" height="176.7" fill="url(#g227)"/>
<rect x="492.8" y="52.6" width="1.6" height="176.7" fill="url(#g228)"/>
<rect x="494.3" y="52.6" width="1.6" height="176.7" fill="url(#g229)"/>
<rect x="495.8" y="52.6" width="1.6" height="176.7" fill="url(#g230)"/>
<rect x="497.3" y="52.6" width="0.8" height="176.7" fill="url(#g231)"/>
</g></g>
<rect x="406.9" y="52.6" width="1.1" height="176.7" fill="#fff"/>
<rect x="408.0" y="52.6" width="1.9" height="176.7" fill="#6a6a6a"/>
<rect x="409.9" y="52.6" width="1.3" height="176.7" fill="#fff"/>
<rect x="321.8" y="52.6" width="176.2" height="176.7" fill="none" stroke="#222" stroke-width="1.1"/>
<line x1="318.8" y1="227.8" x2="321.8" y2="227.8" stroke="#222" stroke-width="1.1"/>
<text x="304" y="232.5" font-size="13.1" font-weight="bold" text-anchor="middle" fill="#111">0</text>
<line x1="318.8" y1="202.94" x2="321.8" y2="202.94" stroke="#222" stroke-width="1.1"/>
<text x="303.9" y="207.64" font-size="13.1" font-weight="bold" text-anchor="middle" fill="#111">60</text>
<line x1="318.8" y1="178.08" x2="321.8" y2="178.08" stroke="#222" stroke-width="1.1"/>
<text x="303.4" y="182.78" font-size="13.1" font-weight="bold" text-anchor="middle" fill="#111">120</text>
<line x1="318.8" y1="153.22" x2="321.8" y2="153.22" stroke="#222" stroke-width="1.1"/>
<text x="303.4" y="157.92" font-size="13.1" font-weight="bold" text-anchor="middle" fill="#111">180</text>
<line x1="318.8" y1="128.36" x2="321.8" y2="128.36" stroke="#222" stroke-width="1.1"/>
<text x="303.4" y="133.06" font-size="13.1" font-weight="bold" text-anchor="middle" fill="#111">240</text>
<line x1="318.8" y1="103.5" x2="321.8" y2="103.5" stroke="#222" stroke-width="1.1"/>
<text x="303.4" y="108.2" font-size="13.1" font-weight="bold" text-anchor="middle" fill="#111">300</text>
<line x1="318.8" y1="78.64" x2="321.8" y2="78.64" stroke="#222" stroke-width="1.1"/>
<text x="303.4" y="83.34" font-size="13.1" font-weight="bold" text-anchor="middle" fill="#111">360</text>
<line x1="318.8" y1="53.78" x2="321.8" y2="53.78" stroke="#222" stroke-width="1.1"/>
<text x="303.4" y="58.48" font-size="13.1" font-weight="bold" text-anchor="middle" fill="#111">420</text>
<line x1="322.1" y1="229.3" x2="322.1" y2="232.8" stroke="#222" stroke-width="1.1"/>
<text x="327.7" y="243.5" font-size="13.1" font-weight="bold" text-anchor="end" fill="#111" transform="rotate(-45 327.7 243.5)">WT</text>
<line x1="341.6" y1="229.3" x2="341.6" y2="232.8" stroke="#222" stroke-width="1.1"/>
<text x="347.92" y="244" font-size="13.1" font-weight="bold" text-anchor="end" fill="#111" transform="rotate(-45 347.92 244)">T60</text>
<line x1="361.3" y1="229.3" x2="361.3" y2="232.8" stroke="#222" stroke-width="1.1"/>
<text x="368.7" y="244.5" font-size="13.1" font-weight="bold" text-anchor="end" fill="#111" transform="rotate(-45 368.7 244.5)">T130</text>
<line x1="381.3" y1="229.3" x2="381.3" y2="232.8" stroke="#222" stroke-width="1.1"/>
<text x="388.7" y="244.5" font-size="13.1" font-weight="bold" text-anchor="end" fill="#111" transform="rotate(-45 388.7 244.5)">T200</text>
<line x1="400.8" y1="229.3" x2="400.8" y2="232.8" stroke="#222" stroke-width="1.1"/>
<text x="406.6" y="244.5" font-size="13.1" font-weight="bold" text-anchor="end" fill="#111" transform="rotate(-45 406.6 244.5)">T280</text>
<line x1="415.4" y1="229.3" x2="415.4" y2="232.8" stroke="#222" stroke-width="1.1"/>
<text x="421.72" y="244" font-size="13.1" font-weight="bold" text-anchor="end" fill="#111" transform="rotate(-45 421.72 244)">T20</text>
<line x1="435.3" y1="229.3" x2="435.3" y2="232.8" stroke="#222" stroke-width="1.1"/>
<text x="441.62" y="244" font-size="13.1" font-weight="bold" text-anchor="end" fill="#111" transform="rotate(-45 441.62 244)">T90</text>
<line x1="455.4" y1="229.3" x2="455.4" y2="232.8" stroke="#222" stroke-width="1.1"/>
<text x="462.8" y="244.5" font-size="13.1" font-weight="bold" text-anchor="end" fill="#111" transform="rotate(-45 462.8 244.5)">T160</text>
<line x1="475.2" y1="229.3" x2="475.2" y2="232.8" stroke="#222" stroke-width="1.1"/>
<text x="482.6" y="244.5" font-size="13.1" font-weight="bold" text-anchor="end" fill="#111" transform="rotate(-45 482.6 244.5)">T230</text>
<line x1="495.2" y1="229.3" x2="495.2" y2="232.8" stroke="#222" stroke-width="1.1"/>
<text x="502.6" y="244.5" font-size="13.1" font-weight="bold" text-anchor="end" fill="#111" transform="rotate(-45 502.6 244.5)">T300</text>
<rect x="509.4" y="53.4" width="11.4" height="176" fill="url(#cb)" stroke="#333" stroke-width="1.1"/>
<line x1="509.4" y1="76.5" x2="511" y2="76.5" stroke="#223" stroke-width="1"/>
<line x1="519.2" y1="76.5" x2="520.8" y2="76.5" stroke="#223" stroke-width="1"/>
<text x="526.5" y="79.5" font-size="13.5" fill="#222">0.2</text>
<line x1="509.4" y1="121.3" x2="511" y2="121.3" stroke="#223" stroke-width="1"/>
<line x1="519.2" y1="121.3" x2="520.8" y2="121.3" stroke="#223" stroke-width="1"/>
<text x="526.5" y="124.3" font-size="13.5" fill="#222">0.4</text>
<line x1="509.4" y1="166" x2="511" y2="166" stroke="#223" stroke-width="1"/>
<line x1="519.2" y1="166" x2="520.8" y2="166" stroke="#223" stroke-width="1"/>
<text x="526.5" y="169" font-size="13.5" fill="#222">0.6</text>
<line x1="509.4" y1="210.7" x2="511" y2="210.7" stroke="#223" stroke-width="1"/>
<line x1="519.2" y1="210.7" x2="520.8" y2="210.7" stroke="#223" stroke-width="1"/>
<text x="526.5" y="213.7" font-size="13.5" fill="#222">0.8</text>
<text x="506.4" y="247.7" font-size="13.3" fill="#222">OD</text>
<text x="526" y="252.3" font-size="7.9" fill="#5a5a5a">600</text>
<text x="609.3" y="17" font-size="17.5" font-weight="bold" fill="#111">T4</text>
<text x="641" y="16" font-size="13.7" fill="#111" textLength="87.6" lengthAdjust="spacingAndGlyphs">Strains (n=48)</text>
<text x="631.4" y="37.6" font-size="13.7" fill="#111" textLength="87.2" lengthAdjust="spacingAndGlyphs">Large plaques</text>
<g clip-path="url(#cpc)">
<rect x="584.2" y="49.6" width="175.3" height="180.1" fill="#f3f3ff"/>
<g filter="url(#blc)">
<rect x="587" y="52.6" width="3.93" height="174.1" fill="url(#g232)"/>
<rect x="590.53" y="52.6" width="3.93" height="174.1" fill="url(#g233)"/>
<rect x="594.05" y="52.6" width="3.93" height="174.1" fill="url(#g234)"/>
<rect x="597.58" y="52.6" width="3.93" height="174.1" fill="url(#g235)"/>
<rect x="601.11" y="52.6" width="3.93" height="174.1" fill="url(#g236)"/>
<rect x="604.64" y="52.6" width="3.93" height="174.1" fill="url(#g237)"/>
<rect x="608.16" y="52.6" width="3.93" height="174.1" fill="url(#g238)"/>
<rect x="611.69" y="52.6" width="3.93" height="174.1" fill="url(#g239)"/>
<rect x="615.22" y="52.6" width="3.93" height="174.1" fill="url(#g240)"/>
<rect x="618.74" y="52.6" width="3.93" height="174.1" fill="url(#g241)"/>
<rect x="622.27" y="52.6" width="3.93" height="174.1" fill="url(#g242)"/>
<rect x="625.8" y="52.6" width="3.93" height="174.1" fill="url(#g243)"/>
<rect x="629.33" y="52.6" width="3.93" height="174.1" fill="url(#g244)"/>
<rect x="632.85" y="52.6" width="3.93" height="174.1" fill="url(#g245)"/>
<rect x="636.38" y="52.6" width="3.93" height="174.1" fill="url(#g246)"/>
<rect x="639.91" y="52.6" width="3.93" height="174.1" fill="url(#g247)"/>
<rect x="643.43" y="52.6" width="3.93" height="174.1" fill="url(#g248)"/>
<rect x="646.96" y="52.6" width="3.93" height="174.1" fill="url(#g249)"/>
<rect x="650.49" y="52.6" width="3.93" height="174.1" fill="url(#g250)"/>
<rect x="654.01" y="52.6" width="3.93" height="174.1" fill="url(#g251)"/>
<rect x="657.54" y="52.6" width="3.93" height="174.1" fill="url(#g252)"/>
<rect x="661.07" y="52.6" width="3.93" height="174.1" fill="url(#g253)"/>
<rect x="664.6" y="52.6" width="3.93" height="174.1" fill="url(#g254)"/>
<rect x="668.12" y="52.6" width="3.93" height="174.1" fill="url(#g255)"/>
<rect x="671.65" y="52.6" width="3.93" height="174.1" fill="url(#g256)"/>
<rect x="675.18" y="52.6" width="3.93" height="174.1" fill="url(#g257)"/>
<rect x="678.7" y="52.6" width="3.93" height="174.1" fill="url(#g258)"/>
<rect x="682.23" y="52.6" width="3.93" height="174.1" fill="url(#g259)"/>
<rect x="685.76" y="52.6" width="3.93" height="174.1" fill="url(#g260)"/>
<rect x="689.29" y="52.6" width="3.93" height="174.1" fill="url(#g261)"/>
<rect x="692.81" y="52.6" width="3.93" height="174.1" fill="url(#g262)"/>
<rect x="696.34" y="52.6" width="3.93" height="174.1" fill="url(#g263)"/>
<rect x="699.87" y="52.6" width="3.93" height="174.1" fill="url(#g264)"/>
<rect x="703.39" y="52.6" width="3.93" height="174.1" fill="url(#g265)"/>
<rect x="706.92" y="52.6" width="3.93" height="174.1" fill="url(#g266)"/>
<rect x="710.45" y="52.6" width="3.93" height="174.1" fill="url(#g267)"/>
<rect x="713.97" y="52.6" width="3.93" height="174.1" fill="url(#g268)"/>
<rect x="717.5" y="52.6" width="3.93" height="174.1" fill="url(#g269)"/>
<rect x="721.03" y="52.6" width="3.93" height="174.1" fill="url(#g270)"/>
<rect x="724.56" y="52.6" width="3.93" height="174.1" fill="url(#g271)"/>
<rect x="728.08" y="52.6" width="3.93" height="174.1" fill="url(#g272)"/>
<rect x="731.61" y="52.6" width="3.93" height="174.1" fill="url(#g273)"/>
<rect x="735.14" y="52.6" width="3.93" height="174.1" fill="url(#g274)"/>
<rect x="738.66" y="52.6" width="3.93" height="174.1" fill="url(#g275)"/>
<rect x="742.19" y="52.6" width="3.93" height="174.1" fill="url(#g276)"/>
<rect x="745.72" y="52.6" width="3.93" height="174.1" fill="url(#g277)"/>
<rect x="749.25" y="52.6" width="3.93" height="174.1" fill="url(#g278)"/>
<rect x="752.77" y="52.6" width="3.93" height="174.1" fill="url(#g279)"/>
</g></g>
<rect x="587.2" y="52.6" width="169.3" height="174.1" fill="none" stroke="#222" stroke-width="1.1"/>
<line x1="582.1" y1="218.1" x2="587.2" y2="218.1" stroke="#222" stroke-width="1.1"/>
<text x="569.1" y="222.8" font-size="13.1" font-weight="bold" text-anchor="middle" fill="#111">10</text>
<line x1="582.1" y1="190.77" x2="587.2" y2="190.77" stroke="#222" stroke-width="1.1"/>
<text x="569.1" y="195.47" font-size="13.1" font-weight="bold" text-anchor="middle" fill="#111">50</text>
<line x1="582.1" y1="163.44" x2="587.2" y2="163.44" stroke="#222" stroke-width="1.1"/>
<text x="569.1" y="168.14" font-size="13.1" font-weight="bold" text-anchor="middle" fill="#111">90</text>
<line x1="582.1" y1="136.11" x2="587.2" y2="136.11" stroke="#222" stroke-width="1.1"/>
<text x="567.7" y="140.81" font-size="13.1" font-weight="bold" text-anchor="middle" fill="#111">130</text>
<line x1="582.1" y1="108.78" x2="587.2" y2="108.78" stroke="#222" stroke-width="1.1"/>
<text x="567.7" y="113.48" font-size="13.1" font-weight="bold" text-anchor="middle" fill="#111">170</text>
<line x1="582.1" y1="81.45" x2="587.2" y2="81.45" stroke="#222" stroke-width="1.1"/>
<text x="567.7" y="86.15" font-size="13.1" font-weight="bold" text-anchor="middle" fill="#111">210</text>
<line x1="582.1" y1="54.12" x2="587.2" y2="54.12" stroke="#222" stroke-width="1.1"/>
<text x="567.7" y="58.82" font-size="13.1" font-weight="bold" text-anchor="middle" fill="#111">250</text>
<line x1="588.5" y1="226.7" x2="588.5" y2="232.4" stroke="#222" stroke-width="1.1"/>
<text x="596" y="243.4" font-size="13.1" font-weight="bold" text-anchor="end" fill="#111" transform="rotate(-45 596 243.4)">WT</text>
<line x1="604.3" y1="226.7" x2="604.3" y2="232.4" stroke="#222" stroke-width="1.1"/>
<text x="611.8" y="243.4" font-size="13.1" font-weight="bold" text-anchor="end" fill="#111" transform="rotate(-45 611.8 243.4)">WT</text>
<line x1="620.1" y1="226.7" x2="620.1" y2="232.4" stroke="#222" stroke-width="1.1"/>
<text x="631" y="244" font-size="13.1" font-weight="bold" text-anchor="end" fill="#111" transform="rotate(-45 631 244)">T100</text>
<line x1="635.9" y1="226.7" x2="635.9" y2="232.4" stroke="#222" stroke-width="1.1"/>
<text x="646.8" y="244" font-size="13.1" font-weight="bold" text-anchor="end" fill="#111" transform="rotate(-45 646.8 244)">T100</text>
<line x1="651.7" y1="226.7" x2="651.7" y2="232.4" stroke="#222" stroke-width="1.1"/>
<text x="662.6" y="244" font-size="13.1" font-weight="bold" text-anchor="end" fill="#111" transform="rotate(-45 662.6 244)">T300</text>
<line x1="667.5" y1="226.7" x2="667.5" y2="232.4" stroke="#222" stroke-width="1.1"/>
<text x="678.4" y="244" font-size="13.1" font-weight="bold" text-anchor="end" fill="#111" transform="rotate(-45 678.4 244)">T300</text>
<line x1="683.3" y1="226.7" x2="683.3" y2="232.4" stroke="#222" stroke-width="1.1"/>
<text x="694.2" y="244" font-size="13.1" font-weight="bold" text-anchor="end" fill="#111" transform="rotate(-45 694.2 244)">T400</text>
<line x1="699.1" y1="226.7" x2="699.1" y2="232.4" stroke="#222" stroke-width="1.1"/>
<text x="710" y="244" font-size="13.1" font-weight="bold" text-anchor="end" fill="#111" transform="rotate(-45 710 244)">T400</text>
<line x1="714.9" y1="226.7" x2="714.9" y2="232.4" stroke="#222" stroke-width="1.1"/>
<text x="725.8" y="244" font-size="13.1" font-weight="bold" text-anchor="end" fill="#111" transform="rotate(-45 725.8 244)">T500</text>
<line x1="730.7" y1="226.7" x2="730.7" y2="232.4" stroke="#222" stroke-width="1.1"/>
<text x="741.6" y="244" font-size="13.1" font-weight="bold" text-anchor="end" fill="#111" transform="rotate(-45 741.6 244)">T610</text>
<line x1="746.5" y1="226.7" x2="746.5" y2="232.4" stroke="#222" stroke-width="1.1"/>
<text x="757.4" y="244" font-size="13.1" font-weight="bold" text-anchor="end" fill="#111" transform="rotate(-45 757.4 244)">T610</text>
<rect x="770.6" y="53.4" width="12" height="173.4" fill="url(#cb)" stroke="#333" stroke-width="1.1"/>
<line x1="770.6" y1="96.5" x2="772.2" y2="96.5" stroke="#223" stroke-width="1"/>
<line x1="781" y1="96.5" x2="782.6" y2="96.5" stroke="#223" stroke-width="1"/>
<text x="789.3" y="101.4" font-size="13.5" fill="#222">0.15</text>
<line x1="770.6" y1="141.5" x2="772.2" y2="141.5" stroke="#223" stroke-width="1"/>
<line x1="781" y1="141.5" x2="782.6" y2="141.5" stroke="#223" stroke-width="1"/>
<text x="789.3" y="146.4" font-size="13.5" fill="#222">0.20</text>
<line x1="770.6" y1="186.5" x2="772.2" y2="186.5" stroke="#223" stroke-width="1"/>
<line x1="781" y1="186.5" x2="782.6" y2="186.5" stroke="#223" stroke-width="1"/>
<text x="789.3" y="191.4" font-size="13.5" fill="#222">0.25</text>
<text x="769.2" y="248" font-size="13.3" fill="#222">OD</text>
<text x="788.8" y="252.6" font-size="7.9" fill="#5a5a5a">600</text>
<text x="877.2" y="17" font-size="18.4" font-weight="bold" fill="#111">selz</text>
<text x="925.6" y="16" font-size="13.7" fill="#111" textLength="87.6" lengthAdjust="spacingAndGlyphs">Strains (n=48)</text>
<text x="899.8" y="37.6" font-size="13.7" fill="#111" textLength="87.2" lengthAdjust="spacingAndGlyphs">Large plaques</text>
<g clip-path="url(#cpd)">
<rect x="852.6" y="50" width="175.9" height="179.9" fill="#e8e8ff"/>
<g filter="url(#bld)">
<rect x="855.4" y="53" width="5.55" height="173.9" fill="url(#g280)"/>
<rect x="860.55" y="53" width="5.55" height="173.9" fill="url(#g281)"/>
<rect x="865.7" y="53" width="5.55" height="173.9" fill="url(#g282)"/>
<rect x="870.85" y="53" width="5.55" height="173.9" fill="url(#g283)"/>
<rect x="875.99" y="53" width="5.55" height="173.9" fill="url(#g284)"/>
<rect x="881.14" y="53" width="5.55" height="173.9" fill="url(#g285)"/>
<rect x="886.29" y="53" width="5.55" height="173.9" fill="url(#g286)"/>
<rect x="891.44" y="53" width="5.55" height="173.9" fill="url(#g287)"/>
<rect x="896.59" y="53" width="5.55" height="173.9" fill="url(#g288)"/>
<rect x="901.74" y="53" width="5.55" height="173.9" fill="url(#g289)"/>
<rect x="906.88" y="53" width="5.55" height="173.9" fill="url(#g290)"/>
<rect x="912.03" y="53" width="5.55" height="173.9" fill="url(#g291)"/>
<rect x="917.18" y="53" width="5.55" height="173.9" fill="url(#g292)"/>
<rect x="922.33" y="53" width="5.55" height="173.9" fill="url(#g293)"/>
<rect x="927.48" y="53" width="5.55" height="173.9" fill="url(#g294)"/>
<rect x="932.63" y="53" width="5.55" height="173.9" fill="url(#g295)"/>
<rect x="937.78" y="53" width="5.55" height="173.9" fill="url(#g296)"/>
<rect x="942.92" y="53" width="5.55" height="173.9" fill="url(#g297)"/>
<rect x="948.07" y="53" width="5.55" height="173.9" fill="url(#g298)"/>
<rect x="953.22" y="53" width="5.55" height="173.9" fill="url(#g299)"/>
<rect x="958.37" y="53" width="5.55" height="173.9" fill="url(#g300)"/>
<rect x="963.52" y="53" width="5.55" height="173.9" fill="url(#g301)"/>
<rect x="968.67" y="53" width="5.55" height="173.9" fill="url(#g302)"/>
<rect x="973.82" y="53" width="5.55" height="173.9" fill="url(#g303)"/>
<rect x="978.96" y="53" width="5.55" height="173.9" fill="url(#g304)"/>
<rect x="984.11" y="53" width="5.55" height="173.9" fill="url(#g305)"/>
<rect x="989.26" y="53" width="5.55" height="173.9" fill="url(#g306)"/>
<rect x="994.41" y="53" width="5.55" height="173.9" fill="url(#g307)"/>
<rect x="999.56" y="53" width="5.55" height="173.9" fill="url(#g308)"/>
<rect x="1004.71" y="53" width="5.55" height="173.9" fill="url(#g309)"/>
<rect x="1009.85" y="53" width="5.55" height="173.9" fill="url(#g310)"/>
<rect x="1015" y="53" width="5.55" height="173.9" fill="url(#g311)"/>
<rect x="1020.15" y="53" width="5.55" height="173.9" fill="url(#g312)"/>
</g></g>
<rect x="855.6" y="53" width="169.9" height="173.9" fill="none" stroke="#222" stroke-width="1.1"/>
<line x1="850.5" y1="226" x2="855.6" y2="226" stroke="#222" stroke-width="1.1"/>
<text x="839.8" y="230.7" font-size="13.1" font-weight="bold" text-anchor="middle" fill="#111">0</text>
<line x1="850.5" y1="201.46" x2="855.6" y2="201.46" stroke="#222" stroke-width="1.1"/>
<text x="838.5" y="206.16" font-size="13.1" font-weight="bold" text-anchor="middle" fill="#111">50</text>
<line x1="850.5" y1="176.92" x2="855.6" y2="176.92" stroke="#222" stroke-width="1.1"/>
<text x="837.5" y="181.62" font-size="13.1" font-weight="bold" text-anchor="middle" fill="#111">100</text>
<line x1="850.5" y1="152.38" x2="855.6" y2="152.38" stroke="#222" stroke-width="1.1"/>
<text x="837.5" y="157.08" font-size="13.1" font-weight="bold" text-anchor="middle" fill="#111">150</text>
<line x1="850.5" y1="127.84" x2="855.6" y2="127.84" stroke="#222" stroke-width="1.1"/>
<text x="837.5" y="132.54" font-size="13.1" font-weight="bold" text-anchor="middle" fill="#111">200</text>
<line x1="850.5" y1="103.3" x2="855.6" y2="103.3" stroke="#222" stroke-width="1.1"/>
<text x="837.5" y="108" font-size="13.1" font-weight="bold" text-anchor="middle" fill="#111">250</text>
<line x1="850.5" y1="78.76" x2="855.6" y2="78.76" stroke="#222" stroke-width="1.1"/>
<text x="837.5" y="83.46" font-size="13.1" font-weight="bold" text-anchor="middle" fill="#111">300</text>
<line x1="850.5" y1="54.22" x2="855.6" y2="54.22" stroke="#222" stroke-width="1.1"/>
<text x="837.5" y="58.92" font-size="13.1" font-weight="bold" text-anchor="middle" fill="#111">350</text>
<line x1="858" y1="226.9" x2="858" y2="232.6" stroke="#222" stroke-width="1.1"/>
<text x="868.2" y="243.3" font-size="13.1" font-weight="bold" text-anchor="end" fill="#111" transform="rotate(-45 868.2 243.3)">WT</text>
<line x1="878.58" y1="226.9" x2="878.58" y2="232.6" stroke="#222" stroke-width="1.1"/>
<text x="888.23" y="243.3" font-size="13.1" font-weight="bold" text-anchor="end" fill="#111" transform="rotate(-45 888.23 243.3)">WT</text>
<line x1="899.16" y1="226.9" x2="899.16" y2="232.6" stroke="#222" stroke-width="1.1"/>
<text x="910.06" y="244.3" font-size="13.1" font-weight="bold" text-anchor="end" fill="#111" transform="rotate(-45 910.06 244.3)">T100</text>
<line x1="919.74" y1="226.9" x2="919.74" y2="232.6" stroke="#222" stroke-width="1.1"/>
<text x="930.09" y="244.3" font-size="13.1" font-weight="bold" text-anchor="end" fill="#111" transform="rotate(-45 930.09 244.3)">T200</text>
<line x1="940.32" y1="226.9" x2="940.32" y2="232.6" stroke="#222" stroke-width="1.1"/>
<text x="950.12" y="244.3" font-size="13.1" font-weight="bold" text-anchor="end" fill="#111" transform="rotate(-45 950.12 244.3)">T200</text>
<line x1="960.9" y1="226.9" x2="960.9" y2="232.6" stroke="#222" stroke-width="1.1"/>
<text x="970.15" y="244.3" font-size="13.1" font-weight="bold" text-anchor="end" fill="#111" transform="rotate(-45 970.15 244.3)">T300</text>
<line x1="981.48" y1="226.9" x2="981.48" y2="232.6" stroke="#222" stroke-width="1.1"/>
<text x="990.18" y="244.3" font-size="13.1" font-weight="bold" text-anchor="end" fill="#111" transform="rotate(-45 990.18 244.3)">T300</text>
<line x1="1002.06" y1="226.9" x2="1002.06" y2="232.6" stroke="#222" stroke-width="1.1"/>
<text x="1010.21" y="244.3" font-size="13.1" font-weight="bold" text-anchor="end" fill="#111" transform="rotate(-45 1010.21 244.3)">T400</text>
<line x1="1022.64" y1="226.9" x2="1022.64" y2="232.6" stroke="#222" stroke-width="1.1"/>
<text x="1030.24" y="244.3" font-size="13.1" font-weight="bold" text-anchor="end" fill="#111" transform="rotate(-45 1030.24 244.3)">T400</text>
<rect x="1042" y="53.4" width="12" height="173.8" fill="url(#cb)" stroke="#333" stroke-width="1.1"/>
<line x1="1042" y1="72.5" x2="1043.6" y2="72.5" stroke="#223" stroke-width="1"/>
<line x1="1052.4" y1="72.5" x2="1054" y2="72.5" stroke="#223" stroke-width="1"/>
<text x="1060.4" y="77.7" font-size="13.5" fill="#222">0.2</text>
<line x1="1042" y1="124" x2="1043.6" y2="124" stroke="#223" stroke-width="1"/>
<line x1="1052.4" y1="124" x2="1054" y2="124" stroke="#223" stroke-width="1"/>
<text x="1060.4" y="129.2" font-size="13.5" fill="#222">0.4</text>
<line x1="1042" y1="175.5" x2="1043.6" y2="175.5" stroke="#223" stroke-width="1"/>
<line x1="1052.4" y1="175.5" x2="1054" y2="175.5" stroke="#223" stroke-width="1"/>
<text x="1060.4" y="180.7" font-size="13.5" fill="#222">0.6</text>
<line x1="1042" y1="227.2" x2="1043.6" y2="227.2" stroke="#223" stroke-width="1"/>
<line x1="1052.4" y1="227.2" x2="1054" y2="227.2" stroke="#223" stroke-width="1"/>
<text x="1060.4" y="232.4" font-size="13.5" fill="#222">0.8</text>
<text x="1041.6" y="255.2" font-size="13.3" fill="#222">OD</text>
<text x="1061.2" y="259.8" font-size="7.9" fill="#5a5a5a">600</text>
<text x="123.6" y="357.6" font-size="17.45" font-weight="bold" fill="#111">T7_100_t2</text>
<line x1="98.3" y1="550.25" x2="98.3" y2="539.5" stroke="#111" stroke-width="2.1"/>
<line x1="93.4" y1="539.5" x2="103.2" y2="539.5" stroke="#111" stroke-width="2.1"/>
<rect x="89.7" y="550.25" width="17.2" height="87.75" fill="#a2a2a9" stroke="#111" stroke-width="2.1"/>
<line x1="128.2" y1="606.49" x2="128.2" y2="597.62" stroke="#111" stroke-width="2.1"/>
<line x1="123.3" y1="597.62" x2="133.1" y2="597.62" stroke="#111" stroke-width="2.1"/>
<rect x="119.6" y="606.49" width="17.2" height="31.51" fill="#818181" stroke="#111" stroke-width="2.1"/>
<line x1="158" y1="618.19" x2="158" y2="611.39" stroke="#111" stroke-width="2.1"/>
<line x1="153.1" y1="611.39" x2="162.9" y2="611.39" stroke="#111" stroke-width="2.1"/>
<rect x="149.4" y="618.19" width="17.2" height="19.81" fill="#d6d6d6" stroke="#111" stroke-width="2.1"/>
<line x1="187.8" y1="605.92" x2="187.8" y2="602.52" stroke="#111" stroke-width="2.1"/>
<line x1="182.9" y1="602.52" x2="192.7" y2="602.52" stroke="#111" stroke-width="2.1"/>
<rect x="179.2" y="605.92" width="17.2" height="32.08" fill="#818181" stroke="#111" stroke-width="2.1"/>
<line x1="217.6" y1="604.22" x2="217.6" y2="594.03" stroke="#111" stroke-width="2.1"/>
<line x1="212.7" y1="594.03" x2="222.5" y2="594.03" stroke="#111" stroke-width="2.1"/>
<rect x="209" y="604.22" width="17.2" height="33.78" fill="#a2a2a9" stroke="#111" stroke-width="2.1"/>
<line x1="247.5" y1="627.06" x2="247.5" y2="603.28" stroke="#111" stroke-width="2.1"/>
<line x1="242.6" y1="603.28" x2="252.4" y2="603.28" stroke="#111" stroke-width="2.1"/>
<rect x="238.9" y="627.06" width="17.2" height="10.94" fill="#000" stroke="#111" stroke-width="2.1"/>
<line x1="78.8" y1="448.2" x2="78.8" y2="639.1" stroke="#111" stroke-width="2.2"/>
<line x1="70.8" y1="638" x2="268.3" y2="638" stroke="#111" stroke-width="2.2"/>
<text x="67" y="642.8" font-size="13.2" font-weight="bold" text-anchor="end" fill="#111">0</text>
<line x1="70.8" y1="590.83" x2="78.8" y2="590.83" stroke="#111" stroke-width="2.2"/>
<text x="67" y="595.62" font-size="13.2" font-weight="bold" text-anchor="end" fill="#111">25</text>
<line x1="70.8" y1="543.65" x2="78.8" y2="543.65" stroke="#111" stroke-width="2.2"/>
<text x="67" y="548.45" font-size="13.2" font-weight="bold" text-anchor="end" fill="#111">50</text>
<line x1="70.8" y1="496.48" x2="78.8" y2="496.48" stroke="#111" stroke-width="2.2"/>
<text x="67" y="501.28" font-size="13.2" font-weight="bold" text-anchor="end" fill="#111">75</text>
<line x1="70.8" y1="449.3" x2="78.8" y2="449.3" stroke="#111" stroke-width="2.2"/>
<text x="67" y="454.1" font-size="13.2" font-weight="bold" text-anchor="end" fill="#111">100</text>
<line x1="98.3" y1="638" x2="98.3" y2="646.4" stroke="#111" stroke-width="2.2"/>
<line x1="128.2" y1="638" x2="128.2" y2="646.4" stroke="#111" stroke-width="2.2"/>
<line x1="158" y1="638" x2="158" y2="646.4" stroke="#111" stroke-width="2.2"/>
<line x1="187.8" y1="638" x2="187.8" y2="646.4" stroke="#111" stroke-width="2.2"/>
<line x1="217.6" y1="638" x2="217.6" y2="646.4" stroke="#111" stroke-width="2.2"/>
<line x1="247.5" y1="638" x2="247.5" y2="646.4" stroke="#111" stroke-width="2.2"/>
<text x="103.1" y="658.9" font-size="13" font-weight="bold" text-anchor="end" fill="#111" transform="rotate(-45 103.1 658.9)">T0</text>
<text x="133" y="658.9" font-size="13" font-weight="bold" text-anchor="end" fill="#111" transform="rotate(-45 133 658.9)">T1</text>
<text x="162.8" y="658.9" font-size="13" font-weight="bold" text-anchor="end" fill="#111" transform="rotate(-45 162.8 658.9)">T2</text>
<text x="192.6" y="658.9" font-size="13" font-weight="bold" text-anchor="end" fill="#111" transform="rotate(-45 192.6 658.9)">T3</text>
<text x="222.4" y="658.9" font-size="13" font-weight="bold" text-anchor="end" fill="#111" transform="rotate(-45 222.4 658.9)">T4</text>
<text x="260.1" y="652" font-size="13" font-weight="bold" text-anchor="end" fill="#111" transform="rotate(-45 260.1 652)">plaques</text>
<text x="131.6" y="692.1" font-size="13.1" font-weight="bold" fill="#111">Transfers</text>
<line x1="98.2" y1="406.6" x2="245.3" y2="406.6" stroke="#111" stroke-width="2.2"/>
<line x1="97.2" y1="432.6" x2="229.7" y2="432.6" stroke="#111" stroke-width="2.2"/>
<line x1="100.8" y1="453.5" x2="199.6" y2="453.5" stroke="#111" stroke-width="2.2"/>
<line x1="100.8" y1="473.8" x2="166.6" y2="473.8" stroke="#111" stroke-width="2.2"/>
<line x1="100.8" y1="494.9" x2="133.9" y2="494.9" stroke="#111" stroke-width="2.2"/>
<path d="M147.9 390.34L147.9 398.86M144.42 392.55L151.38 396.65M151.38 392.55L144.42 396.65M158.7 390.34L158.7 398.86M155.22 392.55L162.18 396.65M162.18 392.55L155.22 396.65M169.5 390.34L169.5 398.86M166.02 392.55L172.98 396.65M172.98 392.55L166.02 396.65M180.3 390.34L180.3 398.86M176.82 392.55L183.78 396.65M183.78 392.55L176.82 396.65" stroke="#111" stroke-width="1.7" fill="none"/>
<path d="M146.9 415.94L146.9 424.46M143.42 418.15L150.38 422.25M150.38 418.15L143.42 422.25M157.6 415.94L157.6 424.46M154.12 418.15L161.08 422.25M161.08 418.15L154.12 422.25M168.3 415.94L168.3 424.46M164.82 418.15L171.78 422.25M171.78 418.15L164.82 422.25M179 415.94L179 424.46M175.52 418.15L182.48 422.25M182.48 418.15L175.52 422.25" stroke="#111" stroke-width="1.7" fill="none"/>
<path d="M133.9 436.54L133.9 445.06M130.42 438.75L137.38 442.85M137.38 438.75L130.42 442.85M144.67 436.54L144.67 445.06M141.19 438.75L148.15 442.85M148.15 438.75L141.19 442.85M155.43 436.54L155.43 445.06M151.95 438.75L158.91 442.85M158.91 438.75L151.95 442.85M166.2 436.54L166.2 445.06M162.72 438.75L169.68 442.85M169.68 438.75L162.72 442.85" stroke="#111" stroke-width="1.7" fill="none"/>
<path d="M117.4 457.44L117.4 465.96M113.92 459.65L120.88 463.75M120.88 459.65L113.92 463.75M128.1 457.44L128.1 465.96M124.62 459.65L131.58 463.75M131.58 459.65L124.62 463.75M138.8 457.44L138.8 465.96M135.32 459.65L142.28 463.75M142.28 459.65L135.32 463.75M149.5 457.44L149.5 465.96M146.02 459.65L152.98 463.75M152.98 459.65L146.02 463.75" stroke="#111" stroke-width="1.7" fill="none"/>
<path d="M101.4 478.54L101.4 487.06M97.92 480.75L104.88 484.85M104.88 480.75L97.92 484.85M112 478.54L112 487.06M108.52 480.75L115.48 484.85M115.48 480.75L108.52 484.85M122.6 478.54L122.6 487.06M119.12 480.75L126.08 484.85M126.08 480.75L119.12 484.85M133.2 478.54L133.2 487.06M129.72 480.75L136.68 484.85M136.68 480.75L129.72 484.85" stroke="#111" stroke-width="1.7" fill="none"/>
<text x="41.6" y="557" font-size="13" font-weight="bold" text-anchor="middle" fill="#111" transform="rotate(-90 41.6 557)">Percentage (%)</text>
<text x="357.8" y="357.6" font-size="17.45" font-weight="bold" fill="#111">seszw_gene_t1</text>
<line x1="365" y1="547.28" x2="365" y2="521.62" stroke="#111" stroke-width="2.1"/>
<line x1="360.1" y1="521.62" x2="369.9" y2="521.62" stroke="#111" stroke-width="2.1"/>
<rect x="356.4" y="547.28" width="17.2" height="93.22" fill="#a2a2a9" stroke="#111" stroke-width="2.1"/>
<line x1="394.5" y1="507.66" x2="394.5" y2="503.5" stroke="#111" stroke-width="2.1"/>
<line x1="389.6" y1="503.5" x2="399.4" y2="503.5" stroke="#111" stroke-width="2.1"/>
<rect x="385.9" y="507.66" width="17.2" height="132.84" fill="#818181" stroke="#111" stroke-width="2.1"/>
<line x1="424.3" y1="492.18" x2="424.3" y2="473.12" stroke="#111" stroke-width="2.1"/>
<line x1="419.4" y1="473.12" x2="429.2" y2="473.12" stroke="#111" stroke-width="2.1"/>
<rect x="415.7" y="492.18" width="17.2" height="148.32" fill="#d6d6d6" stroke="#111" stroke-width="2.1"/>
<line x1="454.3" y1="464.82" x2="454.3" y2="454.25" stroke="#111" stroke-width="2.1"/>
<line x1="449.4" y1="454.25" x2="459.2" y2="454.25" stroke="#111" stroke-width="2.1"/>
<rect x="445.7" y="464.82" width="17.2" height="175.68" fill="#626262" stroke="#111" stroke-width="2.1"/>
<line x1="484.2" y1="458.03" x2="484.2" y2="454.25" stroke="#111" stroke-width="2.1"/>
<line x1="479.3" y1="454.25" x2="489.1" y2="454.25" stroke="#111" stroke-width="2.1"/>
<rect x="475.6" y="458.03" width="17.2" height="182.47" fill="#a2a2a9" stroke="#111" stroke-width="2.1"/>
<line x1="514" y1="478.97" x2="514" y2="459.35" stroke="#111" stroke-width="2.1"/>
<line x1="509.1" y1="459.35" x2="518.9" y2="459.35" stroke="#111" stroke-width="2.1"/>
<rect x="505.4" y="478.97" width="17.2" height="161.53" fill="#000000" stroke="#111" stroke-width="2.1"/>
<line x1="345.6" y1="450.7" x2="345.6" y2="641.6" stroke="#111" stroke-width="2.2"/>
<line x1="337.6" y1="640.5" x2="534.6" y2="640.5" stroke="#111" stroke-width="2.2"/>
<text x="333.8" y="645.3" font-size="13.2" font-weight="bold" text-anchor="end" fill="#111">0</text>
<line x1="337.6" y1="593.33" x2="345.6" y2="593.33" stroke="#111" stroke-width="2.2"/>
<text x="333.8" y="598.12" font-size="13.2" font-weight="bold" text-anchor="end" fill="#111">25</text>
<line x1="337.6" y1="546.15" x2="345.6" y2="546.15" stroke="#111" stroke-width="2.2"/>
<text x="333.8" y="550.95" font-size="13.2" font-weight="bold" text-anchor="end" fill="#111">50</text>
<line x1="337.6" y1="498.98" x2="345.6" y2="498.98" stroke="#111" stroke-width="2.2"/>
<text x="333.8" y="503.78" font-size="13.2" font-weight="bold" text-anchor="end" fill="#111">75</text>
<line x1="337.6" y1="451.8" x2="345.6" y2="451.8" stroke="#111" stroke-width="2.2"/>
<text x="333.8" y="456.6" font-size="13.2" font-weight="bold" text-anchor="end" fill="#111">100</text>
<line x1="365" y1="640.5" x2="365" y2="648.9" stroke="#111" stroke-width="2.2"/>
<line x1="394.5" y1="640.5" x2="394.5" y2="648.9" stroke="#111" stroke-width="2.2"/>
<line x1="424.3" y1="640.5" x2="424.3" y2="648.9" stroke="#111" stroke-width="2.2"/>
<line x1="454.3" y1="640.5" x2="454.3" y2="648.9" stroke="#111" stroke-width="2.2"/>
<line x1="484.2" y1="640.5" x2="484.2" y2="648.9" stroke="#111" stroke-width="2.2"/>
<line x1="514" y1="640.5" x2="514" y2="648.9" stroke="#111" stroke-width="2.2"/>
<text x="368.6" y="662.7" font-size="13" font-weight="bold" text-anchor="end" fill="#111" transform="rotate(-45 368.6 662.7)">T0</text>
<text x="398.1" y="662.7" font-size="13" font-weight="bold" text-anchor="end" fill="#111" transform="rotate(-45 398.1 662.7)">T1</text>
<text x="427.9" y="662.7" font-size="13" font-weight="bold" text-anchor="end" fill="#111" transform="rotate(-45 427.9 662.7)">T2</text>
<text x="457.9" y="662.7" font-size="13" font-weight="bold" text-anchor="end" fill="#111" transform="rotate(-45 457.9 662.7)">T3</text>
<text x="487.8" y="662.7" font-size="13" font-weight="bold" text-anchor="end" fill="#111" transform="rotate(-45 487.8 662.7)">T4</text>
<text x="531.9" y="654" font-size="13" font-weight="bold" text-anchor="end" fill="#111" transform="rotate(-45 531.9 654)">plaques</text>
<text x="407.3" y="688.8" font-size="13.1" font-weight="bold" fill="#111">Transfers</text>
<line x1="363.3" y1="399.9" x2="514.3" y2="399.9" stroke="#111" stroke-width="2.2"/>
<line x1="363.3" y1="421.4" x2="483.8" y2="421.4" stroke="#111" stroke-width="2.2"/>
<line x1="363.3" y1="443" x2="454.1" y2="443" stroke="#111" stroke-width="2.2"/>
<line x1="363.3" y1="464.7" x2="423.4" y2="464.7" stroke="#111" stroke-width="2.2"/>
<line x1="363.3" y1="486.4" x2="393.5" y2="486.4" stroke="#111" stroke-width="2.2"/>
<path d="M426.3 383.54L426.3 392.06M422.82 385.75L429.78 389.85M429.78 385.75L422.82 389.85M438.55 383.54L438.55 392.06M435.07 385.75L442.03 389.85M442.03 385.75L435.07 389.85M450.8 383.54L450.8 392.06M447.32 385.75L454.28 389.85M454.28 385.75L447.32 389.85" stroke="#111" stroke-width="1.7" fill="none"/>
<path d="M405.6 404.94L405.6 413.46M402.12 407.15L409.08 411.25M409.08 407.15L402.12 411.25M417.4 404.94L417.4 413.46M413.92 407.15L420.88 411.25M420.88 407.15L413.92 411.25M429.2 404.94L429.2 413.46M425.72 407.15L432.68 411.25M432.68 407.15L425.72 411.25M441 404.94L441 413.46M437.52 407.15L444.48 411.25M444.48 407.15L437.52 411.25" stroke="#111" stroke-width="1.7" fill="none"/>
<path d="M390.1 426.64L390.1 435.16M386.62 428.85L393.58 432.95M393.58 428.85L386.62 432.95M402.07 426.64L402.07 435.16M398.59 428.85L405.55 432.95M405.55 428.85L398.59 432.95M414.03 426.64L414.03 435.16M410.55 428.85L417.51 432.95M417.51 428.85L410.55 432.95M426 426.64L426 435.16M422.52 428.85L429.48 432.95M429.48 428.85L422.52 432.95" stroke="#111" stroke-width="1.7" fill="none"/>
<path d="M387 448.34L387 456.86M383.52 450.55L390.48 454.65M390.48 450.55L383.52 454.65M400.2 448.34L400.2 456.86M396.72 450.55L403.68 454.65M403.68 450.55L396.72 454.65" stroke="#111" stroke-width="1.7" fill="none"/>
<path d="M378.4 470.04L378.4 478.56M374.92 472.25L381.88 476.35M381.88 472.25L374.92 476.35" stroke="#111" stroke-width="1.7" fill="none"/>
<text x="654" y="357.6" font-size="17.45" font-weight="bold" fill="#111">T4_100_t3</text>
<line x1="639.4" y1="565.41" x2="639.4" y2="552.27" stroke="#111" stroke-width="2.1"/>
<line x1="634.5" y1="552.27" x2="644.3" y2="552.27" stroke="#111" stroke-width="2.1"/>
<rect x="630.8" y="565.41" width="17.2" height="74.89" fill="#a2a2a9" stroke="#111" stroke-width="2.1"/>
<line x1="669" y1="522.42" x2="669" y2="495.02" stroke="#111" stroke-width="2.1"/>
<line x1="664.1" y1="495.02" x2="673.9" y2="495.02" stroke="#111" stroke-width="2.1"/>
<rect x="660.4" y="522.42" width="17.2" height="117.88" fill="#818181" stroke="#111" stroke-width="2.1"/>
<line x1="698.6" y1="481.88" x2="698.6" y2="477.56" stroke="#111" stroke-width="2.1"/>
<line x1="693.7" y1="477.56" x2="703.5" y2="477.56" stroke="#111" stroke-width="2.1"/>
<rect x="690" y="481.88" width="17.2" height="158.42" fill="#d6d6d6" stroke="#111" stroke-width="2.1"/>
<line x1="728.2" y1="482.82" x2="728.2" y2="470.99" stroke="#111" stroke-width="2.1"/>
<line x1="723.3" y1="470.99" x2="733.1" y2="470.99" stroke="#111" stroke-width="2.1"/>
<rect x="719.6" y="482.82" width="17.2" height="157.48" fill="#626262" stroke="#111" stroke-width="2.1"/>
<line x1="757.8" y1="464.8" x2="757.8" y2="462.17" stroke="#111" stroke-width="2.1"/>
<line x1="752.9" y1="462.17" x2="762.7" y2="462.17" stroke="#111" stroke-width="2.1"/>
<rect x="749.2" y="464.8" width="17.2" height="175.5" fill="#a2a2a9" stroke="#111" stroke-width="2.1"/>
<line x1="787.4" y1="464.24" x2="787.4" y2="453.73" stroke="#111" stroke-width="2.1"/>
<line x1="782.5" y1="453.73" x2="792.3" y2="453.73" stroke="#111" stroke-width="2.1"/>
<rect x="778.8" y="464.24" width="17.2" height="176.06" fill="#000000" stroke="#111" stroke-width="2.1"/>
<line x1="619.6" y1="451.5" x2="619.6" y2="641.4" stroke="#111" stroke-width="2.2"/>
<line x1="611.6" y1="640.3" x2="808.1" y2="640.3" stroke="#111" stroke-width="2.2"/>
<text x="607.8" y="645.1" font-size="13.2" font-weight="bold" text-anchor="end" fill="#111">0</text>
<line x1="611.6" y1="593.38" x2="619.6" y2="593.38" stroke="#111" stroke-width="2.2"/>
<text x="607.8" y="598.17" font-size="13.2" font-weight="bold" text-anchor="end" fill="#111">25</text>
<line x1="611.6" y1="546.45" x2="619.6" y2="546.45" stroke="#111" stroke-width="2.2"/>
<text x="607.8" y="551.25" font-size="13.2" font-weight="bold" text-anchor="end" fill="#111">50</text>
<line x1="611.6" y1="499.52" x2="619.6" y2="499.52" stroke="#111" stroke-width="2.2"/>
<text x="607.8" y="504.32" font-size="13.2" font-weight="bold" text-anchor="end" fill="#111">75</text>
<line x1="611.6" y1="452.6" x2="619.6" y2="452.6" stroke="#111" stroke-width="2.2"/>
<text x="607.8" y="457.4" font-size="13.2" font-weight="bold" text-anchor="end" fill="#111">100</text>
<line x1="639.4" y1="640.3" x2="639.4" y2="648.7" stroke="#111" stroke-width="2.2"/>
<line x1="669" y1="640.3" x2="669" y2="648.7" stroke="#111" stroke-width="2.2"/>
<line x1="698.6" y1="640.3" x2="698.6" y2="648.7" stroke="#111" stroke-width="2.2"/>
<line x1="728.2" y1="640.3" x2="728.2" y2="648.7" stroke="#111" stroke-width="2.2"/>
<line x1="757.8" y1="640.3" x2="757.8" y2="648.7" stroke="#111" stroke-width="2.2"/>
<line x1="787.4" y1="640.3" x2="787.4" y2="648.7" stroke="#111" stroke-width="2.2"/>
<text x="643.2" y="661.7" font-size="13" font-weight="bold" text-anchor="end" fill="#111" transform="rotate(-45 643.2 661.7)">T0</text>
<text x="672.8" y="661.7" font-size="13" font-weight="bold" text-anchor="end" fill="#111" transform="rotate(-45 672.8 661.7)">T1</text>
<text x="702.4" y="661.7" font-size="13" font-weight="bold" text-anchor="end" fill="#111" transform="rotate(-45 702.4 661.7)">T2</text>
<text x="732" y="661.7" font-size="13" font-weight="bold" text-anchor="end" fill="#111" transform="rotate(-45 732 661.7)">T3</text>
<text x="761.6" y="661.7" font-size="13" font-weight="bold" text-anchor="end" fill="#111" transform="rotate(-45 761.6 661.7)">T4</text>
<text x="801.4" y="652.6" font-size="13" font-weight="bold" text-anchor="end" fill="#111" transform="rotate(-45 801.4 652.6)">plaques</text>
<text x="678.2" y="687.7" font-size="13.1" font-weight="bold" fill="#111">Transfers</text>
<line x1="636.7" y1="396" x2="787.2" y2="396" stroke="#111" stroke-width="2.2"/>
<line x1="636.7" y1="419.3" x2="757" y2="419.3" stroke="#111" stroke-width="2.2"/>
<line x1="636.7" y1="442" x2="727.1" y2="442" stroke="#111" stroke-width="2.2"/>
<line x1="636.7" y1="464.5" x2="696.9" y2="464.5" stroke="#111" stroke-width="2.2"/>
<line x1="637.5" y1="487.2" x2="666.6" y2="487.2" stroke="#111" stroke-width="2.2"/>
<path d="M694 380.14L694 388.66M690.52 382.35L697.48 386.45M697.48 382.35L690.52 386.45M705.8 380.14L705.8 388.66M702.32 382.35L709.28 386.45M709.28 382.35L702.32 386.45M717.6 380.14L717.6 388.66M714.12 382.35L721.08 386.45M721.08 382.35L714.12 386.45M729.4 380.14L729.4 388.66M725.92 382.35L732.88 386.45M732.88 382.35L725.92 386.45" stroke="#111" stroke-width="1.7" fill="none"/>
<path d="M679 402.84L679 411.36M675.52 405.05L682.48 409.15M682.48 405.05L675.52 409.15M690.8 402.84L690.8 411.36M687.32 405.05L694.28 409.15M694.28 405.05L687.32 409.15M702.6 402.84L702.6 411.36M699.12 405.05L706.08 409.15M706.08 405.05L699.12 409.15M714.4 402.84L714.4 411.36M710.92 405.05L717.88 409.15M717.88 405.05L710.92 409.15" stroke="#111" stroke-width="1.7" fill="none"/>
<path d="M663.8 425.64L663.8 434.16M660.32 427.85L667.28 431.95M667.28 427.85L660.32 431.95M675.53 425.64L675.53 434.16M672.05 427.85L679.01 431.95M679.01 427.85L672.05 431.95M687.27 425.64L687.27 434.16M683.79 427.85L690.75 431.95M690.75 427.85L683.79 431.95M699 425.64L699 434.16M695.52 427.85L702.48 431.95M702.48 427.85L695.52 431.95" stroke="#111" stroke-width="1.7" fill="none"/>
<path d="M648.8 448.04L648.8 456.56M645.32 450.25L652.28 454.35M652.28 450.25L645.32 454.35M660.6 448.04L660.6 456.56M657.12 450.25L664.08 454.35M664.08 450.25L657.12 454.35M672.4 448.04L672.4 456.56M668.92 450.25L675.88 454.35M675.88 450.25L668.92 454.35M684.2 448.04L684.2 456.56M680.72 450.25L687.68 454.35M687.68 450.25L680.72 454.35" stroke="#111" stroke-width="1.7" fill="none"/>
<path d="M645.2 470.74L645.2 479.26M641.72 472.95L648.68 477.05M648.68 472.95L641.72 477.05M658.4 470.74L658.4 479.26M654.92 472.95L661.88 477.05M661.88 472.95L654.92 477.05" stroke="#111" stroke-width="1.7" fill="none"/>
<text x="901" y="357.6" font-size="17.45" font-weight="bold" fill="#111">selz_100_t1</text>
<line x1="910" y1="564.41" x2="910" y2="538.37" stroke="#111" stroke-width="2.1"/>
<line x1="905.1" y1="538.37" x2="914.9" y2="538.37" stroke="#111" stroke-width="2.1"/>
<rect x="901.4" y="564.41" width="17.2" height="75.29" fill="#a2a2a9" stroke="#111" stroke-width="2.1"/>
<line x1="939.5" y1="495.91" x2="939.5" y2="472.7" stroke="#111" stroke-width="2.1"/>
<line x1="934.6" y1="472.7" x2="944.4" y2="472.7" stroke="#111" stroke-width="2.1"/>
<rect x="930.9" y="495.91" width="17.2" height="143.79" fill="#818181" stroke="#111" stroke-width="2.1"/>
<line x1="969.4" y1="483.08" x2="969.4" y2="472.7" stroke="#111" stroke-width="2.1"/>
<line x1="964.5" y1="472.7" x2="974.3" y2="472.7" stroke="#111" stroke-width="2.1"/>
<rect x="960.8" y="483.08" width="17.2" height="156.62" fill="#d6d6d6" stroke="#111" stroke-width="2.1"/>
<line x1="999" y1="469.49" x2="999" y2="458.93" stroke="#111" stroke-width="2.1"/>
<line x1="994.1" y1="458.93" x2="1003.9" y2="458.93" stroke="#111" stroke-width="2.1"/>
<rect x="990.4" y="469.49" width="17.2" height="170.21" fill="#626262" stroke="#111" stroke-width="2.1"/>
<line x1="1028.7" y1="461.94" x2="1028.7" y2="459.49" stroke="#111" stroke-width="2.1"/>
<line x1="1023.8" y1="459.49" x2="1033.6" y2="459.49" stroke="#111" stroke-width="2.1"/>
<rect x="1020.1" y="461.94" width="17.2" height="177.76" fill="#a2a2a9" stroke="#111" stroke-width="2.1"/>
<rect x="1050.2" y="451.94" width="17.2" height="187.76" fill="#000000" stroke="#111" stroke-width="2.1"/>
<line x1="889.8" y1="449.9" x2="889.8" y2="640.8" stroke="#111" stroke-width="2.2"/>
<line x1="881.8" y1="639.7" x2="1081" y2="639.7" stroke="#111" stroke-width="2.2"/>
<text x="878" y="644.5" font-size="13.2" font-weight="bold" text-anchor="end" fill="#111">0</text>
<line x1="881.8" y1="592.53" x2="889.8" y2="592.53" stroke="#111" stroke-width="2.2"/>
<text x="878" y="597.33" font-size="13.2" font-weight="bold" text-anchor="end" fill="#111">25</text>
<line x1="881.8" y1="545.35" x2="889.8" y2="545.35" stroke="#111" stroke-width="2.2"/>
<text x="878" y="550.15" font-size="13.2" font-weight="bold" text-anchor="end" fill="#111">50</text>
<line x1="881.8" y1="498.18" x2="889.8" y2="498.18" stroke="#111" stroke-width="2.2"/>
<text x="878" y="502.98" font-size="13.2" font-weight="bold" text-anchor="end" fill="#111">75</text>
<line x1="881.8" y1="451" x2="889.8" y2="451" stroke="#111" stroke-width="2.2"/>
<text x="878" y="455.8" font-size="13.2" font-weight="bold" text-anchor="end" fill="#111">100</text>
<line x1="910" y1="639.7" x2="910" y2="648.1" stroke="#111" stroke-width="2.2"/>
<line x1="939.5" y1="639.7" x2="939.5" y2="648.1" stroke="#111" stroke-width="2.2"/>
<line x1="969.4" y1="639.7" x2="969.4" y2="648.1" stroke="#111" stroke-width="2.2"/>
<line x1="999" y1="639.7" x2="999" y2="648.1" stroke="#111" stroke-width="2.2"/>
<line x1="1028.7" y1="639.7" x2="1028.7" y2="648.1" stroke="#111" stroke-width="2.2"/>
<line x1="1058.8" y1="639.7" x2="1058.8" y2="648.1" stroke="#111" stroke-width="2.2"/>
<text x="914.1" y="661.1" font-size="13" font-weight="bold" text-anchor="end" fill="#111" transform="rotate(-45 914.1 661.1)">T0</text>
<text x="943.6" y="661.1" font-size="13" font-weight="bold" text-anchor="end" fill="#111" transform="rotate(-45 943.6 661.1)">T1</text>
<text x="973.5" y="661.1" font-size="13" font-weight="bold" text-anchor="end" fill="#111" transform="rotate(-45 973.5 661.1)">T2</text>
<text x="1003.1" y="661.1" font-size="13" font-weight="bold" text-anchor="end" fill="#111" transform="rotate(-45 1003.1 661.1)">T3</text>
<text x="1032.8" y="661.1" font-size="13" font-weight="bold" text-anchor="end" fill="#111" transform="rotate(-45 1032.8 661.1)">T4</text>
<text x="1074" y="652.5" font-size="13" font-weight="bold" text-anchor="end" fill="#111" transform="rotate(-45 1074 652.5)">plaques</text>
<text x="960.6" y="687.7" font-size="13.1" font-weight="bold" fill="#111">Transfers</text>
<line x1="909.1" y1="384.7" x2="1062.7" y2="384.7" stroke="#111" stroke-width="2.2"/>
<line x1="909.1" y1="405.8" x2="1024.8" y2="405.8" stroke="#111" stroke-width="2.2"/>
<line x1="909.1" y1="427" x2="995.6" y2="427" stroke="#111" stroke-width="2.2"/>
<line x1="909.1" y1="447.9" x2="966.4" y2="447.9" stroke="#111" stroke-width="2.2"/>
<line x1="911.7" y1="468.6" x2="940.1" y2="468.6" stroke="#111" stroke-width="2.2"/>
<path d="M967.4 368.54L967.4 377.06M963.92 370.75L970.88 374.85M970.88 370.75L963.92 374.85M979.3 368.54L979.3 377.06M975.82 370.75L982.78 374.85M982.78 370.75L975.82 374.85M991.2 368.54L991.2 377.06M987.72 370.75L994.68 374.85M994.68 370.75L987.72 374.85M1003.1 368.54L1003.1 377.06M999.62 370.75L1006.58 374.85M1006.58 370.75L999.62 374.85" stroke="#111" stroke-width="1.7" fill="none"/>
<path d="M949.6 389.44L949.6 397.96M946.12 391.65L953.08 395.75M953.08 391.65L946.12 395.75M960.97 389.44L960.97 397.96M957.49 391.65L964.45 395.75M964.45 391.65L957.49 395.75M972.33 389.44L972.33 397.96M968.85 391.65L975.81 395.75M975.81 391.65L968.85 395.75M983.7 389.44L983.7 397.96M980.22 391.65L987.18 395.75M987.18 391.65L980.22 395.75" stroke="#111" stroke-width="1.7" fill="none"/>
<path d="M935.1 410.64L935.1 419.16M931.62 412.85L938.58 416.95M938.58 412.85L931.62 416.95M946.5 410.64L946.5 419.16M943.02 412.85L949.98 416.95M949.98 412.85L943.02 416.95M957.9 410.64L957.9 419.16M954.42 412.85L961.38 416.95M961.38 412.85L954.42 416.95M969.3 410.64L969.3 419.16M965.82 412.85L972.78 416.95M972.78 412.85L965.82 416.95" stroke="#111" stroke-width="1.7" fill="none"/>
<path d="M926.4 431.74L926.4 440.26M922.92 433.95L929.88 438.05M929.88 433.95L922.92 438.05M938.15 431.74L938.15 440.26M934.67 433.95L941.63 438.05M941.63 433.95L934.67 438.05M949.9 431.74L949.9 440.26M946.42 433.95L953.38 438.05M953.38 433.95L946.42 438.05" stroke="#111" stroke-width="1.7" fill="none"/>
<path d="M914 452.44L914 460.96M910.52 454.65L917.48 458.75M917.48 454.65L910.52 458.75M925.5 452.44L925.5 460.96M922.02 454.65L928.98 458.75M928.98 454.65L922.02 458.75M937 452.44L937 460.96M933.52 454.65L940.48 458.75M940.48 454.65L933.52 458.75" stroke="#111" stroke-width="1.7" fill="none"/>
</svg>
</body></html>
